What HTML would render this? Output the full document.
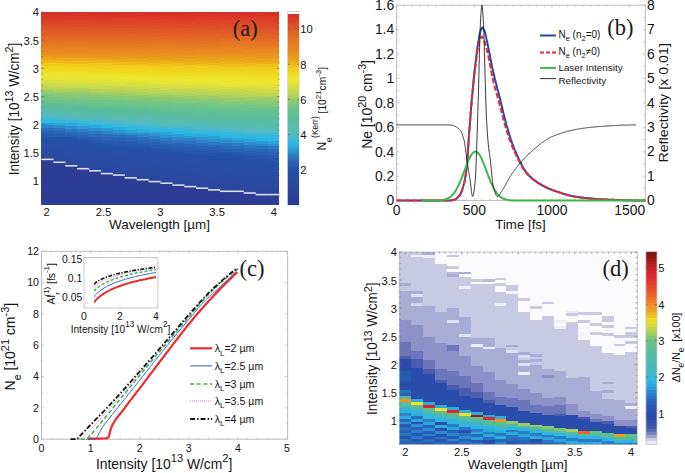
<!DOCTYPE html>
<html><head><meta charset="utf-8"><style>
html,body{margin:0;padding:0;background:#fff;width:685px;height:473px;overflow:hidden}
svg{display:block;font-family:"Liberation Sans",sans-serif}
</style></head><body>
<svg width="685" height="473" viewBox="0 0 685 473" font-family="Liberation Sans, sans-serif">
<defs><linearGradient id="g1" gradientUnits="userSpaceOnUse" x1="0" y1="12.00" x2="0" y2="204.50"><stop offset="0.0000" stop-color="#d82c24"/><stop offset="0.0010" stop-color="#d82c24"/><stop offset="0.0010" stop-color="#d93024"/><stop offset="0.0157" stop-color="#d93024"/><stop offset="0.0157" stop-color="#da3725"/><stop offset="0.0304" stop-color="#da3725"/><stop offset="0.0304" stop-color="#db3d26"/><stop offset="0.0451" stop-color="#db3d26"/><stop offset="0.0451" stop-color="#dd4426"/><stop offset="0.0598" stop-color="#dd4426"/><stop offset="0.0598" stop-color="#de4a26"/><stop offset="0.0745" stop-color="#de4a26"/><stop offset="0.0745" stop-color="#df5126"/><stop offset="0.0892" stop-color="#df5126"/><stop offset="0.0892" stop-color="#e05826"/><stop offset="0.1039" stop-color="#e05826"/><stop offset="0.1039" stop-color="#e15e25"/><stop offset="0.1186" stop-color="#e15e25"/><stop offset="0.1186" stop-color="#e26425"/><stop offset="0.1333" stop-color="#e26425"/><stop offset="0.1333" stop-color="#e46b24"/><stop offset="0.1480" stop-color="#e46b24"/><stop offset="0.1480" stop-color="#e57223"/><stop offset="0.1627" stop-color="#e57223"/><stop offset="0.1627" stop-color="#e57923"/><stop offset="0.1775" stop-color="#e57923"/><stop offset="0.1775" stop-color="#e68022"/><stop offset="0.1922" stop-color="#e68022"/><stop offset="0.1922" stop-color="#e78721"/><stop offset="0.2069" stop-color="#e78721"/><stop offset="0.2069" stop-color="#e88f20"/><stop offset="0.2216" stop-color="#e88f20"/><stop offset="0.2216" stop-color="#ea981e"/><stop offset="0.2363" stop-color="#ea981e"/><stop offset="0.2363" stop-color="#eca61d"/><stop offset="0.2510" stop-color="#eca61d"/><stop offset="0.2510" stop-color="#f0b71a"/><stop offset="0.2657" stop-color="#f0b71a"/><stop offset="0.2657" stop-color="#f0cb1c"/><stop offset="0.2804" stop-color="#f0cb1c"/><stop offset="0.2804" stop-color="#f0d41f"/><stop offset="0.2951" stop-color="#f0d41f"/><stop offset="0.2951" stop-color="#f0db22"/><stop offset="0.3098" stop-color="#f0db22"/><stop offset="0.3098" stop-color="#efe228"/><stop offset="0.3245" stop-color="#efe228"/><stop offset="0.3245" stop-color="#ebe530"/><stop offset="0.3392" stop-color="#ebe530"/><stop offset="0.3392" stop-color="#e5e438"/><stop offset="0.3539" stop-color="#e5e438"/><stop offset="0.3539" stop-color="#dae041"/><stop offset="0.3686" stop-color="#dae041"/><stop offset="0.3686" stop-color="#cdda49"/><stop offset="0.3833" stop-color="#cdda49"/><stop offset="0.3833" stop-color="#bcd554"/><stop offset="0.3981" stop-color="#bcd554"/><stop offset="0.3981" stop-color="#a9d05f"/><stop offset="0.4128" stop-color="#a9d05f"/><stop offset="0.4128" stop-color="#8fcb70"/><stop offset="0.4275" stop-color="#8fcb70"/><stop offset="0.4275" stop-color="#80c77b"/><stop offset="0.4422" stop-color="#80c77b"/><stop offset="0.4422" stop-color="#72c486"/><stop offset="0.4569" stop-color="#72c486"/><stop offset="0.4569" stop-color="#69c28d"/><stop offset="0.4716" stop-color="#69c28d"/><stop offset="0.4716" stop-color="#5fc095"/><stop offset="0.4863" stop-color="#5fc095"/><stop offset="0.4863" stop-color="#59bc9d"/><stop offset="0.5010" stop-color="#59bc9d"/><stop offset="0.5010" stop-color="#58bca5"/><stop offset="0.5157" stop-color="#58bca5"/><stop offset="0.5157" stop-color="#57bcaf"/><stop offset="0.5304" stop-color="#57bcaf"/><stop offset="0.5304" stop-color="#55babd"/><stop offset="0.5451" stop-color="#55babd"/><stop offset="0.5451" stop-color="#42b8d5"/><stop offset="0.5598" stop-color="#42b8d5"/><stop offset="0.5598" stop-color="#2cb8e5"/><stop offset="0.5745" stop-color="#2cb8e5"/><stop offset="0.5745" stop-color="#2b9ed8"/><stop offset="0.5892" stop-color="#2b9ed8"/><stop offset="0.5892" stop-color="#2d84c8"/><stop offset="0.6039" stop-color="#2d84c8"/><stop offset="0.6039" stop-color="#2b6ebc"/><stop offset="0.6186" stop-color="#2b6ebc"/><stop offset="0.6186" stop-color="#2862b4"/><stop offset="0.6334" stop-color="#2862b4"/><stop offset="0.6334" stop-color="#2559ae"/><stop offset="0.6481" stop-color="#2559ae"/><stop offset="0.6481" stop-color="#2452a9"/><stop offset="0.6628" stop-color="#2452a9"/><stop offset="0.6628" stop-color="#254fa7"/><stop offset="0.6775" stop-color="#254fa7"/><stop offset="0.6775" stop-color="#264ea6"/><stop offset="0.6922" stop-color="#264ea6"/><stop offset="0.6922" stop-color="#274da5"/><stop offset="0.7069" stop-color="#274da5"/><stop offset="0.7069" stop-color="#284ca4"/><stop offset="0.7216" stop-color="#284ca4"/><stop offset="0.7216" stop-color="#294ba3"/><stop offset="0.7363" stop-color="#294ba3"/><stop offset="0.7363" stop-color="#2a4aa2"/><stop offset="0.7510" stop-color="#2a4aa2"/><stop offset="0.7510" stop-color="#2a49a1"/><stop offset="0.7657" stop-color="#2a49a1"/><stop offset="0.7657" stop-color="#2d3c94"/><stop offset="1.0000" stop-color="#2d3c94"/></linearGradient>
<linearGradient id="g2" gradientUnits="userSpaceOnUse" x1="0" y1="12.00" x2="0" y2="204.50"><stop offset="0.0000" stop-color="#d82c24"/><stop offset="0.0013" stop-color="#d82c24"/><stop offset="0.0013" stop-color="#d93024"/><stop offset="0.0160" stop-color="#d93024"/><stop offset="0.0160" stop-color="#da3725"/><stop offset="0.0307" stop-color="#da3725"/><stop offset="0.0307" stop-color="#db3d26"/><stop offset="0.0455" stop-color="#db3d26"/><stop offset="0.0455" stop-color="#dd4426"/><stop offset="0.0602" stop-color="#dd4426"/><stop offset="0.0602" stop-color="#de4b26"/><stop offset="0.0749" stop-color="#de4b26"/><stop offset="0.0749" stop-color="#df5126"/><stop offset="0.0896" stop-color="#df5126"/><stop offset="0.0896" stop-color="#e05826"/><stop offset="0.1043" stop-color="#e05826"/><stop offset="0.1043" stop-color="#e15e25"/><stop offset="0.1190" stop-color="#e15e25"/><stop offset="0.1190" stop-color="#e26425"/><stop offset="0.1337" stop-color="#e26425"/><stop offset="0.1337" stop-color="#e46b24"/><stop offset="0.1484" stop-color="#e46b24"/><stop offset="0.1484" stop-color="#e57223"/><stop offset="0.1631" stop-color="#e57223"/><stop offset="0.1631" stop-color="#e57923"/><stop offset="0.1778" stop-color="#e57923"/><stop offset="0.1778" stop-color="#e68022"/><stop offset="0.1925" stop-color="#e68022"/><stop offset="0.1925" stop-color="#e78721"/><stop offset="0.2072" stop-color="#e78721"/><stop offset="0.2072" stop-color="#e88f20"/><stop offset="0.2219" stop-color="#e88f20"/><stop offset="0.2219" stop-color="#ea981e"/><stop offset="0.2366" stop-color="#ea981e"/><stop offset="0.2366" stop-color="#eca61d"/><stop offset="0.2513" stop-color="#eca61d"/><stop offset="0.2513" stop-color="#f0b61a"/><stop offset="0.2661" stop-color="#f0b61a"/><stop offset="0.2661" stop-color="#f0ca1c"/><stop offset="0.2808" stop-color="#f0ca1c"/><stop offset="0.2808" stop-color="#f0d41f"/><stop offset="0.2955" stop-color="#f0d41f"/><stop offset="0.2955" stop-color="#f0db22"/><stop offset="0.3102" stop-color="#f0db22"/><stop offset="0.3102" stop-color="#efe228"/><stop offset="0.3249" stop-color="#efe228"/><stop offset="0.3249" stop-color="#ece62f"/><stop offset="0.3396" stop-color="#ece62f"/><stop offset="0.3396" stop-color="#e6e437"/><stop offset="0.3543" stop-color="#e6e437"/><stop offset="0.3543" stop-color="#dbe040"/><stop offset="0.3690" stop-color="#dbe040"/><stop offset="0.3690" stop-color="#cfdb48"/><stop offset="0.3837" stop-color="#cfdb48"/><stop offset="0.3837" stop-color="#bed652"/><stop offset="0.3984" stop-color="#bed652"/><stop offset="0.3984" stop-color="#acd15d"/><stop offset="0.4131" stop-color="#acd15d"/><stop offset="0.4131" stop-color="#92cb6e"/><stop offset="0.4278" stop-color="#92cb6e"/><stop offset="0.4278" stop-color="#83c879"/><stop offset="0.4425" stop-color="#83c879"/><stop offset="0.4425" stop-color="#74c484"/><stop offset="0.4572" stop-color="#74c484"/><stop offset="0.4572" stop-color="#6bc28b"/><stop offset="0.4719" stop-color="#6bc28b"/><stop offset="0.4719" stop-color="#61c093"/><stop offset="0.4866" stop-color="#61c093"/><stop offset="0.4866" stop-color="#5abd9b"/><stop offset="0.5014" stop-color="#5abd9b"/><stop offset="0.5014" stop-color="#58bca3"/><stop offset="0.5161" stop-color="#58bca3"/><stop offset="0.5161" stop-color="#58bcac"/><stop offset="0.5308" stop-color="#58bcac"/><stop offset="0.5308" stop-color="#55bbb9"/><stop offset="0.5455" stop-color="#55bbb9"/><stop offset="0.5455" stop-color="#49b9ce"/><stop offset="0.5602" stop-color="#49b9ce"/><stop offset="0.5602" stop-color="#33b8e0"/><stop offset="0.5749" stop-color="#33b8e0"/><stop offset="0.5749" stop-color="#2aa8de"/><stop offset="0.5896" stop-color="#2aa8de"/><stop offset="0.5896" stop-color="#2e8dcd"/><stop offset="0.6043" stop-color="#2e8dcd"/><stop offset="0.6043" stop-color="#2c74c0"/><stop offset="0.6190" stop-color="#2c74c0"/><stop offset="0.6190" stop-color="#2966b7"/><stop offset="0.6337" stop-color="#2966b7"/><stop offset="0.6337" stop-color="#265db0"/><stop offset="0.6484" stop-color="#265db0"/><stop offset="0.6484" stop-color="#2454aa"/><stop offset="0.6631" stop-color="#2454aa"/><stop offset="0.6631" stop-color="#2450a8"/><stop offset="0.6778" stop-color="#2450a8"/><stop offset="0.6778" stop-color="#254fa7"/><stop offset="0.6925" stop-color="#254fa7"/><stop offset="0.6925" stop-color="#274da5"/><stop offset="0.7072" stop-color="#274da5"/><stop offset="0.7072" stop-color="#284ca4"/><stop offset="0.7220" stop-color="#284ca4"/><stop offset="0.7220" stop-color="#294ba3"/><stop offset="0.7367" stop-color="#294ba3"/><stop offset="0.7367" stop-color="#2a4aa2"/><stop offset="0.7514" stop-color="#2a4aa2"/><stop offset="0.7514" stop-color="#2a4aa2"/><stop offset="0.7661" stop-color="#2a4aa2"/><stop offset="0.7661" stop-color="#2a49a1"/><stop offset="0.7808" stop-color="#2a49a1"/><stop offset="0.7808" stop-color="#2d3c94"/><stop offset="1.0000" stop-color="#2d3c94"/></linearGradient>
<linearGradient id="g3" gradientUnits="userSpaceOnUse" x1="0" y1="12.00" x2="0" y2="204.50"><stop offset="0.0000" stop-color="#d82d24"/><stop offset="0.0048" stop-color="#d82d24"/><stop offset="0.0048" stop-color="#d93225"/><stop offset="0.0195" stop-color="#d93225"/><stop offset="0.0195" stop-color="#da3825"/><stop offset="0.0342" stop-color="#da3825"/><stop offset="0.0342" stop-color="#dc3f26"/><stop offset="0.0489" stop-color="#dc3f26"/><stop offset="0.0489" stop-color="#dd4626"/><stop offset="0.0636" stop-color="#dd4626"/><stop offset="0.0636" stop-color="#de4c26"/><stop offset="0.0783" stop-color="#de4c26"/><stop offset="0.0783" stop-color="#df5326"/><stop offset="0.0930" stop-color="#df5326"/><stop offset="0.0930" stop-color="#e05926"/><stop offset="0.1078" stop-color="#e05926"/><stop offset="0.1078" stop-color="#e15f25"/><stop offset="0.1225" stop-color="#e15f25"/><stop offset="0.1225" stop-color="#e36625"/><stop offset="0.1372" stop-color="#e36625"/><stop offset="0.1372" stop-color="#e46d24"/><stop offset="0.1519" stop-color="#e46d24"/><stop offset="0.1519" stop-color="#e57423"/><stop offset="0.1666" stop-color="#e57423"/><stop offset="0.1666" stop-color="#e67b22"/><stop offset="0.1813" stop-color="#e67b22"/><stop offset="0.1813" stop-color="#e78221"/><stop offset="0.1960" stop-color="#e78221"/><stop offset="0.1960" stop-color="#e88920"/><stop offset="0.2107" stop-color="#e88920"/><stop offset="0.2107" stop-color="#e9911f"/><stop offset="0.2254" stop-color="#e9911f"/><stop offset="0.2254" stop-color="#ea9a1e"/><stop offset="0.2401" stop-color="#ea9a1e"/><stop offset="0.2401" stop-color="#eda91c"/><stop offset="0.2548" stop-color="#eda91c"/><stop offset="0.2548" stop-color="#f0b91a"/><stop offset="0.2695" stop-color="#f0b91a"/><stop offset="0.2695" stop-color="#f0cd1c"/><stop offset="0.2842" stop-color="#f0cd1c"/><stop offset="0.2842" stop-color="#f0d51f"/><stop offset="0.2989" stop-color="#f0d51f"/><stop offset="0.2989" stop-color="#f0dc22"/><stop offset="0.3136" stop-color="#f0dc22"/><stop offset="0.3136" stop-color="#efe228"/><stop offset="0.3284" stop-color="#efe228"/><stop offset="0.3284" stop-color="#ebe530"/><stop offset="0.3431" stop-color="#ebe530"/><stop offset="0.3431" stop-color="#e5e438"/><stop offset="0.3578" stop-color="#e5e438"/><stop offset="0.3578" stop-color="#dae040"/><stop offset="0.3725" stop-color="#dae040"/><stop offset="0.3725" stop-color="#cdda49"/><stop offset="0.3872" stop-color="#cdda49"/><stop offset="0.3872" stop-color="#bdd553"/><stop offset="0.4019" stop-color="#bdd553"/><stop offset="0.4019" stop-color="#abd15e"/><stop offset="0.4166" stop-color="#abd15e"/><stop offset="0.4166" stop-color="#91cb6e"/><stop offset="0.4313" stop-color="#91cb6e"/><stop offset="0.4313" stop-color="#82c87a"/><stop offset="0.4460" stop-color="#82c87a"/><stop offset="0.4460" stop-color="#73c485"/><stop offset="0.4607" stop-color="#73c485"/><stop offset="0.4607" stop-color="#6bc28c"/><stop offset="0.4754" stop-color="#6bc28c"/><stop offset="0.4754" stop-color="#61c093"/><stop offset="0.4901" stop-color="#61c093"/><stop offset="0.4901" stop-color="#5bbd9b"/><stop offset="0.5048" stop-color="#5bbd9b"/><stop offset="0.5048" stop-color="#58bca3"/><stop offset="0.5195" stop-color="#58bca3"/><stop offset="0.5195" stop-color="#58bcab"/><stop offset="0.5342" stop-color="#58bcab"/><stop offset="0.5342" stop-color="#56bbb8"/><stop offset="0.5490" stop-color="#56bbb8"/><stop offset="0.5490" stop-color="#4bb9cb"/><stop offset="0.5637" stop-color="#4bb9cb"/><stop offset="0.5637" stop-color="#36b8de"/><stop offset="0.5784" stop-color="#36b8de"/><stop offset="0.5784" stop-color="#2aabe0"/><stop offset="0.5931" stop-color="#2aabe0"/><stop offset="0.5931" stop-color="#2d91d0"/><stop offset="0.6078" stop-color="#2d91d0"/><stop offset="0.6078" stop-color="#2c78c2"/><stop offset="0.6225" stop-color="#2c78c2"/><stop offset="0.6225" stop-color="#2a69b9"/><stop offset="0.6372" stop-color="#2a69b9"/><stop offset="0.6372" stop-color="#275eb1"/><stop offset="0.6519" stop-color="#275eb1"/><stop offset="0.6519" stop-color="#2556ab"/><stop offset="0.6666" stop-color="#2556ab"/><stop offset="0.6666" stop-color="#2450a8"/><stop offset="0.6813" stop-color="#2450a8"/><stop offset="0.6813" stop-color="#254fa7"/><stop offset="0.6960" stop-color="#254fa7"/><stop offset="0.6960" stop-color="#264ea6"/><stop offset="0.7107" stop-color="#264ea6"/><stop offset="0.7107" stop-color="#274da5"/><stop offset="0.7254" stop-color="#274da5"/><stop offset="0.7254" stop-color="#284ca4"/><stop offset="0.7401" stop-color="#284ca4"/><stop offset="0.7401" stop-color="#294ba3"/><stop offset="0.7548" stop-color="#294ba3"/><stop offset="0.7548" stop-color="#2a4aa2"/><stop offset="0.7695" stop-color="#2a4aa2"/><stop offset="0.7695" stop-color="#2a49a1"/><stop offset="0.7843" stop-color="#2a49a1"/><stop offset="0.7843" stop-color="#2a48a0"/><stop offset="0.7990" stop-color="#2a48a0"/><stop offset="0.7990" stop-color="#2d3c94"/><stop offset="1.0000" stop-color="#2d3c94"/></linearGradient>
<linearGradient id="g4" gradientUnits="userSpaceOnUse" x1="0" y1="12.00" x2="0" y2="204.50"><stop offset="0.0000" stop-color="#d82d24"/><stop offset="0.0052" stop-color="#d82d24"/><stop offset="0.0052" stop-color="#d93225"/><stop offset="0.0199" stop-color="#d93225"/><stop offset="0.0199" stop-color="#da3825"/><stop offset="0.0346" stop-color="#da3825"/><stop offset="0.0346" stop-color="#dc3f26"/><stop offset="0.0493" stop-color="#dc3f26"/><stop offset="0.0493" stop-color="#dd4626"/><stop offset="0.0640" stop-color="#dd4626"/><stop offset="0.0640" stop-color="#de4c26"/><stop offset="0.0787" stop-color="#de4c26"/><stop offset="0.0787" stop-color="#df5326"/><stop offset="0.0934" stop-color="#df5326"/><stop offset="0.0934" stop-color="#e05926"/><stop offset="0.1081" stop-color="#e05926"/><stop offset="0.1081" stop-color="#e15f25"/><stop offset="0.1228" stop-color="#e15f25"/><stop offset="0.1228" stop-color="#e36625"/><stop offset="0.1375" stop-color="#e36625"/><stop offset="0.1375" stop-color="#e46d24"/><stop offset="0.1522" stop-color="#e46d24"/><stop offset="0.1522" stop-color="#e57423"/><stop offset="0.1669" stop-color="#e57423"/><stop offset="0.1669" stop-color="#e67b22"/><stop offset="0.1816" stop-color="#e67b22"/><stop offset="0.1816" stop-color="#e78221"/><stop offset="0.1964" stop-color="#e78221"/><stop offset="0.1964" stop-color="#e88920"/><stop offset="0.2111" stop-color="#e88920"/><stop offset="0.2111" stop-color="#e9911f"/><stop offset="0.2258" stop-color="#e9911f"/><stop offset="0.2258" stop-color="#ea9a1e"/><stop offset="0.2405" stop-color="#ea9a1e"/><stop offset="0.2405" stop-color="#eda91c"/><stop offset="0.2552" stop-color="#eda91c"/><stop offset="0.2552" stop-color="#f0b91a"/><stop offset="0.2699" stop-color="#f0b91a"/><stop offset="0.2699" stop-color="#f0cc1c"/><stop offset="0.2846" stop-color="#f0cc1c"/><stop offset="0.2846" stop-color="#f0d41f"/><stop offset="0.2993" stop-color="#f0d41f"/><stop offset="0.2993" stop-color="#f0db22"/><stop offset="0.3140" stop-color="#f0db22"/><stop offset="0.3140" stop-color="#efe127"/><stop offset="0.3287" stop-color="#efe127"/><stop offset="0.3287" stop-color="#ece62f"/><stop offset="0.3434" stop-color="#ece62f"/><stop offset="0.3434" stop-color="#e6e437"/><stop offset="0.3581" stop-color="#e6e437"/><stop offset="0.3581" stop-color="#dce03f"/><stop offset="0.3728" stop-color="#dce03f"/><stop offset="0.3728" stop-color="#cfdb47"/><stop offset="0.3875" stop-color="#cfdb47"/><stop offset="0.3875" stop-color="#bfd652"/><stop offset="0.4022" stop-color="#bfd652"/><stop offset="0.4022" stop-color="#add15d"/><stop offset="0.4170" stop-color="#add15d"/><stop offset="0.4170" stop-color="#93cc6d"/><stop offset="0.4317" stop-color="#93cc6d"/><stop offset="0.4317" stop-color="#85c878"/><stop offset="0.4464" stop-color="#85c878"/><stop offset="0.4464" stop-color="#76c583"/><stop offset="0.4611" stop-color="#76c583"/><stop offset="0.4611" stop-color="#6dc38a"/><stop offset="0.4758" stop-color="#6dc38a"/><stop offset="0.4758" stop-color="#63c192"/><stop offset="0.4905" stop-color="#63c192"/><stop offset="0.4905" stop-color="#5cbe99"/><stop offset="0.5052" stop-color="#5cbe99"/><stop offset="0.5052" stop-color="#58bca1"/><stop offset="0.5199" stop-color="#58bca1"/><stop offset="0.5199" stop-color="#58bca9"/><stop offset="0.5346" stop-color="#58bca9"/><stop offset="0.5346" stop-color="#56bbb4"/><stop offset="0.5493" stop-color="#56bbb4"/><stop offset="0.5493" stop-color="#52bac3"/><stop offset="0.5640" stop-color="#52bac3"/><stop offset="0.5640" stop-color="#3cb8d9"/><stop offset="0.5787" stop-color="#3cb8d9"/><stop offset="0.5787" stop-color="#2ab4e4"/><stop offset="0.5934" stop-color="#2ab4e4"/><stop offset="0.5934" stop-color="#2c9ad6"/><stop offset="0.6081" stop-color="#2c9ad6"/><stop offset="0.6081" stop-color="#2d81c7"/><stop offset="0.6228" stop-color="#2d81c7"/><stop offset="0.6228" stop-color="#2b6ebc"/><stop offset="0.6375" stop-color="#2b6ebc"/><stop offset="0.6375" stop-color="#2862b4"/><stop offset="0.6523" stop-color="#2862b4"/><stop offset="0.6523" stop-color="#265aae"/><stop offset="0.6670" stop-color="#265aae"/><stop offset="0.6670" stop-color="#2452a9"/><stop offset="0.6817" stop-color="#2452a9"/><stop offset="0.6817" stop-color="#254fa7"/><stop offset="0.6964" stop-color="#254fa7"/><stop offset="0.6964" stop-color="#264ea6"/><stop offset="0.7111" stop-color="#264ea6"/><stop offset="0.7111" stop-color="#274da5"/><stop offset="0.7258" stop-color="#274da5"/><stop offset="0.7258" stop-color="#284ca4"/><stop offset="0.7405" stop-color="#284ca4"/><stop offset="0.7405" stop-color="#294ba3"/><stop offset="0.7552" stop-color="#294ba3"/><stop offset="0.7552" stop-color="#294ba3"/><stop offset="0.7699" stop-color="#294ba3"/><stop offset="0.7699" stop-color="#2a4aa2"/><stop offset="0.7846" stop-color="#2a4aa2"/><stop offset="0.7846" stop-color="#2a49a1"/><stop offset="0.7993" stop-color="#2a49a1"/><stop offset="0.7993" stop-color="#2a48a0"/><stop offset="0.8140" stop-color="#2a48a0"/><stop offset="0.8140" stop-color="#2d3c94"/><stop offset="1.0000" stop-color="#2d3c94"/></linearGradient>
<linearGradient id="g5" gradientUnits="userSpaceOnUse" x1="0" y1="12.00" x2="0" y2="204.50"><stop offset="0.0000" stop-color="#d82c24"/><stop offset="0.0014" stop-color="#d82c24"/><stop offset="0.0014" stop-color="#d93024"/><stop offset="0.0161" stop-color="#d93024"/><stop offset="0.0161" stop-color="#da3725"/><stop offset="0.0308" stop-color="#da3725"/><stop offset="0.0308" stop-color="#db3d26"/><stop offset="0.0455" stop-color="#db3d26"/><stop offset="0.0455" stop-color="#dd4426"/><stop offset="0.0602" stop-color="#dd4426"/><stop offset="0.0602" stop-color="#de4a26"/><stop offset="0.0749" stop-color="#de4a26"/><stop offset="0.0749" stop-color="#df5126"/><stop offset="0.0896" stop-color="#df5126"/><stop offset="0.0896" stop-color="#e05726"/><stop offset="0.1043" stop-color="#e05726"/><stop offset="0.1043" stop-color="#e15e25"/><stop offset="0.1190" stop-color="#e15e25"/><stop offset="0.1190" stop-color="#e26425"/><stop offset="0.1337" stop-color="#e26425"/><stop offset="0.1337" stop-color="#e46b24"/><stop offset="0.1484" stop-color="#e46b24"/><stop offset="0.1484" stop-color="#e57223"/><stop offset="0.1631" stop-color="#e57223"/><stop offset="0.1631" stop-color="#e57923"/><stop offset="0.1778" stop-color="#e57923"/><stop offset="0.1778" stop-color="#e68022"/><stop offset="0.1926" stop-color="#e68022"/><stop offset="0.1926" stop-color="#e78721"/><stop offset="0.2073" stop-color="#e78721"/><stop offset="0.2073" stop-color="#e88f20"/><stop offset="0.2220" stop-color="#e88f20"/><stop offset="0.2220" stop-color="#e9981f"/><stop offset="0.2367" stop-color="#e9981f"/><stop offset="0.2367" stop-color="#eca41d"/><stop offset="0.2514" stop-color="#eca41d"/><stop offset="0.2514" stop-color="#efb41b"/><stop offset="0.2661" stop-color="#efb41b"/><stop offset="0.2661" stop-color="#f0c61b"/><stop offset="0.2808" stop-color="#f0c61b"/><stop offset="0.2808" stop-color="#f0d21e"/><stop offset="0.2955" stop-color="#f0d21e"/><stop offset="0.2955" stop-color="#f0d921"/><stop offset="0.3102" stop-color="#f0d921"/><stop offset="0.3102" stop-color="#efdf25"/><stop offset="0.3249" stop-color="#efdf25"/><stop offset="0.3249" stop-color="#eee52b"/><stop offset="0.3396" stop-color="#eee52b"/><stop offset="0.3396" stop-color="#e9e534"/><stop offset="0.3543" stop-color="#e9e534"/><stop offset="0.3543" stop-color="#e1e33c"/><stop offset="0.3690" stop-color="#e1e33c"/><stop offset="0.3690" stop-color="#d4dd44"/><stop offset="0.3837" stop-color="#d4dd44"/><stop offset="0.3837" stop-color="#c6d84d"/><stop offset="0.3984" stop-color="#c6d84d"/><stop offset="0.3984" stop-color="#b5d358"/><stop offset="0.4132" stop-color="#b5d358"/><stop offset="0.4132" stop-color="#a0ce65"/><stop offset="0.4279" stop-color="#a0ce65"/><stop offset="0.4279" stop-color="#8bca73"/><stop offset="0.4426" stop-color="#8bca73"/><stop offset="0.4426" stop-color="#7dc77e"/><stop offset="0.4573" stop-color="#7dc77e"/><stop offset="0.4573" stop-color="#70c487"/><stop offset="0.4720" stop-color="#70c487"/><stop offset="0.4720" stop-color="#68c28e"/><stop offset="0.4867" stop-color="#68c28e"/><stop offset="0.4867" stop-color="#5fbf95"/><stop offset="0.5014" stop-color="#5fbf95"/><stop offset="0.5014" stop-color="#59bd9d"/><stop offset="0.5161" stop-color="#59bd9d"/><stop offset="0.5161" stop-color="#58bca4"/><stop offset="0.5308" stop-color="#58bca4"/><stop offset="0.5308" stop-color="#58bcad"/><stop offset="0.5455" stop-color="#58bcad"/><stop offset="0.5455" stop-color="#55bbba"/><stop offset="0.5602" stop-color="#55bbba"/><stop offset="0.5602" stop-color="#49b9ce"/><stop offset="0.5749" stop-color="#49b9ce"/><stop offset="0.5749" stop-color="#34b8df"/><stop offset="0.5896" stop-color="#34b8df"/><stop offset="0.5896" stop-color="#2aaadf"/><stop offset="0.6043" stop-color="#2aaadf"/><stop offset="0.6043" stop-color="#2d91d0"/><stop offset="0.6190" stop-color="#2d91d0"/><stop offset="0.6190" stop-color="#2c79c3"/><stop offset="0.6338" stop-color="#2c79c3"/><stop offset="0.6338" stop-color="#2a6ab9"/><stop offset="0.6485" stop-color="#2a6ab9"/><stop offset="0.6485" stop-color="#275fb2"/><stop offset="0.6632" stop-color="#275fb2"/><stop offset="0.6632" stop-color="#2557ac"/><stop offset="0.6779" stop-color="#2557ac"/><stop offset="0.6779" stop-color="#2451a9"/><stop offset="0.6926" stop-color="#2451a9"/><stop offset="0.6926" stop-color="#254fa7"/><stop offset="0.7073" stop-color="#254fa7"/><stop offset="0.7073" stop-color="#264ea6"/><stop offset="0.7220" stop-color="#264ea6"/><stop offset="0.7220" stop-color="#274da5"/><stop offset="0.7367" stop-color="#274da5"/><stop offset="0.7367" stop-color="#284ca4"/><stop offset="0.7514" stop-color="#284ca4"/><stop offset="0.7514" stop-color="#294ba3"/><stop offset="0.7661" stop-color="#294ba3"/><stop offset="0.7661" stop-color="#294ba3"/><stop offset="0.7808" stop-color="#294ba3"/><stop offset="0.7808" stop-color="#2a4aa2"/><stop offset="0.7955" stop-color="#2a4aa2"/><stop offset="0.7955" stop-color="#2a49a1"/><stop offset="0.8102" stop-color="#2a49a1"/><stop offset="0.8102" stop-color="#2a48a0"/><stop offset="0.8249" stop-color="#2a48a0"/><stop offset="0.8249" stop-color="#2d3c94"/><stop offset="1.0000" stop-color="#2d3c94"/></linearGradient>
<linearGradient id="g6" gradientUnits="userSpaceOnUse" x1="0" y1="12.00" x2="0" y2="204.50"><stop offset="0.0000" stop-color="#d82c24"/><stop offset="0.0012" stop-color="#d82c24"/><stop offset="0.0012" stop-color="#d93024"/><stop offset="0.0159" stop-color="#d93024"/><stop offset="0.0159" stop-color="#da3725"/><stop offset="0.0306" stop-color="#da3725"/><stop offset="0.0306" stop-color="#db3d26"/><stop offset="0.0453" stop-color="#db3d26"/><stop offset="0.0453" stop-color="#dd4426"/><stop offset="0.0600" stop-color="#dd4426"/><stop offset="0.0600" stop-color="#de4a26"/><stop offset="0.0747" stop-color="#de4a26"/><stop offset="0.0747" stop-color="#df5126"/><stop offset="0.0894" stop-color="#df5126"/><stop offset="0.0894" stop-color="#e05726"/><stop offset="0.1042" stop-color="#e05726"/><stop offset="0.1042" stop-color="#e15e25"/><stop offset="0.1189" stop-color="#e15e25"/><stop offset="0.1189" stop-color="#e26425"/><stop offset="0.1336" stop-color="#e26425"/><stop offset="0.1336" stop-color="#e46b24"/><stop offset="0.1483" stop-color="#e46b24"/><stop offset="0.1483" stop-color="#e57223"/><stop offset="0.1630" stop-color="#e57223"/><stop offset="0.1630" stop-color="#e57923"/><stop offset="0.1777" stop-color="#e57923"/><stop offset="0.1777" stop-color="#e68022"/><stop offset="0.1924" stop-color="#e68022"/><stop offset="0.1924" stop-color="#e78721"/><stop offset="0.2071" stop-color="#e78721"/><stop offset="0.2071" stop-color="#e88f20"/><stop offset="0.2218" stop-color="#e88f20"/><stop offset="0.2218" stop-color="#e9981f"/><stop offset="0.2365" stop-color="#e9981f"/><stop offset="0.2365" stop-color="#eca41d"/><stop offset="0.2512" stop-color="#eca41d"/><stop offset="0.2512" stop-color="#efb31b"/><stop offset="0.2659" stop-color="#efb31b"/><stop offset="0.2659" stop-color="#f0c41b"/><stop offset="0.2806" stop-color="#f0c41b"/><stop offset="0.2806" stop-color="#f0d11e"/><stop offset="0.2953" stop-color="#f0d11e"/><stop offset="0.2953" stop-color="#f0d820"/><stop offset="0.3100" stop-color="#f0d820"/><stop offset="0.3100" stop-color="#f0de24"/><stop offset="0.3248" stop-color="#f0de24"/><stop offset="0.3248" stop-color="#eee42a"/><stop offset="0.3395" stop-color="#eee42a"/><stop offset="0.3395" stop-color="#eae532"/><stop offset="0.3542" stop-color="#eae532"/><stop offset="0.3542" stop-color="#e3e43b"/><stop offset="0.3689" stop-color="#e3e43b"/><stop offset="0.3689" stop-color="#d6de43"/><stop offset="0.3836" stop-color="#d6de43"/><stop offset="0.3836" stop-color="#c9d84b"/><stop offset="0.3983" stop-color="#c9d84b"/><stop offset="0.3983" stop-color="#b8d456"/><stop offset="0.4130" stop-color="#b8d456"/><stop offset="0.4130" stop-color="#a5cf62"/><stop offset="0.4277" stop-color="#a5cf62"/><stop offset="0.4277" stop-color="#8ecb71"/><stop offset="0.4424" stop-color="#8ecb71"/><stop offset="0.4424" stop-color="#80c77c"/><stop offset="0.4571" stop-color="#80c77c"/><stop offset="0.4571" stop-color="#72c486"/><stop offset="0.4718" stop-color="#72c486"/><stop offset="0.4718" stop-color="#6ac28c"/><stop offset="0.4865" stop-color="#6ac28c"/><stop offset="0.4865" stop-color="#61c093"/><stop offset="0.5012" stop-color="#61c093"/><stop offset="0.5012" stop-color="#5bbd9b"/><stop offset="0.5159" stop-color="#5bbd9b"/><stop offset="0.5159" stop-color="#58bca2"/><stop offset="0.5306" stop-color="#58bca2"/><stop offset="0.5306" stop-color="#58bcaa"/><stop offset="0.5454" stop-color="#58bcaa"/><stop offset="0.5454" stop-color="#56bbb6"/><stop offset="0.5601" stop-color="#56bbb6"/><stop offset="0.5601" stop-color="#50b9c5"/><stop offset="0.5748" stop-color="#50b9c5"/><stop offset="0.5748" stop-color="#3bb8da"/><stop offset="0.5895" stop-color="#3bb8da"/><stop offset="0.5895" stop-color="#2ab4e4"/><stop offset="0.6042" stop-color="#2ab4e4"/><stop offset="0.6042" stop-color="#2b9bd6"/><stop offset="0.6189" stop-color="#2b9bd6"/><stop offset="0.6189" stop-color="#2d83c8"/><stop offset="0.6336" stop-color="#2d83c8"/><stop offset="0.6336" stop-color="#2b6fbd"/><stop offset="0.6483" stop-color="#2b6fbd"/><stop offset="0.6483" stop-color="#2863b5"/><stop offset="0.6630" stop-color="#2863b5"/><stop offset="0.6630" stop-color="#265baf"/><stop offset="0.6777" stop-color="#265baf"/><stop offset="0.6777" stop-color="#2453aa"/><stop offset="0.6924" stop-color="#2453aa"/><stop offset="0.6924" stop-color="#2450a8"/><stop offset="0.7071" stop-color="#2450a8"/><stop offset="0.7071" stop-color="#264ea6"/><stop offset="0.7218" stop-color="#264ea6"/><stop offset="0.7218" stop-color="#274da5"/><stop offset="0.7365" stop-color="#274da5"/><stop offset="0.7365" stop-color="#284ca4"/><stop offset="0.7512" stop-color="#284ca4"/><stop offset="0.7512" stop-color="#284ca4"/><stop offset="0.7659" stop-color="#284ca4"/><stop offset="0.7659" stop-color="#294ba3"/><stop offset="0.7807" stop-color="#294ba3"/><stop offset="0.7807" stop-color="#2a4aa2"/><stop offset="0.7954" stop-color="#2a4aa2"/><stop offset="0.7954" stop-color="#2a4aa2"/><stop offset="0.8101" stop-color="#2a4aa2"/><stop offset="0.8101" stop-color="#2a49a1"/><stop offset="0.8248" stop-color="#2a49a1"/><stop offset="0.8248" stop-color="#2a48a0"/><stop offset="0.8395" stop-color="#2a48a0"/><stop offset="0.8395" stop-color="#2d3c94"/><stop offset="1.0000" stop-color="#2d3c94"/></linearGradient>
<linearGradient id="g7" gradientUnits="userSpaceOnUse" x1="0" y1="12.00" x2="0" y2="204.50"><stop offset="0.0000" stop-color="#d82e24"/><stop offset="0.0090" stop-color="#d82e24"/><stop offset="0.0090" stop-color="#d93325"/><stop offset="0.0237" stop-color="#d93325"/><stop offset="0.0237" stop-color="#db3a25"/><stop offset="0.0384" stop-color="#db3a25"/><stop offset="0.0384" stop-color="#dc4126"/><stop offset="0.0531" stop-color="#dc4126"/><stop offset="0.0531" stop-color="#dd4726"/><stop offset="0.0678" stop-color="#dd4726"/><stop offset="0.0678" stop-color="#de4e26"/><stop offset="0.0825" stop-color="#de4e26"/><stop offset="0.0825" stop-color="#df5426"/><stop offset="0.0972" stop-color="#df5426"/><stop offset="0.0972" stop-color="#e05a26"/><stop offset="0.1119" stop-color="#e05a26"/><stop offset="0.1119" stop-color="#e26125"/><stop offset="0.1267" stop-color="#e26125"/><stop offset="0.1267" stop-color="#e36724"/><stop offset="0.1414" stop-color="#e36724"/><stop offset="0.1414" stop-color="#e46f24"/><stop offset="0.1561" stop-color="#e46f24"/><stop offset="0.1561" stop-color="#e57623"/><stop offset="0.1708" stop-color="#e57623"/><stop offset="0.1708" stop-color="#e67d22"/><stop offset="0.1855" stop-color="#e67d22"/><stop offset="0.1855" stop-color="#e78421"/><stop offset="0.2002" stop-color="#e78421"/><stop offset="0.2002" stop-color="#e88b20"/><stop offset="0.2149" stop-color="#e88b20"/><stop offset="0.2149" stop-color="#e9931f"/><stop offset="0.2296" stop-color="#e9931f"/><stop offset="0.2296" stop-color="#ea9c1e"/><stop offset="0.2443" stop-color="#ea9c1e"/><stop offset="0.2443" stop-color="#edab1c"/><stop offset="0.2590" stop-color="#edab1c"/><stop offset="0.2590" stop-color="#f0ba1a"/><stop offset="0.2737" stop-color="#f0ba1a"/><stop offset="0.2737" stop-color="#f0cc1c"/><stop offset="0.2884" stop-color="#f0cc1c"/><stop offset="0.2884" stop-color="#f0d41f"/><stop offset="0.3031" stop-color="#f0d41f"/><stop offset="0.3031" stop-color="#f0db21"/><stop offset="0.3178" stop-color="#f0db21"/><stop offset="0.3178" stop-color="#efe127"/><stop offset="0.3325" stop-color="#efe127"/><stop offset="0.3325" stop-color="#ede62d"/><stop offset="0.3473" stop-color="#ede62d"/><stop offset="0.3473" stop-color="#e7e535"/><stop offset="0.3620" stop-color="#e7e535"/><stop offset="0.3620" stop-color="#dee13e"/><stop offset="0.3767" stop-color="#dee13e"/><stop offset="0.3767" stop-color="#d1dc46"/><stop offset="0.3914" stop-color="#d1dc46"/><stop offset="0.3914" stop-color="#c2d74f"/><stop offset="0.4061" stop-color="#c2d74f"/><stop offset="0.4061" stop-color="#b1d25a"/><stop offset="0.4208" stop-color="#b1d25a"/><stop offset="0.4208" stop-color="#9acd68"/><stop offset="0.4355" stop-color="#9acd68"/><stop offset="0.4355" stop-color="#89c974"/><stop offset="0.4502" stop-color="#89c974"/><stop offset="0.4502" stop-color="#7bc67f"/><stop offset="0.4649" stop-color="#7bc67f"/><stop offset="0.4649" stop-color="#70c388"/><stop offset="0.4796" stop-color="#70c388"/><stop offset="0.4796" stop-color="#67c28e"/><stop offset="0.4943" stop-color="#67c28e"/><stop offset="0.4943" stop-color="#5fbf96"/><stop offset="0.5090" stop-color="#5fbf96"/><stop offset="0.5090" stop-color="#59bd9d"/><stop offset="0.5237" stop-color="#59bd9d"/><stop offset="0.5237" stop-color="#58bca4"/><stop offset="0.5384" stop-color="#58bca4"/><stop offset="0.5384" stop-color="#58bcac"/><stop offset="0.5531" stop-color="#58bcac"/><stop offset="0.5531" stop-color="#55bbb9"/><stop offset="0.5678" stop-color="#55bbb9"/><stop offset="0.5678" stop-color="#4cb9ca"/><stop offset="0.5826" stop-color="#4cb9ca"/><stop offset="0.5826" stop-color="#38b8dd"/><stop offset="0.5973" stop-color="#38b8dd"/><stop offset="0.5973" stop-color="#2ab0e2"/><stop offset="0.6120" stop-color="#2ab0e2"/><stop offset="0.6120" stop-color="#2c97d4"/><stop offset="0.6267" stop-color="#2c97d4"/><stop offset="0.6267" stop-color="#2d80c6"/><stop offset="0.6414" stop-color="#2d80c6"/><stop offset="0.6414" stop-color="#2b6ebc"/><stop offset="0.6561" stop-color="#2b6ebc"/><stop offset="0.6561" stop-color="#2862b4"/><stop offset="0.6708" stop-color="#2862b4"/><stop offset="0.6708" stop-color="#265aae"/><stop offset="0.6855" stop-color="#265aae"/><stop offset="0.6855" stop-color="#2453a9"/><stop offset="0.7002" stop-color="#2453a9"/><stop offset="0.7002" stop-color="#254fa7"/><stop offset="0.7149" stop-color="#254fa7"/><stop offset="0.7149" stop-color="#264ea6"/><stop offset="0.7296" stop-color="#264ea6"/><stop offset="0.7296" stop-color="#274da5"/><stop offset="0.7443" stop-color="#274da5"/><stop offset="0.7443" stop-color="#284ca4"/><stop offset="0.7590" stop-color="#284ca4"/><stop offset="0.7590" stop-color="#284ca4"/><stop offset="0.7737" stop-color="#284ca4"/><stop offset="0.7737" stop-color="#294ba3"/><stop offset="0.7884" stop-color="#294ba3"/><stop offset="0.7884" stop-color="#2a4aa2"/><stop offset="0.8032" stop-color="#2a4aa2"/><stop offset="0.8032" stop-color="#2a49a1"/><stop offset="0.8179" stop-color="#2a49a1"/><stop offset="0.8179" stop-color="#2a49a1"/><stop offset="0.8326" stop-color="#2a49a1"/><stop offset="0.8326" stop-color="#2a48a0"/><stop offset="0.8473" stop-color="#2a48a0"/><stop offset="0.8473" stop-color="#2d3c94"/><stop offset="1.0000" stop-color="#2d3c94"/></linearGradient>
<linearGradient id="g8" gradientUnits="userSpaceOnUse" x1="0" y1="12.00" x2="0" y2="204.50"><stop offset="0.0000" stop-color="#d82e24"/><stop offset="0.0088" stop-color="#d82e24"/><stop offset="0.0088" stop-color="#d93325"/><stop offset="0.0235" stop-color="#d93325"/><stop offset="0.0235" stop-color="#db3a25"/><stop offset="0.0383" stop-color="#db3a25"/><stop offset="0.0383" stop-color="#dc4126"/><stop offset="0.0530" stop-color="#dc4126"/><stop offset="0.0530" stop-color="#dd4726"/><stop offset="0.0677" stop-color="#dd4726"/><stop offset="0.0677" stop-color="#de4d26"/><stop offset="0.0824" stop-color="#de4d26"/><stop offset="0.0824" stop-color="#df5426"/><stop offset="0.0971" stop-color="#df5426"/><stop offset="0.0971" stop-color="#e05a26"/><stop offset="0.1118" stop-color="#e05a26"/><stop offset="0.1118" stop-color="#e26125"/><stop offset="0.1265" stop-color="#e26125"/><stop offset="0.1265" stop-color="#e36725"/><stop offset="0.1412" stop-color="#e36725"/><stop offset="0.1412" stop-color="#e46f24"/><stop offset="0.1559" stop-color="#e46f24"/><stop offset="0.1559" stop-color="#e57623"/><stop offset="0.1706" stop-color="#e57623"/><stop offset="0.1706" stop-color="#e67d22"/><stop offset="0.1853" stop-color="#e67d22"/><stop offset="0.1853" stop-color="#e78421"/><stop offset="0.2000" stop-color="#e78421"/><stop offset="0.2000" stop-color="#e88b20"/><stop offset="0.2147" stop-color="#e88b20"/><stop offset="0.2147" stop-color="#e9931f"/><stop offset="0.2294" stop-color="#e9931f"/><stop offset="0.2294" stop-color="#ea9c1e"/><stop offset="0.2441" stop-color="#ea9c1e"/><stop offset="0.2441" stop-color="#edaa1c"/><stop offset="0.2589" stop-color="#edaa1c"/><stop offset="0.2589" stop-color="#f0b91a"/><stop offset="0.2736" stop-color="#f0b91a"/><stop offset="0.2736" stop-color="#f0cb1c"/><stop offset="0.2883" stop-color="#f0cb1c"/><stop offset="0.2883" stop-color="#f0d41f"/><stop offset="0.3030" stop-color="#f0d41f"/><stop offset="0.3030" stop-color="#f0da21"/><stop offset="0.3177" stop-color="#f0da21"/><stop offset="0.3177" stop-color="#efe026"/><stop offset="0.3324" stop-color="#efe026"/><stop offset="0.3324" stop-color="#eee52b"/><stop offset="0.3471" stop-color="#eee52b"/><stop offset="0.3471" stop-color="#e8e534"/><stop offset="0.3618" stop-color="#e8e534"/><stop offset="0.3618" stop-color="#e0e23c"/><stop offset="0.3765" stop-color="#e0e23c"/><stop offset="0.3765" stop-color="#d3dd45"/><stop offset="0.3912" stop-color="#d3dd45"/><stop offset="0.3912" stop-color="#c5d74e"/><stop offset="0.4059" stop-color="#c5d74e"/><stop offset="0.4059" stop-color="#b4d358"/><stop offset="0.4206" stop-color="#b4d358"/><stop offset="0.4206" stop-color="#a0ce65"/><stop offset="0.4353" stop-color="#a0ce65"/><stop offset="0.4353" stop-color="#8cca72"/><stop offset="0.4500" stop-color="#8cca72"/><stop offset="0.4500" stop-color="#7ec77d"/><stop offset="0.4647" stop-color="#7ec77d"/><stop offset="0.4647" stop-color="#71c487"/><stop offset="0.4794" stop-color="#71c487"/><stop offset="0.4794" stop-color="#69c28d"/><stop offset="0.4942" stop-color="#69c28d"/><stop offset="0.4942" stop-color="#60c094"/><stop offset="0.5089" stop-color="#60c094"/><stop offset="0.5089" stop-color="#5bbd9b"/><stop offset="0.5236" stop-color="#5bbd9b"/><stop offset="0.5236" stop-color="#58bca2"/><stop offset="0.5383" stop-color="#58bca2"/><stop offset="0.5383" stop-color="#58bcaa"/><stop offset="0.5530" stop-color="#58bcaa"/><stop offset="0.5530" stop-color="#56bbb5"/><stop offset="0.5677" stop-color="#56bbb5"/><stop offset="0.5677" stop-color="#53bac2"/><stop offset="0.5824" stop-color="#53bac2"/><stop offset="0.5824" stop-color="#3fb8d8"/><stop offset="0.5971" stop-color="#3fb8d8"/><stop offset="0.5971" stop-color="#2bb8e5"/><stop offset="0.6118" stop-color="#2bb8e5"/><stop offset="0.6118" stop-color="#2ba1da"/><stop offset="0.6265" stop-color="#2ba1da"/><stop offset="0.6265" stop-color="#2e8acb"/><stop offset="0.6412" stop-color="#2e8acb"/><stop offset="0.6412" stop-color="#2c73bf"/><stop offset="0.6559" stop-color="#2c73bf"/><stop offset="0.6559" stop-color="#2967b7"/><stop offset="0.6706" stop-color="#2967b7"/><stop offset="0.6706" stop-color="#275eb1"/><stop offset="0.6853" stop-color="#275eb1"/><stop offset="0.6853" stop-color="#2556ab"/><stop offset="0.7000" stop-color="#2556ab"/><stop offset="0.7000" stop-color="#2450a8"/><stop offset="0.7148" stop-color="#2450a8"/><stop offset="0.7148" stop-color="#254fa7"/><stop offset="0.7295" stop-color="#254fa7"/><stop offset="0.7295" stop-color="#264ea6"/><stop offset="0.7442" stop-color="#264ea6"/><stop offset="0.7442" stop-color="#274da5"/><stop offset="0.7589" stop-color="#274da5"/><stop offset="0.7589" stop-color="#284ca4"/><stop offset="0.7736" stop-color="#284ca4"/><stop offset="0.7736" stop-color="#294ba3"/><stop offset="0.7883" stop-color="#294ba3"/><stop offset="0.7883" stop-color="#294ba3"/><stop offset="0.8030" stop-color="#294ba3"/><stop offset="0.8030" stop-color="#2a4aa2"/><stop offset="0.8177" stop-color="#2a4aa2"/><stop offset="0.8177" stop-color="#2a49a1"/><stop offset="0.8324" stop-color="#2a49a1"/><stop offset="0.8324" stop-color="#2a49a1"/><stop offset="0.8471" stop-color="#2a49a1"/><stop offset="0.8471" stop-color="#2a48a0"/><stop offset="0.8618" stop-color="#2a48a0"/><stop offset="0.8618" stop-color="#2d3c94"/><stop offset="1.0000" stop-color="#2d3c94"/></linearGradient>
<linearGradient id="g9" gradientUnits="userSpaceOnUse" x1="0" y1="12.00" x2="0" y2="204.50"><stop offset="0.0000" stop-color="#d82d24"/><stop offset="0.0035" stop-color="#d82d24"/><stop offset="0.0035" stop-color="#d93124"/><stop offset="0.0182" stop-color="#d93124"/><stop offset="0.0182" stop-color="#da3825"/><stop offset="0.0329" stop-color="#da3825"/><stop offset="0.0329" stop-color="#dc3e26"/><stop offset="0.0476" stop-color="#dc3e26"/><stop offset="0.0476" stop-color="#dd4526"/><stop offset="0.0623" stop-color="#dd4526"/><stop offset="0.0623" stop-color="#de4b26"/><stop offset="0.0770" stop-color="#de4b26"/><stop offset="0.0770" stop-color="#df5126"/><stop offset="0.0917" stop-color="#df5126"/><stop offset="0.0917" stop-color="#e05826"/><stop offset="0.1064" stop-color="#e05826"/><stop offset="0.1064" stop-color="#e15e25"/><stop offset="0.1211" stop-color="#e15e25"/><stop offset="0.1211" stop-color="#e26425"/><stop offset="0.1358" stop-color="#e26425"/><stop offset="0.1358" stop-color="#e46c24"/><stop offset="0.1506" stop-color="#e46c24"/><stop offset="0.1506" stop-color="#e57323"/><stop offset="0.1653" stop-color="#e57323"/><stop offset="0.1653" stop-color="#e67a22"/><stop offset="0.1800" stop-color="#e67a22"/><stop offset="0.1800" stop-color="#e68122"/><stop offset="0.1947" stop-color="#e68122"/><stop offset="0.1947" stop-color="#e78821"/><stop offset="0.2094" stop-color="#e78821"/><stop offset="0.2094" stop-color="#e89020"/><stop offset="0.2241" stop-color="#e89020"/><stop offset="0.2241" stop-color="#ea991e"/><stop offset="0.2388" stop-color="#ea991e"/><stop offset="0.2388" stop-color="#eca51d"/><stop offset="0.2535" stop-color="#eca51d"/><stop offset="0.2535" stop-color="#efb31b"/><stop offset="0.2682" stop-color="#efb31b"/><stop offset="0.2682" stop-color="#f0c41b"/><stop offset="0.2829" stop-color="#f0c41b"/><stop offset="0.2829" stop-color="#f0d01e"/><stop offset="0.2976" stop-color="#f0d01e"/><stop offset="0.2976" stop-color="#f0d720"/><stop offset="0.3123" stop-color="#f0d720"/><stop offset="0.3123" stop-color="#f0dd23"/><stop offset="0.3270" stop-color="#f0dd23"/><stop offset="0.3270" stop-color="#efe329"/><stop offset="0.3417" stop-color="#efe329"/><stop offset="0.3417" stop-color="#ece62f"/><stop offset="0.3564" stop-color="#ece62f"/><stop offset="0.3564" stop-color="#e5e438"/><stop offset="0.3711" stop-color="#e5e438"/><stop offset="0.3711" stop-color="#dae041"/><stop offset="0.3859" stop-color="#dae041"/><stop offset="0.3859" stop-color="#cdda49"/><stop offset="0.4006" stop-color="#cdda49"/><stop offset="0.4006" stop-color="#bdd553"/><stop offset="0.4153" stop-color="#bdd553"/><stop offset="0.4153" stop-color="#acd15d"/><stop offset="0.4300" stop-color="#acd15d"/><stop offset="0.4300" stop-color="#93cc6d"/><stop offset="0.4447" stop-color="#93cc6d"/><stop offset="0.4447" stop-color="#85c977"/><stop offset="0.4594" stop-color="#85c977"/><stop offset="0.4594" stop-color="#78c582"/><stop offset="0.4741" stop-color="#78c582"/><stop offset="0.4741" stop-color="#6ec389"/><stop offset="0.4888" stop-color="#6ec389"/><stop offset="0.4888" stop-color="#66c190"/><stop offset="0.5035" stop-color="#66c190"/><stop offset="0.5035" stop-color="#5ebf96"/><stop offset="0.5182" stop-color="#5ebf96"/><stop offset="0.5182" stop-color="#59bc9d"/><stop offset="0.5329" stop-color="#59bc9d"/><stop offset="0.5329" stop-color="#58bca4"/><stop offset="0.5476" stop-color="#58bca4"/><stop offset="0.5476" stop-color="#58bcac"/><stop offset="0.5623" stop-color="#58bcac"/><stop offset="0.5623" stop-color="#55bbb9"/><stop offset="0.5770" stop-color="#55bbb9"/><stop offset="0.5770" stop-color="#4db9c9"/><stop offset="0.5917" stop-color="#4db9c9"/><stop offset="0.5917" stop-color="#39b8dc"/><stop offset="0.6065" stop-color="#39b8dc"/><stop offset="0.6065" stop-color="#2ab2e3"/><stop offset="0.6212" stop-color="#2ab2e3"/><stop offset="0.6212" stop-color="#2c9bd6"/><stop offset="0.6359" stop-color="#2c9bd6"/><stop offset="0.6359" stop-color="#2d84c8"/><stop offset="0.6506" stop-color="#2d84c8"/><stop offset="0.6506" stop-color="#2b70bd"/><stop offset="0.6653" stop-color="#2b70bd"/><stop offset="0.6653" stop-color="#2965b6"/><stop offset="0.6800" stop-color="#2965b6"/><stop offset="0.6800" stop-color="#265cb0"/><stop offset="0.6947" stop-color="#265cb0"/><stop offset="0.6947" stop-color="#2455aa"/><stop offset="0.7094" stop-color="#2455aa"/><stop offset="0.7094" stop-color="#2450a8"/><stop offset="0.7241" stop-color="#2450a8"/><stop offset="0.7241" stop-color="#254fa7"/><stop offset="0.7388" stop-color="#254fa7"/><stop offset="0.7388" stop-color="#274da5"/><stop offset="0.7535" stop-color="#274da5"/><stop offset="0.7535" stop-color="#274da5"/><stop offset="0.7682" stop-color="#274da5"/><stop offset="0.7682" stop-color="#284ca4"/><stop offset="0.7829" stop-color="#284ca4"/><stop offset="0.7829" stop-color="#294ba3"/><stop offset="0.7976" stop-color="#294ba3"/><stop offset="0.7976" stop-color="#294ba3"/><stop offset="0.8123" stop-color="#294ba3"/><stop offset="0.8123" stop-color="#2a4aa2"/><stop offset="0.8270" stop-color="#2a4aa2"/><stop offset="0.8270" stop-color="#2a49a1"/><stop offset="0.8418" stop-color="#2a49a1"/><stop offset="0.8418" stop-color="#2a48a0"/><stop offset="0.8565" stop-color="#2a48a0"/><stop offset="0.8565" stop-color="#2a48a0"/><stop offset="0.8712" stop-color="#2a48a0"/><stop offset="0.8712" stop-color="#2d3c94"/><stop offset="1.0000" stop-color="#2d3c94"/></linearGradient>
<linearGradient id="g10" gradientUnits="userSpaceOnUse" x1="0" y1="12.00" x2="0" y2="204.50"><stop offset="0.0000" stop-color="#d92f24"/><stop offset="0.0134" stop-color="#d92f24"/><stop offset="0.0134" stop-color="#da3525"/><stop offset="0.0281" stop-color="#da3525"/><stop offset="0.0281" stop-color="#db3c26"/><stop offset="0.0428" stop-color="#db3c26"/><stop offset="0.0428" stop-color="#dc4226"/><stop offset="0.0575" stop-color="#dc4226"/><stop offset="0.0575" stop-color="#dd4926"/><stop offset="0.0722" stop-color="#dd4926"/><stop offset="0.0722" stop-color="#df4f26"/><stop offset="0.0869" stop-color="#df4f26"/><stop offset="0.0869" stop-color="#e05626"/><stop offset="0.1016" stop-color="#e05626"/><stop offset="0.1016" stop-color="#e15c26"/><stop offset="0.1163" stop-color="#e15c26"/><stop offset="0.1163" stop-color="#e26225"/><stop offset="0.1310" stop-color="#e26225"/><stop offset="0.1310" stop-color="#e36924"/><stop offset="0.1457" stop-color="#e36924"/><stop offset="0.1457" stop-color="#e57123"/><stop offset="0.1604" stop-color="#e57123"/><stop offset="0.1604" stop-color="#e57823"/><stop offset="0.1751" stop-color="#e57823"/><stop offset="0.1751" stop-color="#e67f22"/><stop offset="0.1898" stop-color="#e67f22"/><stop offset="0.1898" stop-color="#e78621"/><stop offset="0.2045" stop-color="#e78621"/><stop offset="0.2045" stop-color="#e88d20"/><stop offset="0.2192" stop-color="#e88d20"/><stop offset="0.2192" stop-color="#e9961f"/><stop offset="0.2340" stop-color="#e9961f"/><stop offset="0.2340" stop-color="#eba01d"/><stop offset="0.2487" stop-color="#eba01d"/><stop offset="0.2487" stop-color="#eeae1b"/><stop offset="0.2634" stop-color="#eeae1b"/><stop offset="0.2634" stop-color="#f0bd1a"/><stop offset="0.2781" stop-color="#f0bd1a"/><stop offset="0.2781" stop-color="#f0cd1c"/><stop offset="0.2928" stop-color="#f0cd1c"/><stop offset="0.2928" stop-color="#f0d51f"/><stop offset="0.3075" stop-color="#f0d51f"/><stop offset="0.3075" stop-color="#f0db21"/><stop offset="0.3222" stop-color="#f0db21"/><stop offset="0.3222" stop-color="#efe026"/><stop offset="0.3369" stop-color="#efe026"/><stop offset="0.3369" stop-color="#eee52b"/><stop offset="0.3516" stop-color="#eee52b"/><stop offset="0.3516" stop-color="#e8e534"/><stop offset="0.3663" stop-color="#e8e534"/><stop offset="0.3663" stop-color="#e0e23d"/><stop offset="0.3810" stop-color="#e0e23d"/><stop offset="0.3810" stop-color="#d3dd45"/><stop offset="0.3957" stop-color="#d3dd45"/><stop offset="0.3957" stop-color="#c5d74e"/><stop offset="0.4104" stop-color="#c5d74e"/><stop offset="0.4104" stop-color="#b5d358"/><stop offset="0.4251" stop-color="#b5d358"/><stop offset="0.4251" stop-color="#a1cf64"/><stop offset="0.4398" stop-color="#a1cf64"/><stop offset="0.4398" stop-color="#8cca72"/><stop offset="0.4546" stop-color="#8cca72"/><stop offset="0.4546" stop-color="#7fc77c"/><stop offset="0.4693" stop-color="#7fc77c"/><stop offset="0.4693" stop-color="#72c486"/><stop offset="0.4840" stop-color="#72c486"/><stop offset="0.4840" stop-color="#6ac28c"/><stop offset="0.4987" stop-color="#6ac28c"/><stop offset="0.4987" stop-color="#62c093"/><stop offset="0.5134" stop-color="#62c093"/><stop offset="0.5134" stop-color="#5cbe99"/><stop offset="0.5281" stop-color="#5cbe99"/><stop offset="0.5281" stop-color="#58bca0"/><stop offset="0.5428" stop-color="#58bca0"/><stop offset="0.5428" stop-color="#58bca7"/><stop offset="0.5575" stop-color="#58bca7"/><stop offset="0.5575" stop-color="#57bcb1"/><stop offset="0.5722" stop-color="#57bcb1"/><stop offset="0.5722" stop-color="#55babd"/><stop offset="0.5869" stop-color="#55babd"/><stop offset="0.5869" stop-color="#46b8d1"/><stop offset="0.6016" stop-color="#46b8d1"/><stop offset="0.6016" stop-color="#33b8e0"/><stop offset="0.6163" stop-color="#33b8e0"/><stop offset="0.6163" stop-color="#2aabdf"/><stop offset="0.6310" stop-color="#2aabdf"/><stop offset="0.6310" stop-color="#2d94d1"/><stop offset="0.6457" stop-color="#2d94d1"/><stop offset="0.6457" stop-color="#2d7ec5"/><stop offset="0.6604" stop-color="#2d7ec5"/><stop offset="0.6604" stop-color="#2b6dbc"/><stop offset="0.6751" stop-color="#2b6dbc"/><stop offset="0.6751" stop-color="#2862b4"/><stop offset="0.6899" stop-color="#2862b4"/><stop offset="0.6899" stop-color="#265baf"/><stop offset="0.7046" stop-color="#265baf"/><stop offset="0.7046" stop-color="#2453aa"/><stop offset="0.7193" stop-color="#2453aa"/><stop offset="0.7193" stop-color="#2450a8"/><stop offset="0.7340" stop-color="#2450a8"/><stop offset="0.7340" stop-color="#264ea6"/><stop offset="0.7487" stop-color="#264ea6"/><stop offset="0.7487" stop-color="#274da5"/><stop offset="0.7634" stop-color="#274da5"/><stop offset="0.7634" stop-color="#274da5"/><stop offset="0.7781" stop-color="#274da5"/><stop offset="0.7781" stop-color="#284ca4"/><stop offset="0.7928" stop-color="#284ca4"/><stop offset="0.7928" stop-color="#294ba3"/><stop offset="0.8075" stop-color="#294ba3"/><stop offset="0.8075" stop-color="#2a4aa2"/><stop offset="0.8222" stop-color="#2a4aa2"/><stop offset="0.8222" stop-color="#2a4aa2"/><stop offset="0.8369" stop-color="#2a4aa2"/><stop offset="0.8369" stop-color="#2a49a1"/><stop offset="0.8516" stop-color="#2a49a1"/><stop offset="0.8516" stop-color="#2a48a0"/><stop offset="0.8663" stop-color="#2a48a0"/><stop offset="0.8663" stop-color="#2a48a0"/><stop offset="0.8810" stop-color="#2a48a0"/><stop offset="0.8810" stop-color="#2d3c94"/><stop offset="1.0000" stop-color="#2d3c94"/></linearGradient>
<linearGradient id="g11" gradientUnits="userSpaceOnUse" x1="0" y1="12.00" x2="0" y2="204.50"><stop offset="0.0000" stop-color="#d82e24"/><stop offset="0.0070" stop-color="#d82e24"/><stop offset="0.0070" stop-color="#d93225"/><stop offset="0.0217" stop-color="#d93225"/><stop offset="0.0217" stop-color="#db3925"/><stop offset="0.0364" stop-color="#db3925"/><stop offset="0.0364" stop-color="#dc4026"/><stop offset="0.0511" stop-color="#dc4026"/><stop offset="0.0511" stop-color="#dd4626"/><stop offset="0.0658" stop-color="#dd4626"/><stop offset="0.0658" stop-color="#de4c26"/><stop offset="0.0805" stop-color="#de4c26"/><stop offset="0.0805" stop-color="#df5326"/><stop offset="0.0952" stop-color="#df5326"/><stop offset="0.0952" stop-color="#e05926"/><stop offset="0.1099" stop-color="#e05926"/><stop offset="0.1099" stop-color="#e15f25"/><stop offset="0.1246" stop-color="#e15f25"/><stop offset="0.1246" stop-color="#e36625"/><stop offset="0.1393" stop-color="#e36625"/><stop offset="0.1393" stop-color="#e46e24"/><stop offset="0.1540" stop-color="#e46e24"/><stop offset="0.1540" stop-color="#e57523"/><stop offset="0.1687" stop-color="#e57523"/><stop offset="0.1687" stop-color="#e67c22"/><stop offset="0.1834" stop-color="#e67c22"/><stop offset="0.1834" stop-color="#e78321"/><stop offset="0.1981" stop-color="#e78321"/><stop offset="0.1981" stop-color="#e88920"/><stop offset="0.2129" stop-color="#e88920"/><stop offset="0.2129" stop-color="#e9921f"/><stop offset="0.2276" stop-color="#e9921f"/><stop offset="0.2276" stop-color="#ea9a1e"/><stop offset="0.2423" stop-color="#ea9a1e"/><stop offset="0.2423" stop-color="#eca71c"/><stop offset="0.2570" stop-color="#eca71c"/><stop offset="0.2570" stop-color="#efb51a"/><stop offset="0.2717" stop-color="#efb51a"/><stop offset="0.2717" stop-color="#f0c61b"/><stop offset="0.2864" stop-color="#f0c61b"/><stop offset="0.2864" stop-color="#f0d11e"/><stop offset="0.3011" stop-color="#f0d11e"/><stop offset="0.3011" stop-color="#f0d820"/><stop offset="0.3158" stop-color="#f0d820"/><stop offset="0.3158" stop-color="#f0dd23"/><stop offset="0.3305" stop-color="#f0dd23"/><stop offset="0.3305" stop-color="#efe228"/><stop offset="0.3452" stop-color="#efe228"/><stop offset="0.3452" stop-color="#ece62f"/><stop offset="0.3599" stop-color="#ece62f"/><stop offset="0.3599" stop-color="#e6e438"/><stop offset="0.3746" stop-color="#e6e438"/><stop offset="0.3746" stop-color="#dbe040"/><stop offset="0.3893" stop-color="#dbe040"/><stop offset="0.3893" stop-color="#cdda49"/><stop offset="0.4040" stop-color="#cdda49"/><stop offset="0.4040" stop-color="#bed652"/><stop offset="0.4187" stop-color="#bed652"/><stop offset="0.4187" stop-color="#aed15c"/><stop offset="0.4334" stop-color="#aed15c"/><stop offset="0.4334" stop-color="#95cc6b"/><stop offset="0.4482" stop-color="#95cc6b"/><stop offset="0.4482" stop-color="#87c976"/><stop offset="0.4629" stop-color="#87c976"/><stop offset="0.4629" stop-color="#7ac680"/><stop offset="0.4776" stop-color="#7ac680"/><stop offset="0.4776" stop-color="#6fc388"/><stop offset="0.4923" stop-color="#6fc388"/><stop offset="0.4923" stop-color="#67c28e"/><stop offset="0.5070" stop-color="#67c28e"/><stop offset="0.5070" stop-color="#5fc095"/><stop offset="0.5217" stop-color="#5fc095"/><stop offset="0.5217" stop-color="#5abd9b"/><stop offset="0.5364" stop-color="#5abd9b"/><stop offset="0.5364" stop-color="#58bca2"/><stop offset="0.5511" stop-color="#58bca2"/><stop offset="0.5511" stop-color="#58bcaa"/><stop offset="0.5658" stop-color="#58bcaa"/><stop offset="0.5658" stop-color="#56bbb4"/><stop offset="0.5805" stop-color="#56bbb4"/><stop offset="0.5805" stop-color="#54bac0"/><stop offset="0.5952" stop-color="#54bac0"/><stop offset="0.5952" stop-color="#42b8d6"/><stop offset="0.6099" stop-color="#42b8d6"/><stop offset="0.6099" stop-color="#2fb8e3"/><stop offset="0.6246" stop-color="#2fb8e3"/><stop offset="0.6246" stop-color="#2aa6dd"/><stop offset="0.6393" stop-color="#2aa6dd"/><stop offset="0.6393" stop-color="#2d90cf"/><stop offset="0.6540" stop-color="#2d90cf"/><stop offset="0.6540" stop-color="#2d7ac3"/><stop offset="0.6688" stop-color="#2d7ac3"/><stop offset="0.6688" stop-color="#2a6cba"/><stop offset="0.6835" stop-color="#2a6cba"/><stop offset="0.6835" stop-color="#2861b3"/><stop offset="0.6982" stop-color="#2861b3"/><stop offset="0.6982" stop-color="#265aae"/><stop offset="0.7129" stop-color="#265aae"/><stop offset="0.7129" stop-color="#2453a9"/><stop offset="0.7276" stop-color="#2453a9"/><stop offset="0.7276" stop-color="#254fa7"/><stop offset="0.7423" stop-color="#254fa7"/><stop offset="0.7423" stop-color="#264ea6"/><stop offset="0.7570" stop-color="#264ea6"/><stop offset="0.7570" stop-color="#274da5"/><stop offset="0.7717" stop-color="#274da5"/><stop offset="0.7717" stop-color="#284ca4"/><stop offset="0.7864" stop-color="#284ca4"/><stop offset="0.7864" stop-color="#284ca4"/><stop offset="0.8011" stop-color="#284ca4"/><stop offset="0.8011" stop-color="#294ba3"/><stop offset="0.8158" stop-color="#294ba3"/><stop offset="0.8158" stop-color="#2a4aa2"/><stop offset="0.8305" stop-color="#2a4aa2"/><stop offset="0.8305" stop-color="#2a4aa2"/><stop offset="0.8452" stop-color="#2a4aa2"/><stop offset="0.8452" stop-color="#2a49a1"/><stop offset="0.8599" stop-color="#2a49a1"/><stop offset="0.8599" stop-color="#2a48a0"/><stop offset="0.8746" stop-color="#2a48a0"/><stop offset="0.8746" stop-color="#2a48a0"/><stop offset="0.8894" stop-color="#2a48a0"/><stop offset="0.8894" stop-color="#2d3c94"/><stop offset="1.0000" stop-color="#2d3c94"/></linearGradient>
<linearGradient id="g12" gradientUnits="userSpaceOnUse" x1="0" y1="12.00" x2="0" y2="204.50"><stop offset="0.0000" stop-color="#d82c24"/><stop offset="0.0021" stop-color="#d82c24"/><stop offset="0.0021" stop-color="#d93024"/><stop offset="0.0168" stop-color="#d93024"/><stop offset="0.0168" stop-color="#da3725"/><stop offset="0.0315" stop-color="#da3725"/><stop offset="0.0315" stop-color="#db3d26"/><stop offset="0.0462" stop-color="#db3d26"/><stop offset="0.0462" stop-color="#dd4426"/><stop offset="0.0610" stop-color="#dd4426"/><stop offset="0.0610" stop-color="#de4a26"/><stop offset="0.0757" stop-color="#de4a26"/><stop offset="0.0757" stop-color="#df5126"/><stop offset="0.0904" stop-color="#df5126"/><stop offset="0.0904" stop-color="#e05726"/><stop offset="0.1051" stop-color="#e05726"/><stop offset="0.1051" stop-color="#e15d25"/><stop offset="0.1198" stop-color="#e15d25"/><stop offset="0.1198" stop-color="#e26325"/><stop offset="0.1345" stop-color="#e26325"/><stop offset="0.1345" stop-color="#e46b24"/><stop offset="0.1492" stop-color="#e46b24"/><stop offset="0.1492" stop-color="#e57323"/><stop offset="0.1639" stop-color="#e57323"/><stop offset="0.1639" stop-color="#e67a22"/><stop offset="0.1786" stop-color="#e67a22"/><stop offset="0.1786" stop-color="#e68022"/><stop offset="0.1933" stop-color="#e68022"/><stop offset="0.1933" stop-color="#e78721"/><stop offset="0.2080" stop-color="#e78721"/><stop offset="0.2080" stop-color="#e88f20"/><stop offset="0.2227" stop-color="#e88f20"/><stop offset="0.2227" stop-color="#e9971f"/><stop offset="0.2374" stop-color="#e9971f"/><stop offset="0.2374" stop-color="#eba21d"/><stop offset="0.2521" stop-color="#eba21d"/><stop offset="0.2521" stop-color="#eeb01b"/><stop offset="0.2668" stop-color="#eeb01b"/><stop offset="0.2668" stop-color="#f0bf1b"/><stop offset="0.2815" stop-color="#f0bf1b"/><stop offset="0.2815" stop-color="#f0ce1d"/><stop offset="0.2963" stop-color="#f0ce1d"/><stop offset="0.2963" stop-color="#f0d51f"/><stop offset="0.3110" stop-color="#f0d51f"/><stop offset="0.3110" stop-color="#f0db22"/><stop offset="0.3257" stop-color="#f0db22"/><stop offset="0.3257" stop-color="#efe026"/><stop offset="0.3404" stop-color="#efe026"/><stop offset="0.3404" stop-color="#eee52b"/><stop offset="0.3551" stop-color="#eee52b"/><stop offset="0.3551" stop-color="#e9e534"/><stop offset="0.3698" stop-color="#e9e534"/><stop offset="0.3698" stop-color="#e0e23c"/><stop offset="0.3845" stop-color="#e0e23c"/><stop offset="0.3845" stop-color="#d3dd45"/><stop offset="0.3992" stop-color="#d3dd45"/><stop offset="0.3992" stop-color="#c6d74e"/><stop offset="0.4139" stop-color="#c6d74e"/><stop offset="0.4139" stop-color="#b5d358"/><stop offset="0.4286" stop-color="#b5d358"/><stop offset="0.4286" stop-color="#a2cf63"/><stop offset="0.4433" stop-color="#a2cf63"/><stop offset="0.4433" stop-color="#8dca71"/><stop offset="0.4580" stop-color="#8dca71"/><stop offset="0.4580" stop-color="#80c77b"/><stop offset="0.4727" stop-color="#80c77b"/><stop offset="0.4727" stop-color="#73c486"/><stop offset="0.4874" stop-color="#73c486"/><stop offset="0.4874" stop-color="#6bc38b"/><stop offset="0.5021" stop-color="#6bc38b"/><stop offset="0.5021" stop-color="#63c192"/><stop offset="0.5169" stop-color="#63c192"/><stop offset="0.5169" stop-color="#5dbe98"/><stop offset="0.5316" stop-color="#5dbe98"/><stop offset="0.5316" stop-color="#58bc9f"/><stop offset="0.5463" stop-color="#58bc9f"/><stop offset="0.5463" stop-color="#58bca6"/><stop offset="0.5610" stop-color="#58bca6"/><stop offset="0.5610" stop-color="#58bcae"/><stop offset="0.5757" stop-color="#58bcae"/><stop offset="0.5757" stop-color="#55bbb9"/><stop offset="0.5904" stop-color="#55bbb9"/><stop offset="0.5904" stop-color="#4db9c9"/><stop offset="0.6051" stop-color="#4db9c9"/><stop offset="0.6051" stop-color="#3ab8db"/><stop offset="0.6198" stop-color="#3ab8db"/><stop offset="0.6198" stop-color="#2ab5e5"/><stop offset="0.6345" stop-color="#2ab5e5"/><stop offset="0.6345" stop-color="#2b9ed8"/><stop offset="0.6492" stop-color="#2b9ed8"/><stop offset="0.6492" stop-color="#2e89ca"/><stop offset="0.6639" stop-color="#2e89ca"/><stop offset="0.6639" stop-color="#2c73c0"/><stop offset="0.6786" stop-color="#2c73c0"/><stop offset="0.6786" stop-color="#2968b8"/><stop offset="0.6933" stop-color="#2968b8"/><stop offset="0.6933" stop-color="#275fb2"/><stop offset="0.7080" stop-color="#275fb2"/><stop offset="0.7080" stop-color="#2557ac"/><stop offset="0.7227" stop-color="#2557ac"/><stop offset="0.7227" stop-color="#2451a9"/><stop offset="0.7374" stop-color="#2451a9"/><stop offset="0.7374" stop-color="#254fa7"/><stop offset="0.7522" stop-color="#254fa7"/><stop offset="0.7522" stop-color="#264ea6"/><stop offset="0.7669" stop-color="#264ea6"/><stop offset="0.7669" stop-color="#274da5"/><stop offset="0.7816" stop-color="#274da5"/><stop offset="0.7816" stop-color="#284ca4"/><stop offset="0.7963" stop-color="#284ca4"/><stop offset="0.7963" stop-color="#284ca4"/><stop offset="0.8110" stop-color="#284ca4"/><stop offset="0.8110" stop-color="#294ba3"/><stop offset="0.8257" stop-color="#294ba3"/><stop offset="0.8257" stop-color="#2a4aa2"/><stop offset="0.8404" stop-color="#2a4aa2"/><stop offset="0.8404" stop-color="#2a49a1"/><stop offset="0.8551" stop-color="#2a49a1"/><stop offset="0.8551" stop-color="#2a49a1"/><stop offset="0.8698" stop-color="#2a49a1"/><stop offset="0.8698" stop-color="#2a48a0"/><stop offset="0.8845" stop-color="#2a48a0"/><stop offset="0.8845" stop-color="#2a479f"/><stop offset="0.8992" stop-color="#2a479f"/><stop offset="0.8992" stop-color="#2d3c94"/><stop offset="1.0000" stop-color="#2d3c94"/></linearGradient>
<linearGradient id="g13" gradientUnits="userSpaceOnUse" x1="0" y1="12.00" x2="0" y2="204.50"><stop offset="0.0000" stop-color="#d82e24"/><stop offset="0.0099" stop-color="#d82e24"/><stop offset="0.0099" stop-color="#da3425"/><stop offset="0.0246" stop-color="#da3425"/><stop offset="0.0246" stop-color="#db3a25"/><stop offset="0.0393" stop-color="#db3a25"/><stop offset="0.0393" stop-color="#dc4126"/><stop offset="0.0540" stop-color="#dc4126"/><stop offset="0.0540" stop-color="#dd4726"/><stop offset="0.0687" stop-color="#dd4726"/><stop offset="0.0687" stop-color="#de4e26"/><stop offset="0.0834" stop-color="#de4e26"/><stop offset="0.0834" stop-color="#df5426"/><stop offset="0.0982" stop-color="#df5426"/><stop offset="0.0982" stop-color="#e05a26"/><stop offset="0.1129" stop-color="#e05a26"/><stop offset="0.1129" stop-color="#e26025"/><stop offset="0.1276" stop-color="#e26025"/><stop offset="0.1276" stop-color="#e36725"/><stop offset="0.1423" stop-color="#e36725"/><stop offset="0.1423" stop-color="#e46f24"/><stop offset="0.1570" stop-color="#e46f24"/><stop offset="0.1570" stop-color="#e57623"/><stop offset="0.1717" stop-color="#e57623"/><stop offset="0.1717" stop-color="#e67d22"/><stop offset="0.1864" stop-color="#e67d22"/><stop offset="0.1864" stop-color="#e78421"/><stop offset="0.2011" stop-color="#e78421"/><stop offset="0.2011" stop-color="#e88b20"/><stop offset="0.2158" stop-color="#e88b20"/><stop offset="0.2158" stop-color="#e9931f"/><stop offset="0.2305" stop-color="#e9931f"/><stop offset="0.2305" stop-color="#ea9c1e"/><stop offset="0.2452" stop-color="#ea9c1e"/><stop offset="0.2452" stop-color="#eda91c"/><stop offset="0.2599" stop-color="#eda91c"/><stop offset="0.2599" stop-color="#f0b71a"/><stop offset="0.2746" stop-color="#f0b71a"/><stop offset="0.2746" stop-color="#f0c71c"/><stop offset="0.2893" stop-color="#f0c71c"/><stop offset="0.2893" stop-color="#f0d11e"/><stop offset="0.3040" stop-color="#f0d11e"/><stop offset="0.3040" stop-color="#f0d820"/><stop offset="0.3188" stop-color="#f0d820"/><stop offset="0.3188" stop-color="#f0dd23"/><stop offset="0.3335" stop-color="#f0dd23"/><stop offset="0.3335" stop-color="#efe228"/><stop offset="0.3482" stop-color="#efe228"/><stop offset="0.3482" stop-color="#ece62e"/><stop offset="0.3629" stop-color="#ece62e"/><stop offset="0.3629" stop-color="#e6e437"/><stop offset="0.3776" stop-color="#e6e437"/><stop offset="0.3776" stop-color="#dbe040"/><stop offset="0.3923" stop-color="#dbe040"/><stop offset="0.3923" stop-color="#ceda48"/><stop offset="0.4070" stop-color="#ceda48"/><stop offset="0.4070" stop-color="#bfd652"/><stop offset="0.4217" stop-color="#bfd652"/><stop offset="0.4217" stop-color="#aed25c"/><stop offset="0.4364" stop-color="#aed25c"/><stop offset="0.4364" stop-color="#96cc6b"/><stop offset="0.4511" stop-color="#96cc6b"/><stop offset="0.4511" stop-color="#88c975"/><stop offset="0.4658" stop-color="#88c975"/><stop offset="0.4658" stop-color="#7ac680"/><stop offset="0.4805" stop-color="#7ac680"/><stop offset="0.4805" stop-color="#70c388"/><stop offset="0.4952" stop-color="#70c388"/><stop offset="0.4952" stop-color="#68c28e"/><stop offset="0.5099" stop-color="#68c28e"/><stop offset="0.5099" stop-color="#60c094"/><stop offset="0.5246" stop-color="#60c094"/><stop offset="0.5246" stop-color="#5abd9b"/><stop offset="0.5394" stop-color="#5abd9b"/><stop offset="0.5394" stop-color="#58bca2"/><stop offset="0.5541" stop-color="#58bca2"/><stop offset="0.5541" stop-color="#58bca8"/><stop offset="0.5688" stop-color="#58bca8"/><stop offset="0.5688" stop-color="#57bbb2"/><stop offset="0.5835" stop-color="#57bbb2"/><stop offset="0.5835" stop-color="#55babd"/><stop offset="0.5982" stop-color="#55babd"/><stop offset="0.5982" stop-color="#48b8cf"/><stop offset="0.6129" stop-color="#48b8cf"/><stop offset="0.6129" stop-color="#36b8de"/><stop offset="0.6276" stop-color="#36b8de"/><stop offset="0.6276" stop-color="#2ab0e2"/><stop offset="0.6423" stop-color="#2ab0e2"/><stop offset="0.6423" stop-color="#2c9ad5"/><stop offset="0.6570" stop-color="#2c9ad5"/><stop offset="0.6570" stop-color="#2d84c8"/><stop offset="0.6717" stop-color="#2d84c8"/><stop offset="0.6717" stop-color="#2b71be"/><stop offset="0.6864" stop-color="#2b71be"/><stop offset="0.6864" stop-color="#2966b7"/><stop offset="0.7011" stop-color="#2966b7"/><stop offset="0.7011" stop-color="#275db1"/><stop offset="0.7158" stop-color="#275db1"/><stop offset="0.7158" stop-color="#2556ac"/><stop offset="0.7305" stop-color="#2556ac"/><stop offset="0.7305" stop-color="#2450a8"/><stop offset="0.7452" stop-color="#2450a8"/><stop offset="0.7452" stop-color="#254fa7"/><stop offset="0.7599" stop-color="#254fa7"/><stop offset="0.7599" stop-color="#264ea6"/><stop offset="0.7747" stop-color="#264ea6"/><stop offset="0.7747" stop-color="#274da5"/><stop offset="0.7894" stop-color="#274da5"/><stop offset="0.7894" stop-color="#284ca4"/><stop offset="0.8041" stop-color="#284ca4"/><stop offset="0.8041" stop-color="#294ba3"/><stop offset="0.8188" stop-color="#294ba3"/><stop offset="0.8188" stop-color="#294ba3"/><stop offset="0.8335" stop-color="#294ba3"/><stop offset="0.8335" stop-color="#2a4aa2"/><stop offset="0.8482" stop-color="#2a4aa2"/><stop offset="0.8482" stop-color="#2a49a1"/><stop offset="0.8629" stop-color="#2a49a1"/><stop offset="0.8629" stop-color="#2a49a1"/><stop offset="0.8776" stop-color="#2a49a1"/><stop offset="0.8776" stop-color="#2a48a0"/><stop offset="0.8923" stop-color="#2a48a0"/><stop offset="0.8923" stop-color="#2a479f"/><stop offset="0.9070" stop-color="#2a479f"/><stop offset="0.9070" stop-color="#2d3c94"/><stop offset="1.0000" stop-color="#2d3c94"/></linearGradient>
<linearGradient id="g14" gradientUnits="userSpaceOnUse" x1="0" y1="12.00" x2="0" y2="204.50"><stop offset="0.0000" stop-color="#d82d24"/><stop offset="0.0035" stop-color="#d82d24"/><stop offset="0.0035" stop-color="#d93124"/><stop offset="0.0182" stop-color="#d93124"/><stop offset="0.0182" stop-color="#da3725"/><stop offset="0.0329" stop-color="#da3725"/><stop offset="0.0329" stop-color="#dc3e26"/><stop offset="0.0476" stop-color="#dc3e26"/><stop offset="0.0476" stop-color="#dd4426"/><stop offset="0.0623" stop-color="#dd4426"/><stop offset="0.0623" stop-color="#de4b26"/><stop offset="0.0771" stop-color="#de4b26"/><stop offset="0.0771" stop-color="#df5126"/><stop offset="0.0918" stop-color="#df5126"/><stop offset="0.0918" stop-color="#e05726"/><stop offset="0.1065" stop-color="#e05726"/><stop offset="0.1065" stop-color="#e15e25"/><stop offset="0.1212" stop-color="#e15e25"/><stop offset="0.1212" stop-color="#e26425"/><stop offset="0.1359" stop-color="#e26425"/><stop offset="0.1359" stop-color="#e46c24"/><stop offset="0.1506" stop-color="#e46c24"/><stop offset="0.1506" stop-color="#e57323"/><stop offset="0.1653" stop-color="#e57323"/><stop offset="0.1653" stop-color="#e67a22"/><stop offset="0.1800" stop-color="#e67a22"/><stop offset="0.1800" stop-color="#e68122"/><stop offset="0.1947" stop-color="#e68122"/><stop offset="0.1947" stop-color="#e78821"/><stop offset="0.2094" stop-color="#e78821"/><stop offset="0.2094" stop-color="#e88f20"/><stop offset="0.2241" stop-color="#e88f20"/><stop offset="0.2241" stop-color="#ea981e"/><stop offset="0.2388" stop-color="#ea981e"/><stop offset="0.2388" stop-color="#eca31d"/><stop offset="0.2535" stop-color="#eca31d"/><stop offset="0.2535" stop-color="#eeb01b"/><stop offset="0.2682" stop-color="#eeb01b"/><stop offset="0.2682" stop-color="#f0bf1b"/><stop offset="0.2829" stop-color="#f0bf1b"/><stop offset="0.2829" stop-color="#f0ce1d"/><stop offset="0.2977" stop-color="#f0ce1d"/><stop offset="0.2977" stop-color="#f0d51f"/><stop offset="0.3124" stop-color="#f0d51f"/><stop offset="0.3124" stop-color="#f0da21"/><stop offset="0.3271" stop-color="#f0da21"/><stop offset="0.3271" stop-color="#efe026"/><stop offset="0.3418" stop-color="#efe026"/><stop offset="0.3418" stop-color="#eee52b"/><stop offset="0.3565" stop-color="#eee52b"/><stop offset="0.3565" stop-color="#e9e532"/><stop offset="0.3712" stop-color="#e9e532"/><stop offset="0.3712" stop-color="#e2e33b"/><stop offset="0.3859" stop-color="#e2e33b"/><stop offset="0.3859" stop-color="#d5de44"/><stop offset="0.4006" stop-color="#d5de44"/><stop offset="0.4006" stop-color="#c8d84c"/><stop offset="0.4153" stop-color="#c8d84c"/><stop offset="0.4153" stop-color="#b8d456"/><stop offset="0.4300" stop-color="#b8d456"/><stop offset="0.4300" stop-color="#a7d061"/><stop offset="0.4447" stop-color="#a7d061"/><stop offset="0.4447" stop-color="#8fcb70"/><stop offset="0.4594" stop-color="#8fcb70"/><stop offset="0.4594" stop-color="#82c87a"/><stop offset="0.4741" stop-color="#82c87a"/><stop offset="0.4741" stop-color="#74c584"/><stop offset="0.4888" stop-color="#74c584"/><stop offset="0.4888" stop-color="#6cc38a"/><stop offset="0.5035" stop-color="#6cc38a"/><stop offset="0.5035" stop-color="#64c191"/><stop offset="0.5182" stop-color="#64c191"/><stop offset="0.5182" stop-color="#5dbf97"/><stop offset="0.5330" stop-color="#5dbf97"/><stop offset="0.5330" stop-color="#58bc9e"/><stop offset="0.5477" stop-color="#58bc9e"/><stop offset="0.5477" stop-color="#58bca4"/><stop offset="0.5624" stop-color="#58bca4"/><stop offset="0.5624" stop-color="#58bcab"/><stop offset="0.5771" stop-color="#58bcab"/><stop offset="0.5771" stop-color="#56bbb6"/><stop offset="0.5918" stop-color="#56bbb6"/><stop offset="0.5918" stop-color="#54bac0"/><stop offset="0.6065" stop-color="#54bac0"/><stop offset="0.6065" stop-color="#43b8d5"/><stop offset="0.6212" stop-color="#43b8d5"/><stop offset="0.6212" stop-color="#31b8e1"/><stop offset="0.6359" stop-color="#31b8e1"/><stop offset="0.6359" stop-color="#2aabdf"/><stop offset="0.6506" stop-color="#2aabdf"/><stop offset="0.6506" stop-color="#2d95d2"/><stop offset="0.6653" stop-color="#2d95d2"/><stop offset="0.6653" stop-color="#2d7fc6"/><stop offset="0.6800" stop-color="#2d7fc6"/><stop offset="0.6800" stop-color="#2b6ebc"/><stop offset="0.6947" stop-color="#2b6ebc"/><stop offset="0.6947" stop-color="#2864b5"/><stop offset="0.7094" stop-color="#2864b5"/><stop offset="0.7094" stop-color="#265cb0"/><stop offset="0.7241" stop-color="#265cb0"/><stop offset="0.7241" stop-color="#2455aa"/><stop offset="0.7388" stop-color="#2455aa"/><stop offset="0.7388" stop-color="#2450a8"/><stop offset="0.7536" stop-color="#2450a8"/><stop offset="0.7536" stop-color="#254fa7"/><stop offset="0.7683" stop-color="#254fa7"/><stop offset="0.7683" stop-color="#274da5"/><stop offset="0.7830" stop-color="#274da5"/><stop offset="0.7830" stop-color="#274da5"/><stop offset="0.7977" stop-color="#274da5"/><stop offset="0.7977" stop-color="#284ca4"/><stop offset="0.8124" stop-color="#284ca4"/><stop offset="0.8124" stop-color="#294ba3"/><stop offset="0.8271" stop-color="#294ba3"/><stop offset="0.8271" stop-color="#294ba3"/><stop offset="0.8418" stop-color="#294ba3"/><stop offset="0.8418" stop-color="#2a4aa2"/><stop offset="0.8565" stop-color="#2a4aa2"/><stop offset="0.8565" stop-color="#2a49a1"/><stop offset="0.8712" stop-color="#2a49a1"/><stop offset="0.8712" stop-color="#2a49a1"/><stop offset="0.8859" stop-color="#2a49a1"/><stop offset="0.8859" stop-color="#2a48a0"/><stop offset="0.9006" stop-color="#2a48a0"/><stop offset="0.9006" stop-color="#2a479f"/><stop offset="0.9153" stop-color="#2a479f"/><stop offset="0.9153" stop-color="#2d3c94"/><stop offset="1.0000" stop-color="#2d3c94"/></linearGradient>
<linearGradient id="g15" gradientUnits="userSpaceOnUse" x1="0" y1="12.00" x2="0" y2="204.50"><stop offset="0.0000" stop-color="#d92f24"/><stop offset="0.0124" stop-color="#d92f24"/><stop offset="0.0124" stop-color="#da3525"/><stop offset="0.0271" stop-color="#da3525"/><stop offset="0.0271" stop-color="#db3b26"/><stop offset="0.0418" stop-color="#db3b26"/><stop offset="0.0418" stop-color="#dc4226"/><stop offset="0.0565" stop-color="#dc4226"/><stop offset="0.0565" stop-color="#dd4826"/><stop offset="0.0712" stop-color="#dd4826"/><stop offset="0.0712" stop-color="#de4e26"/><stop offset="0.0859" stop-color="#de4e26"/><stop offset="0.0859" stop-color="#df5526"/><stop offset="0.1006" stop-color="#df5526"/><stop offset="0.1006" stop-color="#e15b26"/><stop offset="0.1153" stop-color="#e15b26"/><stop offset="0.1153" stop-color="#e26125"/><stop offset="0.1300" stop-color="#e26125"/><stop offset="0.1300" stop-color="#e36824"/><stop offset="0.1447" stop-color="#e36824"/><stop offset="0.1447" stop-color="#e47024"/><stop offset="0.1594" stop-color="#e47024"/><stop offset="0.1594" stop-color="#e57723"/><stop offset="0.1741" stop-color="#e57723"/><stop offset="0.1741" stop-color="#e67e22"/><stop offset="0.1888" stop-color="#e67e22"/><stop offset="0.1888" stop-color="#e78521"/><stop offset="0.2035" stop-color="#e78521"/><stop offset="0.2035" stop-color="#e88c20"/><stop offset="0.2182" stop-color="#e88c20"/><stop offset="0.2182" stop-color="#e9951f"/><stop offset="0.2330" stop-color="#e9951f"/><stop offset="0.2330" stop-color="#ea9e1e"/><stop offset="0.2477" stop-color="#ea9e1e"/><stop offset="0.2477" stop-color="#edab1c"/><stop offset="0.2624" stop-color="#edab1c"/><stop offset="0.2624" stop-color="#f0b81a"/><stop offset="0.2771" stop-color="#f0b81a"/><stop offset="0.2771" stop-color="#f0c81c"/><stop offset="0.2918" stop-color="#f0c81c"/><stop offset="0.2918" stop-color="#f0d21e"/><stop offset="0.3065" stop-color="#f0d21e"/><stop offset="0.3065" stop-color="#f0d820"/><stop offset="0.3212" stop-color="#f0d820"/><stop offset="0.3212" stop-color="#f0dd23"/><stop offset="0.3359" stop-color="#f0dd23"/><stop offset="0.3359" stop-color="#efe228"/><stop offset="0.3506" stop-color="#efe228"/><stop offset="0.3506" stop-color="#ede62e"/><stop offset="0.3653" stop-color="#ede62e"/><stop offset="0.3653" stop-color="#e6e437"/><stop offset="0.3800" stop-color="#e6e437"/><stop offset="0.3800" stop-color="#dce13f"/><stop offset="0.3947" stop-color="#dce13f"/><stop offset="0.3947" stop-color="#cfdb48"/><stop offset="0.4094" stop-color="#cfdb48"/><stop offset="0.4094" stop-color="#c0d651"/><stop offset="0.4241" stop-color="#c0d651"/><stop offset="0.4241" stop-color="#b0d25b"/><stop offset="0.4388" stop-color="#b0d25b"/><stop offset="0.4388" stop-color="#99cd69"/><stop offset="0.4535" stop-color="#99cd69"/><stop offset="0.4535" stop-color="#89c975"/><stop offset="0.4683" stop-color="#89c975"/><stop offset="0.4683" stop-color="#7bc67f"/><stop offset="0.4830" stop-color="#7bc67f"/><stop offset="0.4830" stop-color="#70c487"/><stop offset="0.4977" stop-color="#70c487"/><stop offset="0.4977" stop-color="#69c28d"/><stop offset="0.5124" stop-color="#69c28d"/><stop offset="0.5124" stop-color="#60c094"/><stop offset="0.5271" stop-color="#60c094"/><stop offset="0.5271" stop-color="#5bbe9a"/><stop offset="0.5418" stop-color="#5bbe9a"/><stop offset="0.5418" stop-color="#58bca1"/><stop offset="0.5565" stop-color="#58bca1"/><stop offset="0.5565" stop-color="#58bca7"/><stop offset="0.5712" stop-color="#58bca7"/><stop offset="0.5712" stop-color="#57bcaf"/><stop offset="0.5859" stop-color="#57bcaf"/><stop offset="0.5859" stop-color="#55bbba"/><stop offset="0.6006" stop-color="#55bbba"/><stop offset="0.6006" stop-color="#4eb9c8"/><stop offset="0.6153" stop-color="#4eb9c8"/><stop offset="0.6153" stop-color="#3db8d9"/><stop offset="0.6300" stop-color="#3db8d9"/><stop offset="0.6300" stop-color="#2cb8e5"/><stop offset="0.6447" stop-color="#2cb8e5"/><stop offset="0.6447" stop-color="#2aa4dc"/><stop offset="0.6594" stop-color="#2aa4dc"/><stop offset="0.6594" stop-color="#2e8fce"/><stop offset="0.6741" stop-color="#2e8fce"/><stop offset="0.6741" stop-color="#2c7ac3"/><stop offset="0.6889" stop-color="#2c7ac3"/><stop offset="0.6889" stop-color="#2a6cba"/><stop offset="0.7036" stop-color="#2a6cba"/><stop offset="0.7036" stop-color="#2861b3"/><stop offset="0.7183" stop-color="#2861b3"/><stop offset="0.7183" stop-color="#265aae"/><stop offset="0.7330" stop-color="#265aae"/><stop offset="0.7330" stop-color="#2453a9"/><stop offset="0.7477" stop-color="#2453a9"/><stop offset="0.7477" stop-color="#2450a8"/><stop offset="0.7624" stop-color="#2450a8"/><stop offset="0.7624" stop-color="#264ea6"/><stop offset="0.7771" stop-color="#264ea6"/><stop offset="0.7771" stop-color="#274da5"/><stop offset="0.7918" stop-color="#274da5"/><stop offset="0.7918" stop-color="#274da5"/><stop offset="0.8065" stop-color="#274da5"/><stop offset="0.8065" stop-color="#284ca4"/><stop offset="0.8212" stop-color="#284ca4"/><stop offset="0.8212" stop-color="#294ba3"/><stop offset="0.8359" stop-color="#294ba3"/><stop offset="0.8359" stop-color="#294ba3"/><stop offset="0.8506" stop-color="#294ba3"/><stop offset="0.8506" stop-color="#2a4aa2"/><stop offset="0.8653" stop-color="#2a4aa2"/><stop offset="0.8653" stop-color="#2a49a1"/><stop offset="0.8800" stop-color="#2a49a1"/><stop offset="0.8800" stop-color="#2a48a0"/><stop offset="0.8947" stop-color="#2a48a0"/><stop offset="0.8947" stop-color="#2a48a0"/><stop offset="0.9094" stop-color="#2a48a0"/><stop offset="0.9094" stop-color="#2a479f"/><stop offset="0.9242" stop-color="#2a479f"/><stop offset="0.9242" stop-color="#2d3c94"/><stop offset="1.0000" stop-color="#2d3c94"/></linearGradient>
<linearGradient id="g16" gradientUnits="userSpaceOnUse" x1="0" y1="12.00" x2="0" y2="204.50"><stop offset="0.0000" stop-color="#d82d24"/><stop offset="0.0049" stop-color="#d82d24"/><stop offset="0.0049" stop-color="#d93125"/><stop offset="0.0196" stop-color="#d93125"/><stop offset="0.0196" stop-color="#da3825"/><stop offset="0.0343" stop-color="#da3825"/><stop offset="0.0343" stop-color="#dc3e26"/><stop offset="0.0490" stop-color="#dc3e26"/><stop offset="0.0490" stop-color="#dd4526"/><stop offset="0.0637" stop-color="#dd4526"/><stop offset="0.0637" stop-color="#de4b26"/><stop offset="0.0785" stop-color="#de4b26"/><stop offset="0.0785" stop-color="#df5126"/><stop offset="0.0932" stop-color="#df5126"/><stop offset="0.0932" stop-color="#e05826"/><stop offset="0.1079" stop-color="#e05826"/><stop offset="0.1079" stop-color="#e15e25"/><stop offset="0.1226" stop-color="#e15e25"/><stop offset="0.1226" stop-color="#e26425"/><stop offset="0.1373" stop-color="#e26425"/><stop offset="0.1373" stop-color="#e46d24"/><stop offset="0.1520" stop-color="#e46d24"/><stop offset="0.1520" stop-color="#e57423"/><stop offset="0.1667" stop-color="#e57423"/><stop offset="0.1667" stop-color="#e67b22"/><stop offset="0.1814" stop-color="#e67b22"/><stop offset="0.1814" stop-color="#e78221"/><stop offset="0.1961" stop-color="#e78221"/><stop offset="0.1961" stop-color="#e78821"/><stop offset="0.2108" stop-color="#e78821"/><stop offset="0.2108" stop-color="#e9901f"/><stop offset="0.2255" stop-color="#e9901f"/><stop offset="0.2255" stop-color="#ea991e"/><stop offset="0.2402" stop-color="#ea991e"/><stop offset="0.2402" stop-color="#eca41d"/><stop offset="0.2549" stop-color="#eca41d"/><stop offset="0.2549" stop-color="#eeb11b"/><stop offset="0.2696" stop-color="#eeb11b"/><stop offset="0.2696" stop-color="#f0bf1b"/><stop offset="0.2843" stop-color="#f0bf1b"/><stop offset="0.2843" stop-color="#f0cd1d"/><stop offset="0.2990" stop-color="#f0cd1d"/><stop offset="0.2990" stop-color="#f0d51f"/><stop offset="0.3138" stop-color="#f0d51f"/><stop offset="0.3138" stop-color="#f0da21"/><stop offset="0.3285" stop-color="#f0da21"/><stop offset="0.3285" stop-color="#efdf25"/><stop offset="0.3432" stop-color="#efdf25"/><stop offset="0.3432" stop-color="#eee42a"/><stop offset="0.3579" stop-color="#eee42a"/><stop offset="0.3579" stop-color="#eae531"/><stop offset="0.3726" stop-color="#eae531"/><stop offset="0.3726" stop-color="#e4e43a"/><stop offset="0.3873" stop-color="#e4e43a"/><stop offset="0.3873" stop-color="#d7de42"/><stop offset="0.4020" stop-color="#d7de42"/><stop offset="0.4020" stop-color="#cad94b"/><stop offset="0.4167" stop-color="#cad94b"/><stop offset="0.4167" stop-color="#bad455"/><stop offset="0.4314" stop-color="#bad455"/><stop offset="0.4314" stop-color="#a9d05f"/><stop offset="0.4461" stop-color="#a9d05f"/><stop offset="0.4461" stop-color="#91cb6e"/><stop offset="0.4608" stop-color="#91cb6e"/><stop offset="0.4608" stop-color="#84c878"/><stop offset="0.4755" stop-color="#84c878"/><stop offset="0.4755" stop-color="#76c583"/><stop offset="0.4902" stop-color="#76c583"/><stop offset="0.4902" stop-color="#6ec389"/><stop offset="0.5049" stop-color="#6ec389"/><stop offset="0.5049" stop-color="#66c190"/><stop offset="0.5196" stop-color="#66c190"/><stop offset="0.5196" stop-color="#5ebf96"/><stop offset="0.5344" stop-color="#5ebf96"/><stop offset="0.5344" stop-color="#59bd9c"/><stop offset="0.5491" stop-color="#59bd9c"/><stop offset="0.5491" stop-color="#58bca3"/><stop offset="0.5638" stop-color="#58bca3"/><stop offset="0.5638" stop-color="#58bca9"/><stop offset="0.5785" stop-color="#58bca9"/><stop offset="0.5785" stop-color="#57bbb2"/><stop offset="0.5932" stop-color="#57bbb2"/><stop offset="0.5932" stop-color="#55babc"/><stop offset="0.6079" stop-color="#55babc"/><stop offset="0.6079" stop-color="#4ab9cd"/><stop offset="0.6226" stop-color="#4ab9cd"/><stop offset="0.6226" stop-color="#3ab8db"/><stop offset="0.6373" stop-color="#3ab8db"/><stop offset="0.6373" stop-color="#2ab7e5"/><stop offset="0.6520" stop-color="#2ab7e5"/><stop offset="0.6520" stop-color="#2ba0da"/><stop offset="0.6667" stop-color="#2ba0da"/><stop offset="0.6667" stop-color="#2e8bcc"/><stop offset="0.6814" stop-color="#2e8bcc"/><stop offset="0.6814" stop-color="#2c76c1"/><stop offset="0.6961" stop-color="#2c76c1"/><stop offset="0.6961" stop-color="#2a6ab9"/><stop offset="0.7108" stop-color="#2a6ab9"/><stop offset="0.7108" stop-color="#2760b3"/><stop offset="0.7255" stop-color="#2760b3"/><stop offset="0.7255" stop-color="#2559ae"/><stop offset="0.7402" stop-color="#2559ae"/><stop offset="0.7402" stop-color="#2452a9"/><stop offset="0.7550" stop-color="#2452a9"/><stop offset="0.7550" stop-color="#254fa7"/><stop offset="0.7697" stop-color="#254fa7"/><stop offset="0.7697" stop-color="#264ea6"/><stop offset="0.7844" stop-color="#264ea6"/><stop offset="0.7844" stop-color="#274da5"/><stop offset="0.7991" stop-color="#274da5"/><stop offset="0.7991" stop-color="#274da5"/><stop offset="0.8138" stop-color="#274da5"/><stop offset="0.8138" stop-color="#284ca4"/><stop offset="0.8285" stop-color="#284ca4"/><stop offset="0.8285" stop-color="#294ba3"/><stop offset="0.8432" stop-color="#294ba3"/><stop offset="0.8432" stop-color="#2a4aa2"/><stop offset="0.8579" stop-color="#2a4aa2"/><stop offset="0.8579" stop-color="#2a4aa2"/><stop offset="0.8726" stop-color="#2a4aa2"/><stop offset="0.8726" stop-color="#2a49a1"/><stop offset="0.8873" stop-color="#2a49a1"/><stop offset="0.8873" stop-color="#2a48a0"/><stop offset="0.9020" stop-color="#2a48a0"/><stop offset="0.9020" stop-color="#2a48a0"/><stop offset="0.9167" stop-color="#2a48a0"/><stop offset="0.9167" stop-color="#2b479f"/><stop offset="0.9314" stop-color="#2b479f"/><stop offset="0.9314" stop-color="#2d3c94"/><stop offset="1.0000" stop-color="#2d3c94"/></linearGradient>
<linearGradient id="g17" gradientUnits="userSpaceOnUse" x1="0" y1="12.00" x2="0" y2="204.50"><stop offset="0.0000" stop-color="#d82d24"/><stop offset="0.0049" stop-color="#d82d24"/><stop offset="0.0049" stop-color="#d93125"/><stop offset="0.0196" stop-color="#d93125"/><stop offset="0.0196" stop-color="#da3825"/><stop offset="0.0343" stop-color="#da3825"/><stop offset="0.0343" stop-color="#dc3e26"/><stop offset="0.0490" stop-color="#dc3e26"/><stop offset="0.0490" stop-color="#dd4526"/><stop offset="0.0637" stop-color="#dd4526"/><stop offset="0.0637" stop-color="#de4b26"/><stop offset="0.0785" stop-color="#de4b26"/><stop offset="0.0785" stop-color="#df5126"/><stop offset="0.0932" stop-color="#df5126"/><stop offset="0.0932" stop-color="#e05826"/><stop offset="0.1079" stop-color="#e05826"/><stop offset="0.1079" stop-color="#e15e25"/><stop offset="0.1226" stop-color="#e15e25"/><stop offset="0.1226" stop-color="#e26425"/><stop offset="0.1373" stop-color="#e26425"/><stop offset="0.1373" stop-color="#e46d24"/><stop offset="0.1520" stop-color="#e46d24"/><stop offset="0.1520" stop-color="#e57423"/><stop offset="0.1667" stop-color="#e57423"/><stop offset="0.1667" stop-color="#e67b22"/><stop offset="0.1814" stop-color="#e67b22"/><stop offset="0.1814" stop-color="#e78221"/><stop offset="0.1961" stop-color="#e78221"/><stop offset="0.1961" stop-color="#e78821"/><stop offset="0.2108" stop-color="#e78821"/><stop offset="0.2108" stop-color="#e9901f"/><stop offset="0.2255" stop-color="#e9901f"/><stop offset="0.2255" stop-color="#ea991e"/><stop offset="0.2402" stop-color="#ea991e"/><stop offset="0.2402" stop-color="#eca41d"/><stop offset="0.2549" stop-color="#eca41d"/><stop offset="0.2549" stop-color="#eeb11b"/><stop offset="0.2696" stop-color="#eeb11b"/><stop offset="0.2696" stop-color="#f0be1b"/><stop offset="0.2843" stop-color="#f0be1b"/><stop offset="0.2843" stop-color="#f0cd1c"/><stop offset="0.2990" stop-color="#f0cd1c"/><stop offset="0.2990" stop-color="#f0d41f"/><stop offset="0.3138" stop-color="#f0d41f"/><stop offset="0.3138" stop-color="#f0d921"/><stop offset="0.3285" stop-color="#f0d921"/><stop offset="0.3285" stop-color="#f0de24"/><stop offset="0.3432" stop-color="#f0de24"/><stop offset="0.3432" stop-color="#efe329"/><stop offset="0.3579" stop-color="#efe329"/><stop offset="0.3579" stop-color="#ebe530"/><stop offset="0.3726" stop-color="#ebe530"/><stop offset="0.3726" stop-color="#e5e439"/><stop offset="0.3873" stop-color="#e5e439"/><stop offset="0.3873" stop-color="#d8df41"/><stop offset="0.4020" stop-color="#d8df41"/><stop offset="0.4020" stop-color="#cbd94a"/><stop offset="0.4167" stop-color="#cbd94a"/><stop offset="0.4167" stop-color="#bcd554"/><stop offset="0.4314" stop-color="#bcd554"/><stop offset="0.4314" stop-color="#abd15e"/><stop offset="0.4461" stop-color="#abd15e"/><stop offset="0.4461" stop-color="#93cc6d"/><stop offset="0.4608" stop-color="#93cc6d"/><stop offset="0.4608" stop-color="#85c977"/><stop offset="0.4755" stop-color="#85c977"/><stop offset="0.4755" stop-color="#78c582"/><stop offset="0.4902" stop-color="#78c582"/><stop offset="0.4902" stop-color="#6ec389"/><stop offset="0.5049" stop-color="#6ec389"/><stop offset="0.5049" stop-color="#67c18f"/><stop offset="0.5196" stop-color="#67c18f"/><stop offset="0.5196" stop-color="#5fc095"/><stop offset="0.5344" stop-color="#5fc095"/><stop offset="0.5344" stop-color="#5abd9b"/><stop offset="0.5491" stop-color="#5abd9b"/><stop offset="0.5491" stop-color="#58bca2"/><stop offset="0.5638" stop-color="#58bca2"/><stop offset="0.5638" stop-color="#58bca8"/><stop offset="0.5785" stop-color="#58bca8"/><stop offset="0.5785" stop-color="#57bcb0"/><stop offset="0.5932" stop-color="#57bcb0"/><stop offset="0.5932" stop-color="#55bbba"/><stop offset="0.6079" stop-color="#55bbba"/><stop offset="0.6079" stop-color="#4eb9c8"/><stop offset="0.6226" stop-color="#4eb9c8"/><stop offset="0.6226" stop-color="#3eb8d8"/><stop offset="0.6373" stop-color="#3eb8d8"/><stop offset="0.6373" stop-color="#2eb8e3"/><stop offset="0.6520" stop-color="#2eb8e3"/><stop offset="0.6520" stop-color="#2aa7de"/><stop offset="0.6667" stop-color="#2aa7de"/><stop offset="0.6667" stop-color="#2d92d0"/><stop offset="0.6814" stop-color="#2d92d0"/><stop offset="0.6814" stop-color="#2d7dc5"/><stop offset="0.6961" stop-color="#2d7dc5"/><stop offset="0.6961" stop-color="#2b6dbc"/><stop offset="0.7108" stop-color="#2b6dbc"/><stop offset="0.7108" stop-color="#2863b5"/><stop offset="0.7255" stop-color="#2863b5"/><stop offset="0.7255" stop-color="#265caf"/><stop offset="0.7402" stop-color="#265caf"/><stop offset="0.7402" stop-color="#2455aa"/><stop offset="0.7550" stop-color="#2455aa"/><stop offset="0.7550" stop-color="#2450a8"/><stop offset="0.7697" stop-color="#2450a8"/><stop offset="0.7697" stop-color="#254fa7"/><stop offset="0.7844" stop-color="#254fa7"/><stop offset="0.7844" stop-color="#264ea6"/><stop offset="0.7991" stop-color="#264ea6"/><stop offset="0.7991" stop-color="#274da5"/><stop offset="0.8138" stop-color="#274da5"/><stop offset="0.8138" stop-color="#284ca4"/><stop offset="0.8285" stop-color="#284ca4"/><stop offset="0.8285" stop-color="#294ba3"/><stop offset="0.8432" stop-color="#294ba3"/><stop offset="0.8432" stop-color="#294ba3"/><stop offset="0.8579" stop-color="#294ba3"/><stop offset="0.8579" stop-color="#2a4aa2"/><stop offset="0.8726" stop-color="#2a4aa2"/><stop offset="0.8726" stop-color="#2a49a1"/><stop offset="0.8873" stop-color="#2a49a1"/><stop offset="0.8873" stop-color="#2a48a0"/><stop offset="0.9020" stop-color="#2a48a0"/><stop offset="0.9020" stop-color="#2a48a0"/><stop offset="0.9167" stop-color="#2a48a0"/><stop offset="0.9167" stop-color="#2b479f"/><stop offset="0.9314" stop-color="#2b479f"/><stop offset="0.9314" stop-color="#2d3c94"/><stop offset="1.0000" stop-color="#2d3c94"/></linearGradient>
<linearGradient id="g18" gradientUnits="userSpaceOnUse" x1="0" y1="12.00" x2="0" y2="204.50"><stop offset="0.0000" stop-color="#d92f24"/><stop offset="0.0138" stop-color="#d92f24"/><stop offset="0.0138" stop-color="#da3525"/><stop offset="0.0285" stop-color="#da3525"/><stop offset="0.0285" stop-color="#db3c26"/><stop offset="0.0432" stop-color="#db3c26"/><stop offset="0.0432" stop-color="#dc4226"/><stop offset="0.0579" stop-color="#dc4226"/><stop offset="0.0579" stop-color="#dd4826"/><stop offset="0.0726" stop-color="#dd4826"/><stop offset="0.0726" stop-color="#de4f26"/><stop offset="0.0873" stop-color="#de4f26"/><stop offset="0.0873" stop-color="#df5526"/><stop offset="0.1020" stop-color="#df5526"/><stop offset="0.1020" stop-color="#e15b26"/><stop offset="0.1167" stop-color="#e15b26"/><stop offset="0.1167" stop-color="#e26125"/><stop offset="0.1314" stop-color="#e26125"/><stop offset="0.1314" stop-color="#e36924"/><stop offset="0.1461" stop-color="#e36924"/><stop offset="0.1461" stop-color="#e57123"/><stop offset="0.1608" stop-color="#e57123"/><stop offset="0.1608" stop-color="#e57823"/><stop offset="0.1755" stop-color="#e57823"/><stop offset="0.1755" stop-color="#e67f22"/><stop offset="0.1902" stop-color="#e67f22"/><stop offset="0.1902" stop-color="#e78621"/><stop offset="0.2049" stop-color="#e78621"/><stop offset="0.2049" stop-color="#e88d20"/><stop offset="0.2196" stop-color="#e88d20"/><stop offset="0.2196" stop-color="#e9961f"/><stop offset="0.2343" stop-color="#e9961f"/><stop offset="0.2343" stop-color="#eb9f1e"/><stop offset="0.2491" stop-color="#eb9f1e"/><stop offset="0.2491" stop-color="#edab1c"/><stop offset="0.2638" stop-color="#edab1c"/><stop offset="0.2638" stop-color="#f0b81a"/><stop offset="0.2785" stop-color="#f0b81a"/><stop offset="0.2785" stop-color="#f0c71c"/><stop offset="0.2932" stop-color="#f0c71c"/><stop offset="0.2932" stop-color="#f0d11e"/><stop offset="0.3079" stop-color="#f0d11e"/><stop offset="0.3079" stop-color="#f0d720"/><stop offset="0.3226" stop-color="#f0d720"/><stop offset="0.3226" stop-color="#f0dc22"/><stop offset="0.3373" stop-color="#f0dc22"/><stop offset="0.3373" stop-color="#efe127"/><stop offset="0.3520" stop-color="#efe127"/><stop offset="0.3520" stop-color="#eee62c"/><stop offset="0.3667" stop-color="#eee62c"/><stop offset="0.3667" stop-color="#e8e534"/><stop offset="0.3814" stop-color="#e8e534"/><stop offset="0.3814" stop-color="#dfe23d"/><stop offset="0.3961" stop-color="#dfe23d"/><stop offset="0.3961" stop-color="#d2dc46"/><stop offset="0.4108" stop-color="#d2dc46"/><stop offset="0.4108" stop-color="#c4d74e"/><stop offset="0.4255" stop-color="#c4d74e"/><stop offset="0.4255" stop-color="#b4d359"/><stop offset="0.4402" stop-color="#b4d359"/><stop offset="0.4402" stop-color="#a0ce65"/><stop offset="0.4549" stop-color="#a0ce65"/><stop offset="0.4549" stop-color="#8cca72"/><stop offset="0.4697" stop-color="#8cca72"/><stop offset="0.4697" stop-color="#7fc77c"/><stop offset="0.4844" stop-color="#7fc77c"/><stop offset="0.4844" stop-color="#72c486"/><stop offset="0.4991" stop-color="#72c486"/><stop offset="0.4991" stop-color="#6bc28c"/><stop offset="0.5138" stop-color="#6bc28c"/><stop offset="0.5138" stop-color="#63c192"/><stop offset="0.5285" stop-color="#63c192"/><stop offset="0.5285" stop-color="#5dbe98"/><stop offset="0.5432" stop-color="#5dbe98"/><stop offset="0.5432" stop-color="#58bc9e"/><stop offset="0.5579" stop-color="#58bc9e"/><stop offset="0.5579" stop-color="#58bca5"/><stop offset="0.5726" stop-color="#58bca5"/><stop offset="0.5726" stop-color="#58bcab"/><stop offset="0.5873" stop-color="#58bcab"/><stop offset="0.5873" stop-color="#56bbb4"/><stop offset="0.6020" stop-color="#56bbb4"/><stop offset="0.6020" stop-color="#54babe"/><stop offset="0.6167" stop-color="#54babe"/><stop offset="0.6167" stop-color="#49b9ce"/><stop offset="0.6314" stop-color="#49b9ce"/><stop offset="0.6314" stop-color="#39b8dc"/><stop offset="0.6461" stop-color="#39b8dc"/><stop offset="0.6461" stop-color="#2ab7e6"/><stop offset="0.6608" stop-color="#2ab7e6"/><stop offset="0.6608" stop-color="#2aa1da"/><stop offset="0.6755" stop-color="#2aa1da"/><stop offset="0.6755" stop-color="#2e8ccc"/><stop offset="0.6902" stop-color="#2e8ccc"/><stop offset="0.6902" stop-color="#2c77c2"/><stop offset="0.7050" stop-color="#2c77c2"/><stop offset="0.7050" stop-color="#2a6bba"/><stop offset="0.7197" stop-color="#2a6bba"/><stop offset="0.7197" stop-color="#2861b3"/><stop offset="0.7344" stop-color="#2861b3"/><stop offset="0.7344" stop-color="#265aae"/><stop offset="0.7491" stop-color="#265aae"/><stop offset="0.7491" stop-color="#2453a9"/><stop offset="0.7638" stop-color="#2453a9"/><stop offset="0.7638" stop-color="#2450a8"/><stop offset="0.7785" stop-color="#2450a8"/><stop offset="0.7785" stop-color="#264ea6"/><stop offset="0.7932" stop-color="#264ea6"/><stop offset="0.7932" stop-color="#274da5"/><stop offset="0.8079" stop-color="#274da5"/><stop offset="0.8079" stop-color="#274da5"/><stop offset="0.8226" stop-color="#274da5"/><stop offset="0.8226" stop-color="#284ca4"/><stop offset="0.8373" stop-color="#284ca4"/><stop offset="0.8373" stop-color="#294ba3"/><stop offset="0.8520" stop-color="#294ba3"/><stop offset="0.8520" stop-color="#2a4aa2"/><stop offset="0.8667" stop-color="#2a4aa2"/><stop offset="0.8667" stop-color="#2a4aa2"/><stop offset="0.8814" stop-color="#2a4aa2"/><stop offset="0.8814" stop-color="#2a49a1"/><stop offset="0.8961" stop-color="#2a49a1"/><stop offset="0.8961" stop-color="#2a48a0"/><stop offset="0.9108" stop-color="#2a48a0"/><stop offset="0.9108" stop-color="#2a479f"/><stop offset="0.9256" stop-color="#2a479f"/><stop offset="0.9256" stop-color="#2b479f"/><stop offset="0.9403" stop-color="#2b479f"/><stop offset="0.9403" stop-color="#2d3c94"/><stop offset="1.0000" stop-color="#2d3c94"/></linearGradient>
<linearGradient id="g19" gradientUnits="userSpaceOnUse" x1="0" y1="12.00" x2="0" y2="204.50"><stop offset="0.0000" stop-color="#d82e24"/><stop offset="0.0074" stop-color="#d82e24"/><stop offset="0.0074" stop-color="#d93225"/><stop offset="0.0221" stop-color="#d93225"/><stop offset="0.0221" stop-color="#db3925"/><stop offset="0.0368" stop-color="#db3925"/><stop offset="0.0368" stop-color="#dc3f26"/><stop offset="0.0515" stop-color="#dc3f26"/><stop offset="0.0515" stop-color="#dd4626"/><stop offset="0.0662" stop-color="#dd4626"/><stop offset="0.0662" stop-color="#de4c26"/><stop offset="0.0809" stop-color="#de4c26"/><stop offset="0.0809" stop-color="#df5226"/><stop offset="0.0956" stop-color="#df5226"/><stop offset="0.0956" stop-color="#e05826"/><stop offset="0.1103" stop-color="#e05826"/><stop offset="0.1103" stop-color="#e15e25"/><stop offset="0.1250" stop-color="#e15e25"/><stop offset="0.1250" stop-color="#e36525"/><stop offset="0.1397" stop-color="#e36525"/><stop offset="0.1397" stop-color="#e46e24"/><stop offset="0.1544" stop-color="#e46e24"/><stop offset="0.1544" stop-color="#e57523"/><stop offset="0.1691" stop-color="#e57523"/><stop offset="0.1691" stop-color="#e67c22"/><stop offset="0.1838" stop-color="#e67c22"/><stop offset="0.1838" stop-color="#e78321"/><stop offset="0.1985" stop-color="#e78321"/><stop offset="0.1985" stop-color="#e88a20"/><stop offset="0.2132" stop-color="#e88a20"/><stop offset="0.2132" stop-color="#e9921f"/><stop offset="0.2280" stop-color="#e9921f"/><stop offset="0.2280" stop-color="#ea9a1e"/><stop offset="0.2427" stop-color="#ea9a1e"/><stop offset="0.2427" stop-color="#eca61d"/><stop offset="0.2574" stop-color="#eca61d"/><stop offset="0.2574" stop-color="#efb21b"/><stop offset="0.2721" stop-color="#efb21b"/><stop offset="0.2721" stop-color="#f0c01b"/><stop offset="0.2868" stop-color="#f0c01b"/><stop offset="0.2868" stop-color="#f0cd1c"/><stop offset="0.3015" stop-color="#f0cd1c"/><stop offset="0.3015" stop-color="#f0d41f"/><stop offset="0.3162" stop-color="#f0d41f"/><stop offset="0.3162" stop-color="#f0d921"/><stop offset="0.3309" stop-color="#f0d921"/><stop offset="0.3309" stop-color="#f0de24"/><stop offset="0.3456" stop-color="#f0de24"/><stop offset="0.3456" stop-color="#efe329"/><stop offset="0.3603" stop-color="#efe329"/><stop offset="0.3603" stop-color="#ece62f"/><stop offset="0.3750" stop-color="#ece62f"/><stop offset="0.3750" stop-color="#e5e438"/><stop offset="0.3897" stop-color="#e5e438"/><stop offset="0.3897" stop-color="#d9df41"/><stop offset="0.4044" stop-color="#d9df41"/><stop offset="0.4044" stop-color="#ccda49"/><stop offset="0.4191" stop-color="#ccda49"/><stop offset="0.4191" stop-color="#bdd553"/><stop offset="0.4338" stop-color="#bdd553"/><stop offset="0.4338" stop-color="#add15d"/><stop offset="0.4486" stop-color="#add15d"/><stop offset="0.4486" stop-color="#94cc6c"/><stop offset="0.4633" stop-color="#94cc6c"/><stop offset="0.4633" stop-color="#86c977"/><stop offset="0.4780" stop-color="#86c977"/><stop offset="0.4780" stop-color="#79c681"/><stop offset="0.4927" stop-color="#79c681"/><stop offset="0.4927" stop-color="#6fc388"/><stop offset="0.5074" stop-color="#6fc388"/><stop offset="0.5074" stop-color="#67c28e"/><stop offset="0.5221" stop-color="#67c28e"/><stop offset="0.5221" stop-color="#60c095"/><stop offset="0.5368" stop-color="#60c095"/><stop offset="0.5368" stop-color="#5bbd9b"/><stop offset="0.5515" stop-color="#5bbd9b"/><stop offset="0.5515" stop-color="#58bca1"/><stop offset="0.5662" stop-color="#58bca1"/><stop offset="0.5662" stop-color="#58bca7"/><stop offset="0.5809" stop-color="#58bca7"/><stop offset="0.5809" stop-color="#58bcae"/><stop offset="0.5956" stop-color="#58bcae"/><stop offset="0.5956" stop-color="#56bbb7"/><stop offset="0.6103" stop-color="#56bbb7"/><stop offset="0.6103" stop-color="#53bac1"/><stop offset="0.6250" stop-color="#53bac1"/><stop offset="0.6250" stop-color="#44b8d4"/><stop offset="0.6397" stop-color="#44b8d4"/><stop offset="0.6397" stop-color="#35b8de"/><stop offset="0.6544" stop-color="#35b8de"/><stop offset="0.6544" stop-color="#2ab2e3"/><stop offset="0.6691" stop-color="#2ab2e3"/><stop offset="0.6691" stop-color="#2b9cd7"/><stop offset="0.6839" stop-color="#2b9cd7"/><stop offset="0.6839" stop-color="#2e87ca"/><stop offset="0.6986" stop-color="#2e87ca"/><stop offset="0.6986" stop-color="#2c73bf"/><stop offset="0.7133" stop-color="#2c73bf"/><stop offset="0.7133" stop-color="#2968b8"/><stop offset="0.7280" stop-color="#2968b8"/><stop offset="0.7280" stop-color="#275fb2"/><stop offset="0.7427" stop-color="#275fb2"/><stop offset="0.7427" stop-color="#2558ad"/><stop offset="0.7574" stop-color="#2558ad"/><stop offset="0.7574" stop-color="#2452a9"/><stop offset="0.7721" stop-color="#2452a9"/><stop offset="0.7721" stop-color="#254fa7"/><stop offset="0.7868" stop-color="#254fa7"/><stop offset="0.7868" stop-color="#264ea6"/><stop offset="0.8015" stop-color="#264ea6"/><stop offset="0.8015" stop-color="#274da5"/><stop offset="0.8162" stop-color="#274da5"/><stop offset="0.8162" stop-color="#284ca4"/><stop offset="0.8309" stop-color="#284ca4"/><stop offset="0.8309" stop-color="#284ca4"/><stop offset="0.8456" stop-color="#284ca4"/><stop offset="0.8456" stop-color="#294ba3"/><stop offset="0.8603" stop-color="#294ba3"/><stop offset="0.8603" stop-color="#2a4aa2"/><stop offset="0.8750" stop-color="#2a4aa2"/><stop offset="0.8750" stop-color="#2a4aa2"/><stop offset="0.8897" stop-color="#2a4aa2"/><stop offset="0.8897" stop-color="#2a49a1"/><stop offset="0.9045" stop-color="#2a49a1"/><stop offset="0.9045" stop-color="#2a48a0"/><stop offset="0.9192" stop-color="#2a48a0"/><stop offset="0.9192" stop-color="#2a479f"/><stop offset="0.9339" stop-color="#2a479f"/><stop offset="0.9339" stop-color="#2b479f"/><stop offset="0.9486" stop-color="#2b479f"/><stop offset="0.9486" stop-color="#2d3c94"/><stop offset="1.0000" stop-color="#2d3c94"/></linearGradient>
<linearGradient id="g20" gradientUnits="userSpaceOnUse" x1="0" y1="12.00" x2="0" y2="204.50"><stop offset="0.0000" stop-color="#d82e24"/><stop offset="0.0074" stop-color="#d82e24"/><stop offset="0.0074" stop-color="#d93225"/><stop offset="0.0221" stop-color="#d93225"/><stop offset="0.0221" stop-color="#db3925"/><stop offset="0.0368" stop-color="#db3925"/><stop offset="0.0368" stop-color="#dc3f26"/><stop offset="0.0515" stop-color="#dc3f26"/><stop offset="0.0515" stop-color="#dd4626"/><stop offset="0.0662" stop-color="#dd4626"/><stop offset="0.0662" stop-color="#de4c26"/><stop offset="0.0809" stop-color="#de4c26"/><stop offset="0.0809" stop-color="#df5226"/><stop offset="0.0956" stop-color="#df5226"/><stop offset="0.0956" stop-color="#e05826"/><stop offset="0.1103" stop-color="#e05826"/><stop offset="0.1103" stop-color="#e15e25"/><stop offset="0.1250" stop-color="#e15e25"/><stop offset="0.1250" stop-color="#e26425"/><stop offset="0.1397" stop-color="#e26425"/><stop offset="0.1397" stop-color="#e46e24"/><stop offset="0.1544" stop-color="#e46e24"/><stop offset="0.1544" stop-color="#e57523"/><stop offset="0.1691" stop-color="#e57523"/><stop offset="0.1691" stop-color="#e67c22"/><stop offset="0.1838" stop-color="#e67c22"/><stop offset="0.1838" stop-color="#e78321"/><stop offset="0.1985" stop-color="#e78321"/><stop offset="0.1985" stop-color="#e88920"/><stop offset="0.2132" stop-color="#e88920"/><stop offset="0.2132" stop-color="#e9921f"/><stop offset="0.2280" stop-color="#e9921f"/><stop offset="0.2280" stop-color="#ea9a1e"/><stop offset="0.2427" stop-color="#ea9a1e"/><stop offset="0.2427" stop-color="#eca51d"/><stop offset="0.2574" stop-color="#eca51d"/><stop offset="0.2574" stop-color="#efb11b"/><stop offset="0.2721" stop-color="#efb11b"/><stop offset="0.2721" stop-color="#f0bf1b"/><stop offset="0.2868" stop-color="#f0bf1b"/><stop offset="0.2868" stop-color="#f0cd1c"/><stop offset="0.3015" stop-color="#f0cd1c"/><stop offset="0.3015" stop-color="#f0d41f"/><stop offset="0.3162" stop-color="#f0d41f"/><stop offset="0.3162" stop-color="#f0d921"/><stop offset="0.3309" stop-color="#f0d921"/><stop offset="0.3309" stop-color="#f0de24"/><stop offset="0.3456" stop-color="#f0de24"/><stop offset="0.3456" stop-color="#efe329"/><stop offset="0.3603" stop-color="#efe329"/><stop offset="0.3603" stop-color="#ece62e"/><stop offset="0.3750" stop-color="#ece62e"/><stop offset="0.3750" stop-color="#e6e437"/><stop offset="0.3897" stop-color="#e6e437"/><stop offset="0.3897" stop-color="#dbe040"/><stop offset="0.4044" stop-color="#dbe040"/><stop offset="0.4044" stop-color="#ceda48"/><stop offset="0.4191" stop-color="#ceda48"/><stop offset="0.4191" stop-color="#bfd652"/><stop offset="0.4338" stop-color="#bfd652"/><stop offset="0.4338" stop-color="#aed25c"/><stop offset="0.4486" stop-color="#aed25c"/><stop offset="0.4486" stop-color="#96cc6b"/><stop offset="0.4633" stop-color="#96cc6b"/><stop offset="0.4633" stop-color="#88c975"/><stop offset="0.4780" stop-color="#88c975"/><stop offset="0.4780" stop-color="#7ac680"/><stop offset="0.4927" stop-color="#7ac680"/><stop offset="0.4927" stop-color="#70c388"/><stop offset="0.5074" stop-color="#70c388"/><stop offset="0.5074" stop-color="#68c28e"/><stop offset="0.5221" stop-color="#68c28e"/><stop offset="0.5221" stop-color="#60c094"/><stop offset="0.5368" stop-color="#60c094"/><stop offset="0.5368" stop-color="#5bbe9a"/><stop offset="0.5515" stop-color="#5bbe9a"/><stop offset="0.5515" stop-color="#58bca0"/><stop offset="0.5662" stop-color="#58bca0"/><stop offset="0.5662" stop-color="#58bca6"/><stop offset="0.5809" stop-color="#58bca6"/><stop offset="0.5809" stop-color="#58bcac"/><stop offset="0.5956" stop-color="#58bcac"/><stop offset="0.5956" stop-color="#56bbb5"/><stop offset="0.6103" stop-color="#56bbb5"/><stop offset="0.6103" stop-color="#54babe"/><stop offset="0.6250" stop-color="#54babe"/><stop offset="0.6250" stop-color="#48b8cf"/><stop offset="0.6397" stop-color="#48b8cf"/><stop offset="0.6397" stop-color="#39b8db"/><stop offset="0.6544" stop-color="#39b8db"/><stop offset="0.6544" stop-color="#2bb8e6"/><stop offset="0.6691" stop-color="#2bb8e6"/><stop offset="0.6691" stop-color="#2aa3db"/><stop offset="0.6839" stop-color="#2aa3db"/><stop offset="0.6839" stop-color="#2e8ecd"/><stop offset="0.6986" stop-color="#2e8ecd"/><stop offset="0.6986" stop-color="#2c79c3"/><stop offset="0.7133" stop-color="#2c79c3"/><stop offset="0.7133" stop-color="#2a6cbb"/><stop offset="0.7280" stop-color="#2a6cbb"/><stop offset="0.7280" stop-color="#2862b4"/><stop offset="0.7427" stop-color="#2862b4"/><stop offset="0.7427" stop-color="#265baf"/><stop offset="0.7574" stop-color="#265baf"/><stop offset="0.7574" stop-color="#2454aa"/><stop offset="0.7721" stop-color="#2454aa"/><stop offset="0.7721" stop-color="#2450a8"/><stop offset="0.7868" stop-color="#2450a8"/><stop offset="0.7868" stop-color="#254fa7"/><stop offset="0.8015" stop-color="#254fa7"/><stop offset="0.8015" stop-color="#264ea6"/><stop offset="0.8162" stop-color="#264ea6"/><stop offset="0.8162" stop-color="#274da5"/><stop offset="0.8309" stop-color="#274da5"/><stop offset="0.8309" stop-color="#284ca4"/><stop offset="0.8456" stop-color="#284ca4"/><stop offset="0.8456" stop-color="#294ba3"/><stop offset="0.8603" stop-color="#294ba3"/><stop offset="0.8603" stop-color="#2a4aa2"/><stop offset="0.8750" stop-color="#2a4aa2"/><stop offset="0.8750" stop-color="#2a4aa2"/><stop offset="0.8897" stop-color="#2a4aa2"/><stop offset="0.8897" stop-color="#2a49a1"/><stop offset="0.9045" stop-color="#2a49a1"/><stop offset="0.9045" stop-color="#2a48a0"/><stop offset="0.9192" stop-color="#2a48a0"/><stop offset="0.9192" stop-color="#2a479f"/><stop offset="0.9339" stop-color="#2a479f"/><stop offset="0.9339" stop-color="#2b469e"/><stop offset="0.9486" stop-color="#2b469e"/><stop offset="0.9486" stop-color="#2d3c94"/><stop offset="1.0000" stop-color="#2d3c94"/></linearGradient>
<linearGradient id="g21" gradientUnits="userSpaceOnUse" x1="0" y1="14.00" x2="0" y2="205.00"><stop offset="-0.0136" stop-color="#d82c24"/><stop offset="-0.0044" stop-color="#d82c24"/><stop offset="0.0048" stop-color="#d92f24"/><stop offset="0.0140" stop-color="#da3425"/><stop offset="0.0232" stop-color="#db3925"/><stop offset="0.0325" stop-color="#dc3e26"/><stop offset="0.0417" stop-color="#dd4426"/><stop offset="0.0509" stop-color="#dd4926"/><stop offset="0.0601" stop-color="#de4e26"/><stop offset="0.0693" stop-color="#df5326"/><stop offset="0.0785" stop-color="#e05826"/><stop offset="0.0877" stop-color="#e15d26"/><stop offset="0.0970" stop-color="#e26225"/><stop offset="0.1062" stop-color="#e36725"/><stop offset="0.1154" stop-color="#e46c24"/><stop offset="0.1246" stop-color="#e47024"/><stop offset="0.1338" stop-color="#e57323"/><stop offset="0.1430" stop-color="#e57723"/><stop offset="0.1523" stop-color="#e67a22"/><stop offset="0.1615" stop-color="#e67e22"/><stop offset="0.1707" stop-color="#e68122"/><stop offset="0.1799" stop-color="#e78521"/><stop offset="0.1891" stop-color="#e88821"/><stop offset="0.1983" stop-color="#e88c20"/><stop offset="0.2075" stop-color="#e9911f"/><stop offset="0.2168" stop-color="#e9951f"/><stop offset="0.2260" stop-color="#ea9a1e"/><stop offset="0.2352" stop-color="#eba01d"/><stop offset="0.2444" stop-color="#eda81c"/><stop offset="0.2536" stop-color="#eeb01b"/><stop offset="0.2628" stop-color="#f0b81a"/><stop offset="0.2720" stop-color="#f0c21b"/><stop offset="0.2813" stop-color="#f0cc1c"/><stop offset="0.2905" stop-color="#f0d01e"/><stop offset="0.2997" stop-color="#f0d51f"/><stop offset="0.3089" stop-color="#f0d921"/><stop offset="0.3181" stop-color="#f0de24"/><stop offset="0.3273" stop-color="#efe228"/><stop offset="0.3365" stop-color="#eee62c"/><stop offset="0.3458" stop-color="#ebe531"/><stop offset="0.3550" stop-color="#e7e535"/><stop offset="0.3642" stop-color="#e4e43a"/><stop offset="0.3734" stop-color="#dde13e"/><stop offset="0.3826" stop-color="#d6de43"/><stop offset="0.3918" stop-color="#cfdb47"/><stop offset="0.4010" stop-color="#c8d84c"/><stop offset="0.4103" stop-color="#bfd651"/><stop offset="0.4195" stop-color="#b7d457"/><stop offset="0.4287" stop-color="#aed25c"/><stop offset="0.4379" stop-color="#a3cf63"/><stop offset="0.4471" stop-color="#94cc6c"/><stop offset="0.4563" stop-color="#8cca72"/><stop offset="0.4655" stop-color="#83c879"/><stop offset="0.4748" stop-color="#7bc67f"/><stop offset="0.4840" stop-color="#72c486"/><stop offset="0.4932" stop-color="#6ec389"/><stop offset="0.5024" stop-color="#6ac28c"/><stop offset="0.5116" stop-color="#66c18f"/><stop offset="0.5208" stop-color="#62c092"/><stop offset="0.5301" stop-color="#5fbf96"/><stop offset="0.5393" stop-color="#5cbe99"/><stop offset="0.5485" stop-color="#5abd9c"/><stop offset="0.5577" stop-color="#58bc9f"/><stop offset="0.5669" stop-color="#58bca2"/><stop offset="0.5761" stop-color="#58bca5"/><stop offset="0.5853" stop-color="#58bca9"/><stop offset="0.5946" stop-color="#58bcac"/><stop offset="0.6038" stop-color="#57bcb1"/><stop offset="0.6130" stop-color="#56bbb6"/><stop offset="0.6222" stop-color="#55babb"/><stop offset="0.6314" stop-color="#54bac0"/><stop offset="0.6406" stop-color="#4cb9ca"/><stop offset="0.6498" stop-color="#44b8d4"/><stop offset="0.6591" stop-color="#3cb8da"/><stop offset="0.6683" stop-color="#34b8df"/><stop offset="0.6775" stop-color="#2cb8e5"/><stop offset="0.6867" stop-color="#2ab0e2"/><stop offset="0.6959" stop-color="#2aa7dd"/><stop offset="0.7051" stop-color="#2b9ed8"/><stop offset="0.7143" stop-color="#2d95d2"/><stop offset="0.7236" stop-color="#2e8ccc"/><stop offset="0.7328" stop-color="#2d83c8"/><stop offset="0.7420" stop-color="#2d7ac3"/><stop offset="0.7512" stop-color="#2c72bf"/><stop offset="0.7604" stop-color="#2a6cbb"/><stop offset="0.7696" stop-color="#2966b6"/><stop offset="0.7788" stop-color="#2860b3"/><stop offset="0.7881" stop-color="#265cb0"/><stop offset="0.7973" stop-color="#2558ad"/><stop offset="0.8065" stop-color="#2454aa"/><stop offset="0.8157" stop-color="#2450a8"/><stop offset="0.8249" stop-color="#254fa7"/><stop offset="0.8341" stop-color="#264ea6"/><stop offset="0.8434" stop-color="#274da5"/><stop offset="0.8526" stop-color="#284ca4"/><stop offset="0.8618" stop-color="#294ba3"/><stop offset="0.8710" stop-color="#2a4aa2"/><stop offset="0.8802" stop-color="#2a49a1"/><stop offset="0.8894" stop-color="#2a48a0"/><stop offset="0.8986" stop-color="#2b479f"/><stop offset="0.9079" stop-color="#2b469e"/><stop offset="0.9171" stop-color="#2b459d"/><stop offset="0.9263" stop-color="#2b439b"/><stop offset="0.9355" stop-color="#2c429a"/><stop offset="0.9447" stop-color="#2c4098"/><stop offset="0.9539" stop-color="#2c3f97"/><stop offset="0.9631" stop-color="#2d3e96"/><stop offset="0.9724" stop-color="#2d3c94"/><stop offset="0.9816" stop-color="#2d3b93"/><stop offset="0.9908" stop-color="#2d3991"/><stop offset="1.0000" stop-color="#2d3890"/></linearGradient>
<linearGradient id="g22" gradientUnits="userSpaceOnUse" x1="0" y1="251.70" x2="0" y2="444.50"><stop offset="0.0000" stop-color="#811111"/><stop offset="0.0156" stop-color="#811111"/><stop offset="0.0156" stop-color="#8f1414"/><stop offset="0.0312" stop-color="#8f1414"/><stop offset="0.0312" stop-color="#9e1818"/><stop offset="0.0469" stop-color="#9e1818"/><stop offset="0.0469" stop-color="#ae1a1d"/><stop offset="0.0625" stop-color="#ae1a1d"/><stop offset="0.0625" stop-color="#be1d22"/><stop offset="0.0781" stop-color="#be1d22"/><stop offset="0.0781" stop-color="#ce2027"/><stop offset="0.0937" stop-color="#ce2027"/><stop offset="0.0937" stop-color="#d5222a"/><stop offset="0.1094" stop-color="#d5222a"/><stop offset="0.1094" stop-color="#da252d"/><stop offset="0.1250" stop-color="#da252d"/><stop offset="0.1250" stop-color="#e02830"/><stop offset="0.1406" stop-color="#e02830"/><stop offset="0.1406" stop-color="#e2312e"/><stop offset="0.1562" stop-color="#e2312e"/><stop offset="0.1562" stop-color="#e43c2c"/><stop offset="0.1719" stop-color="#e43c2c"/><stop offset="0.1719" stop-color="#e6462a"/><stop offset="0.1875" stop-color="#e6462a"/><stop offset="0.1875" stop-color="#e85028"/><stop offset="0.2031" stop-color="#e85028"/><stop offset="0.2031" stop-color="#ea5c28"/><stop offset="0.2188" stop-color="#ea5c28"/><stop offset="0.2188" stop-color="#eb6728"/><stop offset="0.2344" stop-color="#eb6728"/><stop offset="0.2344" stop-color="#ed7328"/><stop offset="0.2500" stop-color="#ed7328"/><stop offset="0.2500" stop-color="#ef7e28"/><stop offset="0.2656" stop-color="#ef7e28"/><stop offset="0.2656" stop-color="#f08a27"/><stop offset="0.2813" stop-color="#f08a27"/><stop offset="0.2813" stop-color="#f09623"/><stop offset="0.2969" stop-color="#f09623"/><stop offset="0.2969" stop-color="#f0a320"/><stop offset="0.3125" stop-color="#f0a320"/><stop offset="0.3125" stop-color="#f0b523"/><stop offset="0.3281" stop-color="#f0b523"/><stop offset="0.3281" stop-color="#f0c825"/><stop offset="0.3438" stop-color="#f0c825"/><stop offset="0.3438" stop-color="#f0da27"/><stop offset="0.3594" stop-color="#f0da27"/><stop offset="0.3594" stop-color="#e4dd30"/><stop offset="0.3750" stop-color="#e4dd30"/><stop offset="0.3750" stop-color="#d3da3d"/><stop offset="0.3906" stop-color="#d3da3d"/><stop offset="0.3906" stop-color="#c2d649"/><stop offset="0.4062" stop-color="#c2d649"/><stop offset="0.4062" stop-color="#afd256"/><stop offset="0.4219" stop-color="#afd256"/><stop offset="0.4219" stop-color="#98cc64"/><stop offset="0.4375" stop-color="#98cc64"/><stop offset="0.4375" stop-color="#81c672"/><stop offset="0.4531" stop-color="#81c672"/><stop offset="0.4531" stop-color="#6cc080"/><stop offset="0.4688" stop-color="#6cc080"/><stop offset="0.4688" stop-color="#66bf87"/><stop offset="0.4844" stop-color="#66bf87"/><stop offset="0.4844" stop-color="#61be8d"/><stop offset="0.5000" stop-color="#61be8d"/><stop offset="0.5000" stop-color="#5cbd93"/><stop offset="0.5156" stop-color="#5cbd93"/><stop offset="0.5156" stop-color="#56bc99"/><stop offset="0.5312" stop-color="#56bc99"/><stop offset="0.5312" stop-color="#52bb9f"/><stop offset="0.5469" stop-color="#52bb9f"/><stop offset="0.5469" stop-color="#4fbaa5"/><stop offset="0.5625" stop-color="#4fbaa5"/><stop offset="0.5625" stop-color="#4cb9ab"/><stop offset="0.5781" stop-color="#4cb9ab"/><stop offset="0.5781" stop-color="#49b8b1"/><stop offset="0.5938" stop-color="#49b8b1"/><stop offset="0.5938" stop-color="#46b8b9"/><stop offset="0.6094" stop-color="#46b8b9"/><stop offset="0.6094" stop-color="#43b8c2"/><stop offset="0.6250" stop-color="#43b8c2"/><stop offset="0.6250" stop-color="#40b8cb"/><stop offset="0.6406" stop-color="#40b8cb"/><stop offset="0.6406" stop-color="#3ab6d5"/><stop offset="0.6563" stop-color="#3ab6d5"/><stop offset="0.6563" stop-color="#33b5de"/><stop offset="0.6719" stop-color="#33b5de"/><stop offset="0.6719" stop-color="#2db0e0"/><stop offset="0.6875" stop-color="#2db0e0"/><stop offset="0.6875" stop-color="#29a8dd"/><stop offset="0.7031" stop-color="#29a8dd"/><stop offset="0.7031" stop-color="#299ad7"/><stop offset="0.7187" stop-color="#299ad7"/><stop offset="0.7187" stop-color="#2a8ad0"/><stop offset="0.7344" stop-color="#2a8ad0"/><stop offset="0.7344" stop-color="#2a7dc8"/><stop offset="0.7500" stop-color="#2a7dc8"/><stop offset="0.7500" stop-color="#2a70c0"/><stop offset="0.7656" stop-color="#2a70c0"/><stop offset="0.7656" stop-color="#2868bc"/><stop offset="0.7812" stop-color="#2868bc"/><stop offset="0.7812" stop-color="#2660b8"/><stop offset="0.7969" stop-color="#2660b8"/><stop offset="0.7969" stop-color="#2659b4"/><stop offset="0.8125" stop-color="#2659b4"/><stop offset="0.8125" stop-color="#2652b0"/><stop offset="0.8281" stop-color="#2652b0"/><stop offset="0.8281" stop-color="#284fae"/><stop offset="0.8438" stop-color="#284fae"/><stop offset="0.8438" stop-color="#294dac"/><stop offset="0.8594" stop-color="#294dac"/><stop offset="0.8594" stop-color="#2d4eab"/><stop offset="0.8750" stop-color="#2d4eab"/><stop offset="0.8750" stop-color="#3150aa"/><stop offset="0.8906" stop-color="#3150aa"/><stop offset="0.8906" stop-color="#3954ab"/><stop offset="0.9063" stop-color="#3954ab"/><stop offset="0.9063" stop-color="#465aad"/><stop offset="0.9219" stop-color="#465aad"/><stop offset="0.9219" stop-color="#5b68b4"/><stop offset="0.9375" stop-color="#5b68b4"/><stop offset="0.9375" stop-color="#7981bf"/><stop offset="0.9531" stop-color="#7981bf"/><stop offset="0.9531" stop-color="#9da2d0"/><stop offset="0.9688" stop-color="#9da2d0"/><stop offset="0.9688" stop-color="#c8cae4"/><stop offset="0.9844" stop-color="#c8cae4"/><stop offset="0.9844" stop-color="#ececf6"/><stop offset="1.0000" stop-color="#ececf6"/></linearGradient></defs>
<g shape-rendering="crispEdges">
<rect x="41.40" y="12.0" width="12.90" height="192.5" fill="url(#g1)"/>
<rect x="53.30" y="12.0" width="12.90" height="192.5" fill="url(#g2)"/>
<rect x="65.20" y="12.0" width="12.90" height="192.5" fill="url(#g3)"/>
<rect x="77.10" y="12.0" width="12.90" height="192.5" fill="url(#g4)"/>
<rect x="89.00" y="12.0" width="12.90" height="192.5" fill="url(#g5)"/>
<rect x="100.90" y="12.0" width="12.90" height="192.5" fill="url(#g6)"/>
<rect x="112.80" y="12.0" width="12.90" height="192.5" fill="url(#g7)"/>
<rect x="124.70" y="12.0" width="12.90" height="192.5" fill="url(#g8)"/>
<rect x="136.60" y="12.0" width="12.90" height="192.5" fill="url(#g9)"/>
<rect x="148.50" y="12.0" width="12.90" height="192.5" fill="url(#g10)"/>
<rect x="160.40" y="12.0" width="12.90" height="192.5" fill="url(#g11)"/>
<rect x="172.30" y="12.0" width="12.90" height="192.5" fill="url(#g12)"/>
<rect x="184.20" y="12.0" width="12.90" height="192.5" fill="url(#g13)"/>
<rect x="196.10" y="12.0" width="12.90" height="192.5" fill="url(#g14)"/>
<rect x="208.00" y="12.0" width="12.90" height="192.5" fill="url(#g15)"/>
<rect x="219.90" y="12.0" width="12.90" height="192.5" fill="url(#g16)"/>
<rect x="231.80" y="12.0" width="12.90" height="192.5" fill="url(#g17)"/>
<rect x="243.70" y="12.0" width="12.90" height="192.5" fill="url(#g18)"/>
<rect x="255.60" y="12.0" width="12.90" height="192.5" fill="url(#g19)"/>
<rect x="267.50" y="12.0" width="11.90" height="192.5" fill="url(#g20)"/>
</g>
<rect x="41.40" y="158.65" width="12.10" height="1.5" fill="#e2e6f3"/>
<rect x="53.30" y="161.55" width="12.10" height="1.5" fill="#e2e6f3"/>
<rect x="65.20" y="165.05" width="12.10" height="1.5" fill="#e2e6f3"/>
<rect x="77.10" y="167.95" width="12.10" height="1.5" fill="#e2e6f3"/>
<rect x="89.00" y="170.05" width="12.10" height="1.5" fill="#e2e6f3"/>
<rect x="100.90" y="172.85" width="12.10" height="1.5" fill="#e2e6f3"/>
<rect x="112.80" y="174.35" width="12.10" height="1.5" fill="#e2e6f3"/>
<rect x="124.70" y="177.15" width="12.10" height="1.5" fill="#e2e6f3"/>
<rect x="136.60" y="178.95" width="12.10" height="1.5" fill="#e2e6f3"/>
<rect x="148.50" y="180.85" width="12.10" height="1.5" fill="#e2e6f3"/>
<rect x="160.40" y="182.45" width="12.10" height="1.5" fill="#e2e6f3"/>
<rect x="172.30" y="184.35" width="12.10" height="1.5" fill="#e2e6f3"/>
<rect x="184.20" y="185.85" width="12.10" height="1.5" fill="#e2e6f3"/>
<rect x="196.10" y="187.45" width="12.10" height="1.5" fill="#e2e6f3"/>
<rect x="208.00" y="189.15" width="12.10" height="1.5" fill="#e2e6f3"/>
<rect x="219.90" y="190.55" width="12.10" height="1.5" fill="#e2e6f3"/>
<rect x="231.80" y="190.55" width="12.10" height="1.5" fill="#e2e6f3"/>
<rect x="243.70" y="192.25" width="12.10" height="1.5" fill="#e2e6f3"/>
<rect x="255.60" y="193.85" width="12.10" height="1.5" fill="#e2e6f3"/>
<rect x="267.50" y="193.85" width="12.10" height="1.5" fill="#e2e6f3"/>
<path d="M279.4 12.0h-2.4M41.4 12.0h2.4M279.4 17.6h-1.4M41.4 17.6h1.4M279.4 23.3h-1.4M41.4 23.3h1.4M279.4 28.9h-1.4M41.4 28.9h1.4M279.4 34.5h-1.4M41.4 34.5h1.4M279.4 40.2h-2.4M41.4 40.2h2.4M279.4 45.8h-1.4M41.4 45.8h1.4M279.4 51.4h-1.4M41.4 51.4h1.4M279.4 57.1h-1.4M41.4 57.1h1.4M279.4 62.7h-1.4M41.4 62.7h1.4M279.4 68.3h-2.4M41.4 68.3h2.4M279.4 74.0h-1.4M41.4 74.0h1.4M279.4 79.6h-1.4M41.4 79.6h1.4M279.4 85.2h-1.4M41.4 85.2h1.4M279.4 90.9h-1.4M41.4 90.9h1.4M279.4 96.5h-2.4M41.4 96.5h2.4M279.4 102.1h-1.4M41.4 102.1h1.4M279.4 107.8h-1.4M41.4 107.8h1.4M279.4 113.4h-1.4M41.4 113.4h1.4M279.4 119.0h-1.4M41.4 119.0h1.4M279.4 124.7h-2.4M41.4 124.7h2.4M279.4 130.3h-1.4M41.4 130.3h1.4M279.4 135.9h-1.4M41.4 135.9h1.4M279.4 141.6h-1.4M41.4 141.6h1.4M279.4 147.2h-1.4M41.4 147.2h1.4M279.4 152.8h-2.4M41.4 152.8h2.4M279.4 158.5h-1.4M41.4 158.5h1.4M279.4 164.1h-1.4M41.4 164.1h1.4M279.4 169.7h-1.4M41.4 169.7h1.4M279.4 175.4h-1.4M41.4 175.4h1.4M279.4 181.0h-2.4M41.4 181.0h2.4M279.4 186.6h-1.4M41.4 186.6h1.4M279.4 192.3h-1.4M41.4 192.3h1.4M279.4 197.9h-1.4M41.4 197.9h1.4M279.4 203.5h-1.4M41.4 203.5h1.4M46.7 204.5v-2.4M46.7 12.0v2.4M52.4 204.5v-1.4M52.4 12.0v1.4M58.1 204.5v-1.4M58.1 12.0v1.4M63.7 204.5v-1.4M63.7 12.0v1.4M69.4 204.5v-1.4M69.4 12.0v1.4M75.1 204.5v-1.4M75.1 12.0v1.4M80.8 204.5v-1.4M80.8 12.0v1.4M86.5 204.5v-1.4M86.5 12.0v1.4M92.1 204.5v-1.4M92.1 12.0v1.4M97.8 204.5v-1.4M97.8 12.0v1.4M103.5 204.5v-2.4M103.5 12.0v2.4M109.2 204.5v-1.4M109.2 12.0v1.4M114.9 204.5v-1.4M114.9 12.0v1.4M120.5 204.5v-1.4M120.5 12.0v1.4M126.2 204.5v-1.4M126.2 12.0v1.4M131.9 204.5v-1.4M131.9 12.0v1.4M137.6 204.5v-1.4M137.6 12.0v1.4M143.3 204.5v-1.4M143.3 12.0v1.4M148.9 204.5v-1.4M148.9 12.0v1.4M154.6 204.5v-1.4M154.6 12.0v1.4M160.3 204.5v-2.4M160.3 12.0v2.4M166.0 204.5v-1.4M166.0 12.0v1.4M171.7 204.5v-1.4M171.7 12.0v1.4M177.3 204.5v-1.4M177.3 12.0v1.4M183.0 204.5v-1.4M183.0 12.0v1.4M188.7 204.5v-1.4M188.7 12.0v1.4M194.4 204.5v-1.4M194.4 12.0v1.4M200.1 204.5v-1.4M200.1 12.0v1.4M205.7 204.5v-1.4M205.7 12.0v1.4M211.4 204.5v-1.4M211.4 12.0v1.4M217.1 204.5v-2.4M217.1 12.0v2.4M222.8 204.5v-1.4M222.8 12.0v1.4M228.5 204.5v-1.4M228.5 12.0v1.4M234.1 204.5v-1.4M234.1 12.0v1.4M239.8 204.5v-1.4M239.8 12.0v1.4M245.5 204.5v-1.4M245.5 12.0v1.4M251.2 204.5v-1.4M251.2 12.0v1.4M256.9 204.5v-1.4M256.9 12.0v1.4M262.5 204.5v-1.4M262.5 12.0v1.4M268.2 204.5v-1.4M268.2 12.0v1.4M273.9 204.5v-2.4M273.9 12.0v2.4" stroke="#555" stroke-width="0.6" fill="none"/>
<rect x="287.8" y="11.5" width="11.2" height="193.5" fill="#fff" stroke="#c8c8c8" stroke-width="0.8"/>
<rect x="287.8" y="14.0" width="11.2" height="191" fill="url(#g21)"/>
<line x1="287.8" y1="169.8" x2="289.6" y2="169.8" stroke="#555" stroke-width="0.6"/>
<line x1="299.0" y1="169.8" x2="297.2" y2="169.8" stroke="#555" stroke-width="0.6"/>
<line x1="287.8" y1="134.6" x2="289.6" y2="134.6" stroke="#555" stroke-width="0.6"/>
<line x1="299.0" y1="134.6" x2="297.2" y2="134.6" stroke="#555" stroke-width="0.6"/>
<line x1="287.8" y1="99.4" x2="289.6" y2="99.4" stroke="#555" stroke-width="0.6"/>
<line x1="299.0" y1="99.4" x2="297.2" y2="99.4" stroke="#555" stroke-width="0.6"/>
<line x1="287.8" y1="64.2" x2="289.6" y2="64.2" stroke="#555" stroke-width="0.6"/>
<line x1="299.0" y1="64.2" x2="297.2" y2="64.2" stroke="#555" stroke-width="0.6"/>
<line x1="287.8" y1="29.0" x2="289.6" y2="29.0" stroke="#555" stroke-width="0.6"/>
<line x1="299.0" y1="29.0" x2="297.2" y2="29.0" stroke="#555" stroke-width="0.6"/>
<text x="39.0" y="16.4" font-size="11.2" text-anchor="end" fill="#141414">4</text>
<text x="39.0" y="44.6" font-size="11.2" text-anchor="end" fill="#141414">3.5</text>
<text x="39.0" y="72.7" font-size="11.2" text-anchor="end" fill="#141414">3</text>
<text x="39.0" y="100.9" font-size="11.2" text-anchor="end" fill="#141414">2.5</text>
<text x="39.0" y="129.1" font-size="11.2" text-anchor="end" fill="#141414">2</text>
<text x="39.0" y="157.2" font-size="11.2" text-anchor="end" fill="#141414">1.5</text>
<text x="39.0" y="185.4" font-size="11.2" text-anchor="end" fill="#141414">1</text>
<text x="46.7" y="216.3" font-size="11.2" text-anchor="middle" fill="#141414">2</text>
<text x="103.5" y="216.3" font-size="11.2" text-anchor="middle" fill="#141414">2.5</text>
<text x="160.3" y="216.3" font-size="11.2" text-anchor="middle" fill="#141414">3</text>
<text x="217.1" y="216.3" font-size="11.2" text-anchor="middle" fill="#141414">3.5</text>
<text x="273.9" y="216.3" font-size="11.2" text-anchor="middle" fill="#141414">4</text>
<text x="300.2" y="174.2" font-size="11.2" text-anchor="start" fill="#141414">2</text>
<text x="300.2" y="139.0" font-size="11.2" text-anchor="start" fill="#141414">4</text>
<text x="300.2" y="103.8" font-size="11.2" text-anchor="start" fill="#141414">6</text>
<text x="300.2" y="68.6" font-size="11.2" text-anchor="start" fill="#141414">8</text>
<text x="300.2" y="33.4" font-size="11.2" text-anchor="start" fill="#141414">10</text>
<text transform="translate(18.5,175.2) rotate(-90)" font-size="13.8" fill="#141414" textLength="132.5" lengthAdjust="spacingAndGlyphs">Intensity [10<tspan font-size="11.0" dy="-5.6">13</tspan><tspan dy="5.6"> W/cm</tspan><tspan font-size="11.0" dy="-5.6">2</tspan><tspan dy="5.6">]</tspan></text>
<text x="109.1" y="229.3" font-size="13.4" text-anchor="start" fill="#141414" textLength="100.9" lengthAdjust="spacingAndGlyphs">Wavelength [&#181;m]</text>
<text transform="translate(325.8,150.4) rotate(-90)" font-size="10.2" fill="#141414"><tspan font-size="12">N</tspan><tspan font-size="8.6" dy="6.6" dx="-0.6">e</tspan><tspan font-size="8.5" dy="-14.0" dx="-0.4">(Kerr)</tspan><tspan dy="7.4"> [10</tspan><tspan font-size="7.9" dy="-5.2">21</tspan><tspan dy="5.2">cm</tspan><tspan font-size="7.9" dy="-5.2">-3</tspan><tspan dy="5.2">]</tspan></text>
<text x="232.7" y="35.8" font-family="Liberation Serif, serif" font-size="22.5" fill="#1a1a1a">(a)</text>
<rect x="396.6" y="5.2" width="248.7" height="195.4" fill="none" stroke="#bcbcbc" stroke-width="1"/>
<line x1="396.6" y1="200.6" x2="396.6" y2="198.1" stroke="#bcbcbc" stroke-width="0.8"/>
<line x1="396.6" y1="5.2" x2="396.6" y2="7.7" stroke="#bcbcbc" stroke-width="0.8"/>
<line x1="404.4" y1="200.6" x2="404.4" y2="199.0" stroke="#bcbcbc" stroke-width="0.8"/>
<line x1="404.4" y1="5.2" x2="404.4" y2="6.8" stroke="#bcbcbc" stroke-width="0.8"/>
<line x1="412.1" y1="200.6" x2="412.1" y2="199.0" stroke="#bcbcbc" stroke-width="0.8"/>
<line x1="412.1" y1="5.2" x2="412.1" y2="6.8" stroke="#bcbcbc" stroke-width="0.8"/>
<line x1="419.9" y1="200.6" x2="419.9" y2="199.0" stroke="#bcbcbc" stroke-width="0.8"/>
<line x1="419.9" y1="5.2" x2="419.9" y2="6.8" stroke="#bcbcbc" stroke-width="0.8"/>
<line x1="427.7" y1="200.6" x2="427.7" y2="199.0" stroke="#bcbcbc" stroke-width="0.8"/>
<line x1="427.7" y1="5.2" x2="427.7" y2="6.8" stroke="#bcbcbc" stroke-width="0.8"/>
<line x1="435.5" y1="200.6" x2="435.5" y2="199.0" stroke="#bcbcbc" stroke-width="0.8"/>
<line x1="435.5" y1="5.2" x2="435.5" y2="6.8" stroke="#bcbcbc" stroke-width="0.8"/>
<line x1="443.2" y1="200.6" x2="443.2" y2="199.0" stroke="#bcbcbc" stroke-width="0.8"/>
<line x1="443.2" y1="5.2" x2="443.2" y2="6.8" stroke="#bcbcbc" stroke-width="0.8"/>
<line x1="451.0" y1="200.6" x2="451.0" y2="199.0" stroke="#bcbcbc" stroke-width="0.8"/>
<line x1="451.0" y1="5.2" x2="451.0" y2="6.8" stroke="#bcbcbc" stroke-width="0.8"/>
<line x1="458.8" y1="200.6" x2="458.8" y2="199.0" stroke="#bcbcbc" stroke-width="0.8"/>
<line x1="458.8" y1="5.2" x2="458.8" y2="6.8" stroke="#bcbcbc" stroke-width="0.8"/>
<line x1="466.5" y1="200.6" x2="466.5" y2="199.0" stroke="#bcbcbc" stroke-width="0.8"/>
<line x1="466.5" y1="5.2" x2="466.5" y2="6.8" stroke="#bcbcbc" stroke-width="0.8"/>
<line x1="474.3" y1="200.6" x2="474.3" y2="198.1" stroke="#bcbcbc" stroke-width="0.8"/>
<line x1="474.3" y1="5.2" x2="474.3" y2="7.7" stroke="#bcbcbc" stroke-width="0.8"/>
<line x1="482.1" y1="200.6" x2="482.1" y2="199.0" stroke="#bcbcbc" stroke-width="0.8"/>
<line x1="482.1" y1="5.2" x2="482.1" y2="6.8" stroke="#bcbcbc" stroke-width="0.8"/>
<line x1="489.9" y1="200.6" x2="489.9" y2="199.0" stroke="#bcbcbc" stroke-width="0.8"/>
<line x1="489.9" y1="5.2" x2="489.9" y2="6.8" stroke="#bcbcbc" stroke-width="0.8"/>
<line x1="497.6" y1="200.6" x2="497.6" y2="199.0" stroke="#bcbcbc" stroke-width="0.8"/>
<line x1="497.6" y1="5.2" x2="497.6" y2="6.8" stroke="#bcbcbc" stroke-width="0.8"/>
<line x1="505.4" y1="200.6" x2="505.4" y2="199.0" stroke="#bcbcbc" stroke-width="0.8"/>
<line x1="505.4" y1="5.2" x2="505.4" y2="6.8" stroke="#bcbcbc" stroke-width="0.8"/>
<line x1="513.2" y1="200.6" x2="513.2" y2="199.0" stroke="#bcbcbc" stroke-width="0.8"/>
<line x1="513.2" y1="5.2" x2="513.2" y2="6.8" stroke="#bcbcbc" stroke-width="0.8"/>
<line x1="521.0" y1="200.6" x2="521.0" y2="199.0" stroke="#bcbcbc" stroke-width="0.8"/>
<line x1="521.0" y1="5.2" x2="521.0" y2="6.8" stroke="#bcbcbc" stroke-width="0.8"/>
<line x1="528.7" y1="200.6" x2="528.7" y2="199.0" stroke="#bcbcbc" stroke-width="0.8"/>
<line x1="528.7" y1="5.2" x2="528.7" y2="6.8" stroke="#bcbcbc" stroke-width="0.8"/>
<line x1="536.5" y1="200.6" x2="536.5" y2="199.0" stroke="#bcbcbc" stroke-width="0.8"/>
<line x1="536.5" y1="5.2" x2="536.5" y2="6.8" stroke="#bcbcbc" stroke-width="0.8"/>
<line x1="544.3" y1="200.6" x2="544.3" y2="199.0" stroke="#bcbcbc" stroke-width="0.8"/>
<line x1="544.3" y1="5.2" x2="544.3" y2="6.8" stroke="#bcbcbc" stroke-width="0.8"/>
<line x1="552.0" y1="200.6" x2="552.0" y2="198.1" stroke="#bcbcbc" stroke-width="0.8"/>
<line x1="552.0" y1="5.2" x2="552.0" y2="7.7" stroke="#bcbcbc" stroke-width="0.8"/>
<line x1="559.8" y1="200.6" x2="559.8" y2="199.0" stroke="#bcbcbc" stroke-width="0.8"/>
<line x1="559.8" y1="5.2" x2="559.8" y2="6.8" stroke="#bcbcbc" stroke-width="0.8"/>
<line x1="567.6" y1="200.6" x2="567.6" y2="199.0" stroke="#bcbcbc" stroke-width="0.8"/>
<line x1="567.6" y1="5.2" x2="567.6" y2="6.8" stroke="#bcbcbc" stroke-width="0.8"/>
<line x1="575.4" y1="200.6" x2="575.4" y2="199.0" stroke="#bcbcbc" stroke-width="0.8"/>
<line x1="575.4" y1="5.2" x2="575.4" y2="6.8" stroke="#bcbcbc" stroke-width="0.8"/>
<line x1="583.1" y1="200.6" x2="583.1" y2="199.0" stroke="#bcbcbc" stroke-width="0.8"/>
<line x1="583.1" y1="5.2" x2="583.1" y2="6.8" stroke="#bcbcbc" stroke-width="0.8"/>
<line x1="590.9" y1="200.6" x2="590.9" y2="199.0" stroke="#bcbcbc" stroke-width="0.8"/>
<line x1="590.9" y1="5.2" x2="590.9" y2="6.8" stroke="#bcbcbc" stroke-width="0.8"/>
<line x1="598.7" y1="200.6" x2="598.7" y2="199.0" stroke="#bcbcbc" stroke-width="0.8"/>
<line x1="598.7" y1="5.2" x2="598.7" y2="6.8" stroke="#bcbcbc" stroke-width="0.8"/>
<line x1="606.4" y1="200.6" x2="606.4" y2="199.0" stroke="#bcbcbc" stroke-width="0.8"/>
<line x1="606.4" y1="5.2" x2="606.4" y2="6.8" stroke="#bcbcbc" stroke-width="0.8"/>
<line x1="614.2" y1="200.6" x2="614.2" y2="199.0" stroke="#bcbcbc" stroke-width="0.8"/>
<line x1="614.2" y1="5.2" x2="614.2" y2="6.8" stroke="#bcbcbc" stroke-width="0.8"/>
<line x1="622.0" y1="200.6" x2="622.0" y2="199.0" stroke="#bcbcbc" stroke-width="0.8"/>
<line x1="622.0" y1="5.2" x2="622.0" y2="6.8" stroke="#bcbcbc" stroke-width="0.8"/>
<line x1="629.8" y1="200.6" x2="629.8" y2="198.1" stroke="#bcbcbc" stroke-width="0.8"/>
<line x1="629.8" y1="5.2" x2="629.8" y2="7.7" stroke="#bcbcbc" stroke-width="0.8"/>
<line x1="637.5" y1="200.6" x2="637.5" y2="199.0" stroke="#bcbcbc" stroke-width="0.8"/>
<line x1="637.5" y1="5.2" x2="637.5" y2="6.8" stroke="#bcbcbc" stroke-width="0.8"/>
<line x1="645.3" y1="200.6" x2="645.3" y2="199.0" stroke="#bcbcbc" stroke-width="0.8"/>
<line x1="645.3" y1="5.2" x2="645.3" y2="6.8" stroke="#bcbcbc" stroke-width="0.8"/>
<line x1="396.6" y1="200.6" x2="399.1" y2="200.6" stroke="#bcbcbc" stroke-width="0.8"/>
<line x1="645.3" y1="200.6" x2="642.8" y2="200.6" stroke="#bcbcbc" stroke-width="0.8"/>
<line x1="396.6" y1="188.4" x2="398.4" y2="188.4" stroke="#bcbcbc" stroke-width="0.8"/>
<line x1="645.3" y1="188.4" x2="643.5" y2="188.4" stroke="#bcbcbc" stroke-width="0.8"/>
<line x1="396.6" y1="176.2" x2="399.1" y2="176.2" stroke="#bcbcbc" stroke-width="0.8"/>
<line x1="645.3" y1="176.2" x2="642.8" y2="176.2" stroke="#bcbcbc" stroke-width="0.8"/>
<line x1="396.6" y1="164.0" x2="398.4" y2="164.0" stroke="#bcbcbc" stroke-width="0.8"/>
<line x1="645.3" y1="164.0" x2="643.5" y2="164.0" stroke="#bcbcbc" stroke-width="0.8"/>
<line x1="396.6" y1="151.8" x2="399.1" y2="151.8" stroke="#bcbcbc" stroke-width="0.8"/>
<line x1="645.3" y1="151.8" x2="642.8" y2="151.8" stroke="#bcbcbc" stroke-width="0.8"/>
<line x1="396.6" y1="139.5" x2="398.4" y2="139.5" stroke="#bcbcbc" stroke-width="0.8"/>
<line x1="645.3" y1="139.5" x2="643.5" y2="139.5" stroke="#bcbcbc" stroke-width="0.8"/>
<line x1="396.6" y1="127.3" x2="399.1" y2="127.3" stroke="#bcbcbc" stroke-width="0.8"/>
<line x1="645.3" y1="127.3" x2="642.8" y2="127.3" stroke="#bcbcbc" stroke-width="0.8"/>
<line x1="396.6" y1="115.1" x2="398.4" y2="115.1" stroke="#bcbcbc" stroke-width="0.8"/>
<line x1="645.3" y1="115.1" x2="643.5" y2="115.1" stroke="#bcbcbc" stroke-width="0.8"/>
<line x1="396.6" y1="102.9" x2="399.1" y2="102.9" stroke="#bcbcbc" stroke-width="0.8"/>
<line x1="645.3" y1="102.9" x2="642.8" y2="102.9" stroke="#bcbcbc" stroke-width="0.8"/>
<line x1="396.6" y1="90.7" x2="398.4" y2="90.7" stroke="#bcbcbc" stroke-width="0.8"/>
<line x1="645.3" y1="90.7" x2="643.5" y2="90.7" stroke="#bcbcbc" stroke-width="0.8"/>
<line x1="396.6" y1="78.5" x2="399.1" y2="78.5" stroke="#bcbcbc" stroke-width="0.8"/>
<line x1="645.3" y1="78.5" x2="642.8" y2="78.5" stroke="#bcbcbc" stroke-width="0.8"/>
<line x1="396.6" y1="66.3" x2="398.4" y2="66.3" stroke="#bcbcbc" stroke-width="0.8"/>
<line x1="645.3" y1="66.3" x2="643.5" y2="66.3" stroke="#bcbcbc" stroke-width="0.8"/>
<line x1="396.6" y1="54.0" x2="399.1" y2="54.0" stroke="#bcbcbc" stroke-width="0.8"/>
<line x1="645.3" y1="54.0" x2="642.8" y2="54.0" stroke="#bcbcbc" stroke-width="0.8"/>
<line x1="396.6" y1="41.8" x2="398.4" y2="41.8" stroke="#bcbcbc" stroke-width="0.8"/>
<line x1="645.3" y1="41.8" x2="643.5" y2="41.8" stroke="#bcbcbc" stroke-width="0.8"/>
<line x1="396.6" y1="29.6" x2="399.1" y2="29.6" stroke="#bcbcbc" stroke-width="0.8"/>
<line x1="645.3" y1="29.6" x2="642.8" y2="29.6" stroke="#bcbcbc" stroke-width="0.8"/>
<line x1="396.6" y1="17.4" x2="398.4" y2="17.4" stroke="#bcbcbc" stroke-width="0.8"/>
<line x1="645.3" y1="17.4" x2="643.5" y2="17.4" stroke="#bcbcbc" stroke-width="0.8"/>
<line x1="396.6" y1="5.2" x2="399.1" y2="5.2" stroke="#bcbcbc" stroke-width="0.8"/>
<line x1="645.3" y1="5.2" x2="642.8" y2="5.2" stroke="#bcbcbc" stroke-width="0.8"/>
<polyline points="396.6,200.6 396.9,200.6 397.2,200.6 397.5,200.6 397.8,200.6 398.2,200.6 398.5,200.6 398.8,200.6 399.1,200.6 399.4,200.6 399.7,200.6 400.0,200.6 400.3,200.6 400.6,200.6 401.0,200.6 401.3,200.6 401.6,200.6 401.9,200.6 402.2,200.6 402.5,200.6 402.8,200.6 403.1,200.6 403.4,200.6 403.8,200.6 404.1,200.6 404.4,200.6 404.7,200.6 405.0,200.6 405.3,200.6 405.6,200.6 405.9,200.6 406.2,200.6 406.5,200.6 406.9,200.6 407.2,200.6 407.5,200.6 407.8,200.6 408.1,200.6 408.4,200.6 408.7,200.6 409.0,200.6 409.3,200.6 409.7,200.6 410.0,200.6 410.3,200.6 410.6,200.6 410.9,200.6 411.2,200.6 411.5,200.6 411.8,200.6 412.1,200.6 412.5,200.6 412.8,200.6 413.1,200.6 413.4,200.6 413.7,200.6 414.0,200.6 414.3,200.6 414.6,200.6 414.9,200.6 415.3,200.6 415.6,200.6 415.9,200.6 416.2,200.6 416.5,200.6 416.8,200.6 417.1,200.6 417.4,200.6 417.7,200.6 418.1,200.6 418.4,200.6 418.7,200.6 419.0,200.6 419.3,200.6 419.6,200.6 419.9,200.6 420.2,200.6 420.5,200.6 420.8,200.6 421.2,200.6 421.5,200.6 421.8,200.6 422.1,200.6 422.4,200.6 422.7,200.6 423.0,200.6 423.3,200.6 423.6,200.6 424.0,200.6 424.3,200.6 424.6,200.6 424.9,200.6 425.2,200.6 425.5,200.6 425.8,200.6 426.1,200.6 426.4,200.6 426.8,200.6 427.1,200.6 427.4,200.6 427.7,200.6 428.0,200.6 428.3,200.6 428.6,200.6 428.9,200.6 429.2,200.6 429.6,200.6 429.9,200.6 430.2,200.6 430.5,200.6 430.8,200.6 431.1,200.6 431.4,200.6 431.7,200.6 432.0,200.6 432.4,200.6 432.7,200.6 433.0,200.6 433.3,200.6 433.6,200.6 433.9,200.6 434.2,200.6 434.5,200.6 434.8,200.6 435.1,200.6 435.5,200.6 435.8,200.6 436.1,200.6 436.4,200.6 436.7,200.6 437.0,200.6 437.3,200.6 437.6,200.6 437.9,200.6 438.3,200.6 438.6,200.6 438.9,200.6 439.2,200.6 439.5,200.6 439.8,200.6 440.1,200.6 440.4,200.6 440.7,200.6 441.1,200.6 441.4,200.6 441.7,200.6 442.0,200.6 442.3,200.6 442.6,200.6 442.9,200.6 443.2,200.6 443.5,200.6 443.9,200.6 444.2,200.6 444.5,200.6 444.8,200.6 445.1,200.6 445.4,200.6 445.7,200.6 446.0,200.6 446.3,200.6 446.7,200.6 447.0,200.6 447.3,200.5 447.6,200.5 447.9,200.5 448.2,200.5 448.5,200.5 448.8,200.5 449.1,200.5 449.4,200.5 449.8,200.5 450.1,200.4 450.4,200.4 450.7,200.4 451.0,200.4 451.3,200.3 451.6,200.3 451.9,200.2 452.2,200.2 452.6,200.1 452.9,200.1 453.2,200.0 453.5,199.9 453.8,199.9 454.1,199.8 454.4,199.7 454.7,199.6 455.0,199.5 455.4,199.3 455.7,199.1 456.0,198.9 456.3,198.7 456.6,198.5 456.9,198.2 457.2,197.9 457.5,197.6 457.8,197.3 458.2,197.0 458.5,196.6 458.8,196.3 459.1,195.9 459.4,195.5 459.7,195.1 460.0,194.7 460.3,194.2 460.6,193.6 461.0,193.0 461.3,192.2 461.6,191.5 461.9,190.6 462.2,189.8 462.5,188.8 462.8,187.8 463.1,186.8 463.4,185.7 463.7,184.6 464.1,183.4 464.4,182.1 464.7,180.7 465.0,179.1 465.3,177.4 465.6,175.6 465.9,173.5 466.2,171.3 466.5,168.9 466.9,166.2 467.2,162.7 467.5,158.4 467.8,153.8 468.1,148.9 468.4,144.1 468.7,139.5 469.0,135.2 469.3,130.8 469.7,126.6 470.0,122.5 470.3,118.5 470.6,114.6 470.9,110.7 471.2,106.9 471.5,103.2 471.8,99.6 472.1,96.1 472.5,92.6 472.8,89.3 473.1,86.0 473.4,82.8 473.7,79.7 474.0,76.6 474.3,73.6 474.6,70.8 474.9,68.0 475.3,65.2 475.6,62.4 475.9,59.7 476.2,57.1 476.5,54.5 476.8,52.1 477.1,49.8 477.4,47.6 477.7,45.5 478.0,43.5 478.4,41.6 478.7,39.6 479.0,37.8 479.3,36.1 479.6,34.5 479.9,33.0 480.2,31.8 480.5,30.8 480.8,30.0 481.2,29.2 481.5,28.4 481.8,27.9 482.1,27.6 482.4,27.6 482.7,27.8 483.0,28.1 483.3,28.6 483.6,29.2 484.0,29.8 484.3,30.5 484.6,31.2 484.9,32.1 485.2,33.2 485.5,34.4 485.8,35.7 486.1,37.1 486.4,38.7 486.8,40.2 487.1,41.8 487.4,43.3 487.7,44.8 488.0,46.2 488.3,47.7 488.6,49.2 488.9,50.7 489.2,52.3 489.6,53.8 489.9,55.4 490.2,57.0 490.5,58.6 490.8,60.2 491.1,61.8 491.4,63.4 491.7,64.9 492.0,66.5 492.3,67.9 492.7,69.4 493.0,70.8 493.3,72.1 493.6,73.5 493.9,74.8 494.2,76.1 494.5,77.3 494.8,78.6 495.1,79.8 495.5,81.0 495.8,82.3 496.1,83.5 496.4,84.7 496.7,85.8 497.0,87.0 497.3,88.2 497.6,89.4 497.9,90.6 498.3,91.8 498.6,93.0 498.9,94.2 499.2,95.4 499.5,96.7 499.8,97.9 500.1,99.2 500.4,100.5 500.7,101.8 501.1,103.1 501.4,104.4 501.7,105.7 502.0,107.0 502.3,108.3 502.6,109.6 502.9,110.9 503.2,112.2 503.5,113.5 503.9,114.8 504.2,116.0 504.5,117.3 504.8,118.5 505.1,119.7 505.4,120.9 505.7,122.1 506.0,123.3 506.3,124.4 506.6,125.5 507.0,126.6 507.3,127.6 507.6,128.7 507.9,129.7 508.2,130.8 508.5,131.8 508.8,132.8 509.1,133.8 509.4,134.8 509.8,135.8 510.1,136.8 510.4,137.8 510.7,138.7 511.0,139.7 511.3,140.6 511.6,141.5 511.9,142.4 512.2,143.3 512.6,144.2 512.9,145.0 513.2,145.9 513.5,146.7 513.8,147.5 514.1,148.3 514.4,149.0 514.7,149.8 515.0,150.5 515.4,151.3 515.7,152.0 516.0,152.7 516.3,153.4 516.6,154.1 516.9,154.8 517.2,155.5 517.5,156.2 517.8,156.9 518.2,157.6 518.5,158.2 518.8,158.9 519.1,159.6 519.4,160.2 519.7,160.9 520.0,161.5 520.3,162.1 520.6,162.8 521.0,163.4 521.3,164.0 521.6,164.6 521.9,165.2 522.2,165.7 522.5,166.3 522.8,166.9 523.1,167.4 523.4,167.9 523.7,168.5 524.1,169.0 524.4,169.5 524.7,170.0 525.0,170.4 525.3,170.9 525.6,171.3 525.9,171.8 526.2,172.2 526.5,172.6 526.9,173.0 527.2,173.4 527.5,173.7 527.8,174.1 528.1,174.4 528.4,174.8 528.7,175.1 529.0,175.4 529.3,175.7 529.7,176.1 530.0,176.4 530.3,176.7 530.6,177.0 530.9,177.3 531.2,177.6 531.5,177.8 531.8,178.1 532.1,178.4 532.5,178.6 532.8,178.9 533.1,179.2 533.4,179.4 533.7,179.7 534.0,179.9 534.3,180.2 534.6,180.4 534.9,180.6 535.3,180.9 535.6,181.1 535.9,181.3 536.2,181.5 536.5,181.7 536.8,182.0 537.1,182.2 537.4,182.4 537.7,182.6 538.0,182.8 538.4,183.0 538.7,183.2 539.0,183.4 539.3,183.6 539.6,183.8 539.9,184.0 540.2,184.2 540.5,184.3 540.8,184.5 541.2,184.7 541.5,184.9 541.8,185.1 542.1,185.3 542.4,185.4 542.7,185.6 543.0,185.8 543.3,185.9 543.6,186.1 544.0,186.3 544.3,186.4 544.6,186.6 544.9,186.8 545.2,186.9 545.5,187.1 545.8,187.2 546.1,187.4 546.4,187.5 546.8,187.7 547.1,187.8 547.4,188.0 547.7,188.1 548.0,188.3 548.3,188.4 548.6,188.5 548.9,188.7 549.2,188.8 549.6,188.9 549.9,189.1 550.2,189.2 550.5,189.3 550.8,189.4 551.1,189.6 551.4,189.7 551.7,189.8 552.0,189.9 552.3,190.0 552.7,190.1 553.0,190.3 553.3,190.4 553.6,190.5 553.9,190.6 554.2,190.7 554.5,190.8 554.8,190.9 555.1,191.0 555.5,191.2 555.8,191.3 556.1,191.4 556.4,191.5 556.7,191.6 557.0,191.7 557.3,191.8 557.6,191.9 557.9,192.0 558.3,192.1 558.6,192.2 558.9,192.3 559.2,192.4 559.5,192.5 559.8,192.6 560.1,192.7 560.4,192.8 560.7,192.9 561.1,193.0 561.4,193.1 561.7,193.2 562.0,193.3 562.3,193.4 562.6,193.5 562.9,193.6 563.2,193.7 563.5,193.8 563.9,193.9 564.2,194.0 564.5,194.1 564.8,194.2 565.1,194.3 565.4,194.4 565.7,194.5 566.0,194.5 566.3,194.6 566.6,194.7 567.0,194.8 567.3,194.9 567.6,195.0 567.9,195.0 568.2,195.1 568.5,195.2 568.8,195.3 569.1,195.4 569.4,195.4 569.8,195.5 570.1,195.6 570.4,195.7 570.7,195.7 571.0,195.8 571.3,195.9 571.6,195.9 571.9,196.0 572.2,196.1 572.6,196.1 572.9,196.2 573.2,196.3 573.5,196.3 573.8,196.4 574.1,196.4 574.4,196.5 574.7,196.6 575.0,196.6 575.4,196.7 575.7,196.7 576.0,196.8 576.3,196.8 576.6,196.9 576.9,196.9 577.2,197.0 577.5,197.0 577.8,197.0 578.2,197.1 578.5,197.1 578.8,197.2 579.1,197.2 579.4,197.3 579.7,197.3 580.0,197.4 580.3,197.4 580.6,197.4 580.9,197.5 581.3,197.5 581.6,197.6 581.9,197.6 582.2,197.6 582.5,197.7 582.8,197.7 583.1,197.7 583.4,197.8 583.7,197.8 584.1,197.9 584.4,197.9 584.7,197.9 585.0,198.0 585.3,198.0 585.6,198.0 585.9,198.1 586.2,198.1 586.5,198.1 586.9,198.2 587.2,198.2 587.5,198.2 587.8,198.3 588.1,198.3 588.4,198.3 588.7,198.4 589.0,198.4 589.3,198.4 589.7,198.4 590.0,198.5 590.3,198.5 590.6,198.5 590.9,198.6 591.2,198.6 591.5,198.6 591.8,198.6 592.1,198.7 592.5,198.7 592.8,198.7 593.1,198.7 593.4,198.8 593.7,198.8 594.0,198.8 594.3,198.8 594.6,198.9 594.9,198.9 595.2,198.9 595.6,198.9 595.9,199.0 596.2,199.0 596.5,199.0 596.8,199.0 597.1,199.0 597.4,199.1 597.7,199.1 598.0,199.1 598.4,199.1 598.7,199.1 599.0,199.2 599.3,199.2 599.6,199.2 599.9,199.2 600.2,199.2 600.5,199.2 600.8,199.3 601.2,199.3 601.5,199.3 601.8,199.3 602.1,199.3 602.4,199.3 602.7,199.4 603.0,199.4 603.3,199.4 603.6,199.4 604.0,199.4 604.3,199.4 604.6,199.5 604.9,199.5 605.2,199.5 605.5,199.5 605.8,199.5 606.1,199.5 606.4,199.5 606.8,199.6 607.1,199.6 607.4,199.6 607.7,199.6 608.0,199.6 608.3,199.6 608.6,199.6 608.9,199.7 609.2,199.7 609.5,199.7 609.9,199.7 610.2,199.7 610.5,199.7 610.8,199.7 611.1,199.7 611.4,199.8 611.7,199.8 612.0,199.8 612.3,199.8 612.7,199.8 613.0,199.8 613.3,199.8 613.6,199.8 613.9,199.9 614.2,199.9 614.5,199.9 614.8,199.9 615.1,199.9 615.5,199.9 615.8,199.9 616.1,199.9 616.4,199.9 616.7,200.0 617.0,200.0 617.3,200.0 617.6,200.0 617.9,200.0 618.3,200.0 618.6,200.0 618.9,200.0 619.2,200.0 619.5,200.0 619.8,200.0 620.1,200.1 620.4,200.1 620.7,200.1 621.1,200.1 621.4,200.1 621.7,200.1 622.0,200.1 622.3,200.1 622.6,200.1 622.9,200.1 623.2,200.1 623.5,200.2 623.8,200.2 624.2,200.2 624.5,200.2 624.8,200.2 625.1,200.2 625.4,200.2 625.7,200.2 626.0,200.2 626.3,200.2 626.6,200.2 627.0,200.2 627.3,200.3 627.6,200.3 627.9,200.3 628.2,200.3 628.5,200.3 628.8,200.3 629.1,200.3 629.4,200.3 629.8,200.3 630.1,200.3 630.4,200.3 630.7,200.3 631.0,200.3 631.3,200.4 631.6,200.4 631.9,200.4 632.2,200.4 632.6,200.4 632.9,200.4 633.2,200.4 633.5,200.4 633.8,200.4 634.1,200.4 634.4,200.4 634.7,200.4 635.0,200.4 635.4,200.4 635.7,200.4 636.0,200.5 636.3,200.5 636.6,200.5 636.9,200.5 637.2,200.5 637.5,200.5 637.8,200.5 638.1,200.5 638.5,200.5 638.8,200.5 639.1,200.5 639.4,200.5 639.7,200.5 640.0,200.5 640.3,200.5 640.6,200.5 640.9,200.5 641.3,200.5 641.6,200.6 641.9,200.6 642.2,200.6 642.5,200.6 642.8,200.6 643.1,200.6 643.4,200.6 643.7,200.6 644.1,200.6 644.4,200.6 644.7,200.6 645.0,200.6 645.3,200.6" fill="none" stroke="#2349a8" stroke-width="2.0" stroke-linejoin="round"/>
<polyline points="396.6,200.6 396.9,200.6 397.2,200.6 397.5,200.6 397.8,200.6 398.2,200.6 398.5,200.6 398.8,200.6 399.1,200.6 399.4,200.6 399.7,200.6 400.0,200.6 400.3,200.6 400.6,200.6 401.0,200.6 401.3,200.6 401.6,200.6 401.9,200.6 402.2,200.6 402.5,200.6 402.8,200.6 403.1,200.6 403.4,200.6 403.8,200.6 404.1,200.6 404.4,200.6 404.7,200.6 405.0,200.6 405.3,200.6 405.6,200.6 405.9,200.6 406.2,200.6 406.5,200.6 406.9,200.6 407.2,200.6 407.5,200.6 407.8,200.6 408.1,200.6 408.4,200.6 408.7,200.6 409.0,200.6 409.3,200.6 409.7,200.6 410.0,200.6 410.3,200.6 410.6,200.6 410.9,200.6 411.2,200.6 411.5,200.6 411.8,200.6 412.1,200.6 412.5,200.6 412.8,200.6 413.1,200.6 413.4,200.6 413.7,200.6 414.0,200.6 414.3,200.6 414.6,200.6 414.9,200.6 415.3,200.6 415.6,200.6 415.9,200.6 416.2,200.6 416.5,200.6 416.8,200.6 417.1,200.6 417.4,200.6 417.7,200.6 418.1,200.6 418.4,200.6 418.7,200.6 419.0,200.6 419.3,200.6 419.6,200.6 419.9,200.6 420.2,200.6 420.5,200.6 420.8,200.6 421.2,200.6 421.5,200.6 421.8,200.6 422.1,200.6 422.4,200.6 422.7,200.6 423.0,200.6 423.3,200.6 423.6,200.6 424.0,200.6 424.3,200.6 424.6,200.6 424.9,200.6 425.2,200.6 425.5,200.6 425.8,200.6 426.1,200.6 426.4,200.6 426.8,200.6 427.1,200.6 427.4,200.6 427.7,200.6 428.0,200.6 428.3,200.6 428.6,200.6 428.9,200.6 429.2,200.6 429.6,200.6 429.9,200.6 430.2,200.6 430.5,200.6 430.8,200.6 431.1,200.6 431.4,200.6 431.7,200.6 432.0,200.6 432.4,200.6 432.7,200.6 433.0,200.6 433.3,200.6 433.6,200.6 433.9,200.6 434.2,200.6 434.5,200.6 434.8,200.6 435.1,200.6 435.5,200.6 435.8,200.6 436.1,200.6 436.4,200.6 436.7,200.6 437.0,200.6 437.3,200.6 437.6,200.6 437.9,200.6 438.3,200.6 438.6,200.6 438.9,200.6 439.2,200.6 439.5,200.6 439.8,200.6 440.1,200.6 440.4,200.6 440.7,200.6 441.1,200.6 441.4,200.6 441.7,200.6 442.0,200.6 442.3,200.6 442.6,200.6 442.9,200.6 443.2,200.6 443.5,200.6 443.9,200.6 444.2,200.6 444.5,200.6 444.8,200.6 445.1,200.6 445.4,200.6 445.7,200.6 446.0,200.6 446.3,200.6 446.7,200.6 447.0,200.6 447.3,200.5 447.6,200.5 447.9,200.5 448.2,200.5 448.5,200.5 448.8,200.5 449.1,200.5 449.4,200.5 449.8,200.5 450.1,200.4 450.4,200.4 450.7,200.4 451.0,200.4 451.3,200.3 451.6,200.3 451.9,200.2 452.2,200.2 452.6,200.1 452.9,200.1 453.2,200.0 453.5,199.9 453.8,199.9 454.1,199.8 454.4,199.7 454.7,199.6 455.0,199.5 455.4,199.3 455.7,199.1 456.0,198.9 456.3,198.7 456.6,198.5 456.9,198.2 457.2,197.9 457.5,197.6 457.8,197.3 458.2,197.0 458.5,196.6 458.8,196.3 459.1,195.9 459.4,195.5 459.7,195.1 460.0,194.7 460.3,194.2 460.6,193.6 461.0,193.0 461.3,192.2 461.6,191.5 461.9,190.6 462.2,189.8 462.5,188.8 462.8,187.8 463.1,186.8 463.4,185.7 463.7,184.6 464.1,183.4 464.4,182.1 464.7,180.7 465.0,179.1 465.3,177.4 465.6,175.6 465.9,173.5 466.2,171.3 466.5,168.9 466.9,166.2 467.2,162.7 467.5,158.4 467.8,153.8 468.1,148.9 468.4,144.1 468.7,139.5 469.0,135.2 469.3,130.8 469.7,126.6 470.0,122.5 470.3,118.5 470.6,114.5 470.9,110.6 471.2,106.8 471.5,103.1 471.8,99.5 472.1,96.1 472.5,92.8 472.8,89.6 473.1,86.5 473.4,83.5 473.7,80.6 474.0,77.8 474.3,75.0 474.6,72.4 474.9,69.8 475.3,67.1 475.6,64.6 475.9,62.0 476.2,59.6 476.5,57.2 476.8,55.0 477.1,52.9 477.4,50.9 477.7,49.2 478.0,47.5 478.4,46.0 478.7,44.4 479.0,43.0 479.3,41.7 479.6,40.6 479.9,39.6 480.2,38.8 480.5,38.1 480.8,37.4 481.2,36.8 481.5,36.5 481.8,36.5 482.1,36.7 482.4,37.1 482.7,37.6 483.0,38.2 483.3,38.8 483.6,39.4 484.0,40.1 484.3,40.9 484.6,41.8 484.9,42.8 485.2,43.8 485.5,44.9 485.8,46.0 486.1,47.2 486.4,48.4 486.8,49.7 487.1,50.9 487.4,52.2 487.7,53.4 488.0,54.7 488.3,56.0 488.6,57.5 488.9,59.0 489.2,60.5 489.6,62.1 489.9,63.8 490.2,65.4 490.5,67.1 490.8,68.8 491.1,70.5 491.4,72.1 491.7,73.8 492.0,75.3 492.3,76.9 492.7,78.3 493.0,79.7 493.3,81.0 493.6,82.3 493.9,83.6 494.2,84.8 494.5,86.0 494.8,87.2 495.1,88.4 495.5,89.5 495.8,90.7 496.1,91.8 496.4,92.9 496.7,94.0 497.0,95.1 497.3,96.2 497.6,97.3 497.9,98.4 498.3,99.5 498.6,100.7 498.9,101.8 499.2,102.9 499.5,104.1 499.8,105.3 500.1,106.4 500.4,107.6 500.7,108.8 501.1,110.0 501.4,111.2 501.7,112.4 502.0,113.6 502.3,114.9 502.6,116.1 502.9,117.3 503.2,118.5 503.5,119.6 503.9,120.8 504.2,122.0 504.5,123.1 504.8,124.3 505.1,125.4 505.4,126.5 505.7,127.5 506.0,128.6 506.3,129.6 506.6,130.6 507.0,131.6 507.3,132.6 507.6,133.5 507.9,134.4 508.2,135.4 508.5,136.3 508.8,137.2 509.1,138.1 509.4,139.0 509.8,139.9 510.1,140.7 510.4,141.6 510.7,142.4 511.0,143.3 511.3,144.1 511.6,144.9 511.9,145.7 512.2,146.5 512.6,147.3 512.9,148.0 513.2,148.8 513.5,149.5 513.8,150.2 514.1,150.9 514.4,151.6 514.7,152.3 515.0,153.0 515.4,153.6 515.7,154.3 516.0,154.9 516.3,155.6 516.6,156.2 516.9,156.9 517.2,157.5 517.5,158.1 517.8,158.8 518.2,159.4 518.5,160.0 518.8,160.6 519.1,161.2 519.4,161.8 519.7,162.4 520.0,163.0 520.3,163.6 520.6,164.2 521.0,164.7 521.3,165.3 521.6,165.8 521.9,166.4 522.2,166.9 522.5,167.4 522.8,167.9 523.1,168.5 523.4,168.9 523.7,169.4 524.1,169.9 524.4,170.4 524.7,170.8 525.0,171.3 525.3,171.7 525.6,172.1 525.9,172.5 526.2,172.9 526.5,173.3 526.9,173.7 527.2,174.0 527.5,174.3 527.8,174.7 528.1,175.0 528.4,175.3 528.7,175.6 529.0,175.9 529.3,176.2 529.7,176.5 530.0,176.8 530.3,177.1 530.6,177.4 530.9,177.6 531.2,177.9 531.5,178.2 531.8,178.4 532.1,178.7 532.5,178.9 532.8,179.2 533.1,179.4 533.4,179.6 533.7,179.9 534.0,180.1 534.3,180.3 534.6,180.6 534.9,180.8 535.3,181.0 535.6,181.2 535.9,181.4 536.2,181.6 536.5,181.8 536.8,182.0 537.1,182.2 537.4,182.4 537.7,182.6 538.0,182.8 538.4,183.0 538.7,183.2 539.0,183.4 539.3,183.6 539.6,183.8 539.9,184.0 540.2,184.1 540.5,184.3 540.8,184.5 541.2,184.7 541.5,184.9 541.8,185.1 542.1,185.2 542.4,185.4 542.7,185.6 543.0,185.7 543.3,185.9 543.6,186.1 544.0,186.2 544.3,186.4 544.6,186.6 544.9,186.7 545.2,186.9 545.5,187.1 545.8,187.2 546.1,187.4 546.4,187.5 546.8,187.7 547.1,187.8 547.4,188.0 547.7,188.1 548.0,188.2 548.3,188.4 548.6,188.5 548.9,188.7 549.2,188.8 549.6,188.9 549.9,189.1 550.2,189.2 550.5,189.3 550.8,189.4 551.1,189.6 551.4,189.7 551.7,189.8 552.0,189.9 552.3,190.0 552.7,190.1 553.0,190.3 553.3,190.4 553.6,190.5 553.9,190.6 554.2,190.7 554.5,190.8 554.8,190.9 555.1,191.0 555.5,191.2 555.8,191.3 556.1,191.4 556.4,191.5 556.7,191.6 557.0,191.7 557.3,191.8 557.6,191.9 557.9,192.0 558.3,192.1 558.6,192.2 558.9,192.3 559.2,192.4 559.5,192.5 559.8,192.6 560.1,192.7 560.4,192.8 560.7,192.9 561.1,193.0 561.4,193.1 561.7,193.2 562.0,193.3 562.3,193.4 562.6,193.5 562.9,193.6 563.2,193.7 563.5,193.8 563.9,193.9 564.2,194.0 564.5,194.1 564.8,194.2 565.1,194.3 565.4,194.4 565.7,194.5 566.0,194.5 566.3,194.6 566.6,194.7 567.0,194.8 567.3,194.9 567.6,195.0 567.9,195.0 568.2,195.1 568.5,195.2 568.8,195.3 569.1,195.4 569.4,195.4 569.8,195.5 570.1,195.6 570.4,195.7 570.7,195.7 571.0,195.8 571.3,195.9 571.6,195.9 571.9,196.0 572.2,196.1 572.6,196.1 572.9,196.2 573.2,196.3 573.5,196.3 573.8,196.4 574.1,196.4 574.4,196.5 574.7,196.6 575.0,196.6 575.4,196.7 575.7,196.7 576.0,196.8 576.3,196.8 576.6,196.9 576.9,196.9 577.2,197.0 577.5,197.0 577.8,197.0 578.2,197.1 578.5,197.1 578.8,197.2 579.1,197.2 579.4,197.3 579.7,197.3 580.0,197.4 580.3,197.4 580.6,197.4 580.9,197.5 581.3,197.5 581.6,197.6 581.9,197.6 582.2,197.6 582.5,197.7 582.8,197.7 583.1,197.7 583.4,197.8 583.7,197.8 584.1,197.9 584.4,197.9 584.7,197.9 585.0,198.0 585.3,198.0 585.6,198.0 585.9,198.1 586.2,198.1 586.5,198.1 586.9,198.2 587.2,198.2 587.5,198.2 587.8,198.3 588.1,198.3 588.4,198.3 588.7,198.4 589.0,198.4 589.3,198.4 589.7,198.4 590.0,198.5 590.3,198.5 590.6,198.5 590.9,198.6 591.2,198.6 591.5,198.6 591.8,198.6 592.1,198.7 592.5,198.7 592.8,198.7 593.1,198.7 593.4,198.8 593.7,198.8 594.0,198.8 594.3,198.8 594.6,198.9 594.9,198.9 595.2,198.9 595.6,198.9 595.9,199.0 596.2,199.0 596.5,199.0 596.8,199.0 597.1,199.0 597.4,199.1 597.7,199.1 598.0,199.1 598.4,199.1 598.7,199.1 599.0,199.2 599.3,199.2 599.6,199.2 599.9,199.2 600.2,199.2 600.5,199.2 600.8,199.3 601.2,199.3 601.5,199.3 601.8,199.3 602.1,199.3 602.4,199.3 602.7,199.4 603.0,199.4 603.3,199.4 603.6,199.4 604.0,199.4 604.3,199.4 604.6,199.5 604.9,199.5 605.2,199.5 605.5,199.5 605.8,199.5 606.1,199.5 606.4,199.5 606.8,199.6 607.1,199.6 607.4,199.6 607.7,199.6 608.0,199.6 608.3,199.6 608.6,199.6 608.9,199.7 609.2,199.7 609.5,199.7 609.9,199.7 610.2,199.7 610.5,199.7 610.8,199.7 611.1,199.7 611.4,199.8 611.7,199.8 612.0,199.8 612.3,199.8 612.7,199.8 613.0,199.8 613.3,199.8 613.6,199.8 613.9,199.9 614.2,199.9 614.5,199.9 614.8,199.9 615.1,199.9 615.5,199.9 615.8,199.9 616.1,199.9 616.4,199.9 616.7,200.0 617.0,200.0 617.3,200.0 617.6,200.0 617.9,200.0 618.3,200.0 618.6,200.0 618.9,200.0 619.2,200.0 619.5,200.0 619.8,200.0 620.1,200.1 620.4,200.1 620.7,200.1 621.1,200.1 621.4,200.1 621.7,200.1 622.0,200.1 622.3,200.1 622.6,200.1 622.9,200.1 623.2,200.1 623.5,200.2 623.8,200.2 624.2,200.2 624.5,200.2 624.8,200.2 625.1,200.2 625.4,200.2 625.7,200.2 626.0,200.2 626.3,200.2 626.6,200.2 627.0,200.2 627.3,200.3 627.6,200.3 627.9,200.3 628.2,200.3 628.5,200.3 628.8,200.3 629.1,200.3 629.4,200.3 629.8,200.3 630.1,200.3 630.4,200.3 630.7,200.3 631.0,200.3 631.3,200.4 631.6,200.4 631.9,200.4 632.2,200.4 632.6,200.4 632.9,200.4 633.2,200.4 633.5,200.4 633.8,200.4 634.1,200.4 634.4,200.4 634.7,200.4 635.0,200.4 635.4,200.4 635.7,200.4 636.0,200.5 636.3,200.5 636.6,200.5 636.9,200.5 637.2,200.5 637.5,200.5 637.8,200.5 638.1,200.5 638.5,200.5 638.8,200.5 639.1,200.5 639.4,200.5 639.7,200.5 640.0,200.5 640.3,200.5 640.6,200.5 640.9,200.5 641.3,200.5 641.6,200.6 641.9,200.6 642.2,200.6 642.5,200.6 642.8,200.6 643.1,200.6 643.4,200.6 643.7,200.6 644.1,200.6 644.4,200.6 644.7,200.6 645.0,200.6 645.3,200.6" fill="none" stroke="#ec2a30" stroke-width="2.0" stroke-dasharray="5.5,2.2" stroke-linejoin="round"/>
<polyline points="422.1,200.6 422.4,200.6 422.7,200.6 423.0,200.6 423.3,200.6 423.6,200.6 424.0,200.6 424.3,200.6 424.6,200.6 424.9,200.6 425.2,200.6 425.5,200.6 425.8,200.6 426.1,200.6 426.4,200.6 426.8,200.6 427.1,200.6 427.4,200.6 427.7,200.6 428.0,200.6 428.3,200.6 428.6,200.6 428.9,200.6 429.2,200.6 429.6,200.6 429.9,200.6 430.2,200.6 430.5,200.6 430.8,200.6 431.1,200.6 431.4,200.6 431.7,200.6 432.0,200.6 432.4,200.6 432.7,200.6 433.0,200.6 433.3,200.6 433.6,200.6 433.9,200.6 434.2,200.6 434.5,200.5 434.8,200.5 435.1,200.5 435.5,200.5 435.8,200.5 436.1,200.5 436.4,200.5 436.7,200.5 437.0,200.5 437.3,200.5 437.6,200.5 437.9,200.4 438.3,200.4 438.6,200.4 438.9,200.4 439.2,200.4 439.5,200.4 439.8,200.3 440.1,200.3 440.4,200.3 440.7,200.2 441.1,200.2 441.4,200.2 441.7,200.1 442.0,200.1 442.3,200.1 442.6,200.0 442.9,200.0 443.2,199.9 443.5,199.8 443.9,199.8 444.2,199.7 444.5,199.6 444.8,199.6 445.1,199.5 445.4,199.4 445.7,199.3 446.0,199.2 446.3,199.1 446.7,199.0 447.0,198.8 447.3,198.7 447.6,198.6 447.9,198.4 448.2,198.3 448.5,198.1 448.8,197.9 449.1,197.7 449.4,197.5 449.8,197.3 450.1,197.1 450.4,196.9 450.7,196.6 451.0,196.4 451.3,196.1 451.6,195.8 451.9,195.5 452.2,195.2 452.6,194.9 452.9,194.5 453.2,194.2 453.5,193.8 453.8,193.4 454.1,193.0 454.4,192.6 454.7,192.1 455.0,191.7 455.4,191.2 455.7,190.7 456.0,190.2 456.3,189.7 456.6,189.1 456.9,188.6 457.2,188.0 457.5,187.4 457.8,186.8 458.2,186.2 458.5,185.5 458.8,184.9 459.1,184.2 459.4,183.5 459.7,182.8 460.0,182.1 460.3,181.3 460.6,180.6 461.0,179.8 461.3,179.1 461.6,178.3 461.9,177.5 462.2,176.7 462.5,175.9 462.8,175.1 463.1,174.2 463.4,173.4 463.7,172.6 464.1,171.7 464.4,170.9 464.7,170.1 465.0,169.2 465.3,168.4 465.6,167.6 465.9,166.7 466.2,165.9 466.5,165.1 466.9,164.3 467.2,163.5 467.5,162.8 467.8,162.0 468.1,161.3 468.4,160.5 468.7,159.8 469.0,159.1 469.3,158.5 469.7,157.8 470.0,157.2 470.3,156.6 470.6,156.1 470.9,155.5 471.2,155.0 471.5,154.6 471.8,154.1 472.1,153.7 472.5,153.4 472.8,153.0 473.1,152.7 473.4,152.4 473.7,152.2 474.0,152.0 474.3,151.9 474.6,151.7 474.9,151.7 475.3,151.6 475.6,151.6 475.9,151.7 476.2,151.7 476.5,151.9 476.8,152.0 477.1,152.2 477.4,152.4 477.7,152.7 478.0,153.0 478.4,153.4 478.7,153.7 479.0,154.1 479.3,154.6 479.6,155.0 479.9,155.5 480.2,156.1 480.5,156.6 480.8,157.2 481.2,157.8 481.5,158.5 481.8,159.1 482.1,159.8 482.4,160.5 482.7,161.3 483.0,162.0 483.3,162.8 483.6,163.5 484.0,164.3 484.3,165.1 484.6,165.9 484.9,166.7 485.2,167.6 485.5,168.4 485.8,169.2 486.1,170.1 486.4,170.9 486.8,171.7 487.1,172.6 487.4,173.4 487.7,174.2 488.0,175.1 488.3,175.9 488.6,176.7 488.9,177.5 489.2,178.3 489.6,179.1 489.9,179.8 490.2,180.6 490.5,181.3 490.8,182.1 491.1,182.8 491.4,183.5 491.7,184.2 492.0,184.9 492.3,185.5 492.7,186.2 493.0,186.8 493.3,187.4 493.6,188.0 493.9,188.6 494.2,189.1 494.5,189.7 494.8,190.2 495.1,190.7 495.5,191.2 495.8,191.7 496.1,192.1 496.4,192.6 496.7,193.0 497.0,193.4 497.3,193.8 497.6,194.2 497.9,194.5 498.3,194.9 498.6,195.2 498.9,195.5 499.2,195.8 499.5,196.1 499.8,196.4 500.1,196.6 500.4,196.9 500.7,197.1 501.1,197.3 501.4,197.5 501.7,197.7 502.0,197.9 502.3,198.1 502.6,198.3 502.9,198.4 503.2,198.6 503.5,198.7 503.9,198.8 504.2,199.0 504.5,199.1 504.8,199.2 505.1,199.3 505.4,199.4 505.7,199.5 506.0,199.6 506.3,199.6 506.6,199.7 507.0,199.8 507.3,199.8 507.6,199.9 507.9,200.0 508.2,200.0 508.5,200.1 508.8,200.1 509.1,200.1 509.4,200.2 509.8,200.2 510.1,200.2 510.4,200.3 510.7,200.3 511.0,200.3 511.3,200.4 511.6,200.4 511.9,200.4 512.2,200.4 512.6,200.4 512.9,200.4 513.2,200.5 513.5,200.5 513.8,200.5 514.1,200.5 514.4,200.5 514.7,200.5 515.0,200.5 515.4,200.5 515.7,200.5 516.0,200.5 516.3,200.5 516.6,200.6 516.9,200.6 517.2,200.6 517.5,200.6 517.8,200.6 518.2,200.6 518.5,200.6 518.8,200.6 519.1,200.6 519.4,200.6 519.7,200.6 520.0,200.6 520.3,200.6 520.6,200.6 521.0,200.6 521.3,200.6 521.6,200.6 521.9,200.6 522.2,200.6 522.5,200.6 522.8,200.6 523.1,200.6 523.4,200.6 523.7,200.6 524.1,200.6 524.4,200.6 524.7,200.6 525.0,200.6 525.3,200.6 525.6,200.6 525.9,200.6 526.2,200.6 526.5,200.6 526.9,200.6 527.2,200.6 527.5,200.6 527.8,200.6 528.1,200.6 528.4,200.6 528.7,200.6 529.0,200.6 529.3,200.6 529.7,200.6 530.0,200.6 530.3,200.6 530.6,200.6 530.9,200.6 531.2,200.6 531.5,200.6 531.8,200.6 532.1,200.6 532.5,200.6 532.8,200.6 533.1,200.6 533.4,200.6 533.7,200.6 534.0,200.6 534.3,200.6 534.6,200.6 534.9,200.6 535.3,200.6 535.6,200.6 535.9,200.6 536.2,200.6 536.5,200.6 536.8,200.6 537.1,200.6 537.4,200.6 537.7,200.6 538.0,200.6 538.4,200.6 538.7,200.6 539.0,200.6 539.3,200.6 539.6,200.6 539.9,200.6 540.2,200.6 540.5,200.6 540.8,200.6 541.2,200.6 541.5,200.6 541.8,200.6 542.1,200.6 542.4,200.6 542.7,200.6 543.0,200.6 543.3,200.6 543.6,200.6 544.0,200.6 544.3,200.6 544.6,200.6 544.9,200.6 545.2,200.6 545.5,200.6 545.8,200.6 546.1,200.6 546.4,200.6 546.8,200.6 547.1,200.6 547.4,200.6 547.7,200.6 548.0,200.6 548.3,200.6 548.6,200.6 548.9,200.6 549.2,200.6 549.6,200.6 549.9,200.6 550.2,200.6 550.5,200.6 550.8,200.6 551.1,200.6 551.4,200.6 551.7,200.6 552.0,200.6 552.3,200.6 552.7,200.6 553.0,200.6 553.3,200.6 553.6,200.6 553.9,200.6 554.2,200.6 554.5,200.6 554.8,200.6 555.1,200.6 555.5,200.6 555.8,200.6 556.1,200.6 556.4,200.6 556.7,200.6 557.0,200.6 557.3,200.6 557.6,200.6 557.9,200.6 558.3,200.6 558.6,200.6 558.9,200.6 559.2,200.6 559.5,200.6 559.8,200.6 560.1,200.6 560.4,200.6 560.7,200.6 561.1,200.6 561.4,200.6 561.7,200.6 562.0,200.6 562.3,200.6 562.6,200.6 562.9,200.6 563.2,200.6 563.5,200.6 563.9,200.6 564.2,200.6 564.5,200.6 564.8,200.6 565.1,200.6 565.4,200.6 565.7,200.6 566.0,200.6 566.3,200.6 566.6,200.6 567.0,200.6 567.3,200.6 567.6,200.6 567.9,200.6 568.2,200.6 568.5,200.6 568.8,200.6 569.1,200.6 569.4,200.6 569.8,200.6 570.1,200.6 570.4,200.6 570.7,200.6 571.0,200.6 571.3,200.6 571.6,200.6 571.9,200.6 572.2,200.6 572.6,200.6 572.9,200.6 573.2,200.6 573.5,200.6 573.8,200.6 574.1,200.6 574.4,200.6 574.7,200.6 575.0,200.6 575.4,200.6 575.7,200.6 576.0,200.6 576.3,200.6 576.6,200.6 576.9,200.6 577.2,200.6 577.5,200.6 577.8,200.6 578.2,200.6 578.5,200.6 578.8,200.6 579.1,200.6 579.4,200.6 579.7,200.6 580.0,200.6 580.3,200.6 580.6,200.6 580.9,200.6 581.3,200.6 581.6,200.6 581.9,200.6 582.2,200.6 582.5,200.6 582.8,200.6 583.1,200.6 583.4,200.6 583.7,200.6 584.1,200.6 584.4,200.6 584.7,200.6 585.0,200.6 585.3,200.6 585.6,200.6 585.9,200.6 586.2,200.6 586.5,200.6 586.9,200.6 587.2,200.6 587.5,200.6 587.8,200.6 588.1,200.6 588.4,200.6 588.7,200.6 589.0,200.6 589.3,200.6 589.7,200.6 590.0,200.6 590.3,200.6 590.6,200.6 590.9,200.6 591.2,200.6 591.5,200.6 591.8,200.6 592.1,200.6 592.5,200.6 592.8,200.6 593.1,200.6 593.4,200.6 593.7,200.6 594.0,200.6 594.3,200.6 594.6,200.6 594.9,200.6 595.2,200.6 595.6,200.6 595.9,200.6 596.2,200.6 596.5,200.6 596.8,200.6 597.1,200.6 597.4,200.6 597.7,200.6 598.0,200.6 598.4,200.6 598.7,200.6 599.0,200.6 599.3,200.6 599.6,200.6 599.9,200.6 600.2,200.6 600.5,200.6 600.8,200.6 601.2,200.6 601.5,200.6 601.8,200.6 602.1,200.6 602.4,200.6 602.7,200.6 603.0,200.6 603.3,200.6 603.6,200.6 604.0,200.6 604.3,200.6 604.6,200.6 604.9,200.6 605.2,200.6 605.5,200.6 605.8,200.6 606.1,200.6 606.4,200.6 606.8,200.6 607.1,200.6 607.4,200.6 607.7,200.6 608.0,200.6 608.3,200.6 608.6,200.6 608.9,200.6 609.2,200.6 609.5,200.6 609.9,200.6 610.2,200.6 610.5,200.6 610.8,200.6 611.1,200.6 611.4,200.6 611.7,200.6 612.0,200.6 612.3,200.6 612.7,200.6 613.0,200.6 613.3,200.6 613.6,200.6 613.9,200.6 614.2,200.6 614.5,200.6 614.8,200.6 615.1,200.6 615.5,200.6 615.8,200.6 616.1,200.6 616.4,200.6 616.7,200.6 617.0,200.6 617.3,200.6 617.6,200.6 617.9,200.6 618.3,200.6 618.6,200.6 618.9,200.6 619.2,200.6 619.5,200.6 619.8,200.6 620.1,200.6 620.4,200.6 620.7,200.6 621.1,200.6 621.4,200.6 621.7,200.6 622.0,200.6 622.3,200.6 622.6,200.6 622.9,200.6 623.2,200.6 623.5,200.6 623.8,200.6 624.2,200.6 624.5,200.6 624.8,200.6 625.1,200.6 625.4,200.6 625.7,200.6 626.0,200.6 626.3,200.6 626.6,200.6 627.0,200.6 627.3,200.6 627.6,200.6 627.9,200.6 628.2,200.6 628.5,200.6 628.8,200.6 629.1,200.6 629.4,200.6 629.8,200.6 630.1,200.6 630.4,200.6 630.7,200.6 631.0,200.6 631.3,200.6 631.6,200.6 631.9,200.6 632.2,200.6 632.6,200.6 632.9,200.6 633.2,200.6 633.5,200.6 633.8,200.6 634.1,200.6 634.4,200.6 634.7,200.6 635.0,200.6 635.4,200.6 635.7,200.6 636.0,200.6 636.3,200.6 636.6,200.6 636.9,200.6 637.2,200.6 637.5,200.6 637.8,200.6 638.1,200.6 638.5,200.6 638.8,200.6 639.1,200.6 639.4,200.6 639.7,200.6 640.0,200.6 640.3,200.6 640.6,200.6 640.9,200.6 641.3,200.6 641.6,200.6 641.9,200.6 642.2,200.6 642.5,200.6 642.8,200.6 643.1,200.6 643.4,200.6 643.7,200.6 644.1,200.6 644.4,200.6 644.7,200.6 645.0,200.6 645.3,200.6" fill="none" stroke="#3db54a" stroke-width="2.0" stroke-linejoin="round"/>
<polyline points="396.6,124.9 396.8,124.9 396.9,124.9 397.1,124.9 397.2,124.9 397.4,124.9 397.5,124.9 397.7,124.9 397.8,124.9 398.0,124.9 398.2,124.9 398.3,124.9 398.5,124.9 398.6,124.9 398.8,124.9 398.9,124.9 399.1,124.9 399.2,124.9 399.4,124.9 399.6,124.9 399.7,124.9 399.9,124.9 400.0,124.9 400.2,124.9 400.3,124.9 400.5,124.9 400.6,124.9 400.8,124.9 401.0,124.9 401.1,124.9 401.3,124.9 401.4,124.9 401.6,124.9 401.7,124.9 401.9,124.9 402.0,124.9 402.2,124.9 402.4,124.9 402.5,124.9 402.7,124.9 402.8,124.9 403.0,124.9 403.1,124.9 403.3,124.9 403.4,124.9 403.6,124.9 403.8,124.9 403.9,124.9 404.1,124.9 404.2,124.9 404.4,124.9 404.5,124.9 404.7,124.9 404.8,124.9 405.0,124.9 405.1,124.9 405.3,124.9 405.5,124.9 405.6,124.9 405.8,124.9 405.9,124.9 406.1,124.9 406.2,124.9 406.4,124.9 406.5,124.9 406.7,124.9 406.9,124.9 407.0,124.9 407.2,124.9 407.3,124.9 407.5,124.9 407.6,124.9 407.8,124.9 407.9,124.9 408.1,124.9 408.3,124.9 408.4,124.9 408.6,124.9 408.7,124.9 408.9,124.9 409.0,124.9 409.2,124.9 409.3,124.9 409.5,124.9 409.7,124.9 409.8,124.9 410.0,124.9 410.1,124.9 410.3,124.9 410.4,124.9 410.6,124.9 410.7,124.9 410.9,124.9 411.1,124.9 411.2,124.9 411.4,124.9 411.5,124.9 411.7,124.9 411.8,124.9 412.0,124.9 412.1,124.9 412.3,124.9 412.5,124.9 412.6,124.9 412.8,124.9 412.9,124.9 413.1,124.9 413.2,124.9 413.4,124.9 413.5,124.9 413.7,124.9 413.9,124.9 414.0,124.9 414.2,124.9 414.3,124.9 414.5,124.9 414.6,124.9 414.8,124.9 414.9,124.9 415.1,124.9 415.3,124.9 415.4,124.9 415.6,124.9 415.7,124.9 415.9,124.9 416.0,124.9 416.2,124.9 416.3,124.9 416.5,124.9 416.7,124.9 416.8,124.9 417.0,124.9 417.1,124.9 417.3,124.9 417.4,124.9 417.6,124.9 417.7,124.9 417.9,124.9 418.1,124.9 418.2,124.9 418.4,124.9 418.5,124.9 418.7,124.9 418.8,124.9 419.0,124.9 419.1,124.9 419.3,124.9 419.4,124.9 419.6,124.9 419.8,124.9 419.9,124.9 420.1,124.9 420.2,124.9 420.4,124.9 420.5,124.9 420.7,124.9 420.8,124.9 421.0,124.9 421.2,124.9 421.3,124.9 421.5,124.9 421.6,124.9 421.8,124.9 421.9,124.9 422.1,124.9 422.2,124.9 422.4,124.9 422.6,124.9 422.7,124.9 422.9,124.9 423.0,124.9 423.2,124.9 423.3,124.9 423.5,124.9 423.6,124.9 423.8,124.9 424.0,124.9 424.1,124.9 424.3,124.9 424.4,124.9 424.6,124.9 424.7,124.9 424.9,124.9 425.0,124.9 425.2,124.9 425.4,124.9 425.5,124.9 425.7,124.9 425.8,124.9 426.0,124.9 426.1,124.9 426.3,124.9 426.4,124.9 426.6,124.9 426.8,124.9 426.9,124.9 427.1,124.9 427.2,124.9 427.4,124.9 427.5,124.9 427.7,124.9 427.8,124.9 428.0,124.9 428.2,124.9 428.3,124.9 428.5,124.9 428.6,124.9 428.8,124.9 428.9,124.9 429.1,124.9 429.2,124.9 429.4,124.9 429.6,124.9 429.7,124.9 429.9,124.9 430.0,124.9 430.2,124.9 430.3,124.9 430.5,124.9 430.6,124.9 430.8,124.9 431.0,124.9 431.1,124.9 431.3,124.9 431.4,124.9 431.6,124.9 431.7,124.9 431.9,124.9 432.0,124.9 432.2,124.9 432.4,124.9 432.5,124.9 432.7,124.9 432.8,124.9 433.0,124.9 433.1,124.9 433.3,124.9 433.4,124.9 433.6,124.9 433.7,124.9 433.9,124.9 434.1,124.9 434.2,124.9 434.4,124.9 434.5,124.9 434.7,124.9 434.8,124.9 435.0,124.9 435.1,124.9 435.3,124.9 435.5,124.9 435.6,124.9 435.8,124.9 435.9,124.9 436.1,124.9 436.2,124.9 436.4,124.9 436.5,124.9 436.7,124.9 436.9,124.9 437.0,124.9 437.2,124.9 437.3,124.9 437.5,124.9 437.6,124.9 437.8,124.9 437.9,124.9 438.1,124.9 438.3,124.9 438.4,124.9 438.6,124.9 438.7,124.9 438.9,124.9 439.0,124.9 439.2,124.9 439.3,124.9 439.5,124.9 439.7,124.9 439.8,124.9 440.0,124.9 440.1,124.9 440.3,124.9 440.4,124.9 440.6,124.9 440.7,124.9 440.9,124.9 441.1,124.9 441.2,124.9 441.4,124.9 441.5,124.9 441.7,124.9 441.8,124.9 442.0,124.9 442.1,124.9 442.3,124.9 442.5,124.9 442.6,124.9 442.8,124.9 442.9,124.9 443.1,124.9 443.2,124.9 443.4,124.9 443.5,124.9 443.7,124.9 443.9,124.9 444.0,124.9 444.2,124.9 444.3,124.9 444.5,124.9 444.6,124.9 444.8,124.9 444.9,124.9 445.1,124.9 445.3,124.9 445.4,124.9 445.6,124.9 445.7,124.9 445.9,124.9 446.0,124.9 446.2,124.9 446.3,124.9 446.5,124.9 446.7,124.9 446.8,124.9 447.0,124.9 447.1,124.9 447.3,124.9 447.4,124.9 447.6,124.9 447.7,124.9 447.9,124.9 448.0,125.0 448.2,125.0 448.4,125.0 448.5,125.0 448.7,125.0 448.8,125.0 449.0,125.0 449.1,125.0 449.3,125.0 449.4,125.0 449.6,125.0 449.8,125.0 449.9,125.0 450.1,125.0 450.2,125.0 450.4,125.0 450.5,125.1 450.7,125.1 450.8,125.1 451.0,125.1 451.2,125.1 451.3,125.1 451.5,125.1 451.6,125.1 451.8,125.1 451.9,125.1 452.1,125.1 452.2,125.2 452.4,125.2 452.6,125.2 452.7,125.3 452.9,125.3 453.0,125.3 453.2,125.4 453.3,125.5 453.5,125.5 453.6,125.6 453.8,125.6 454.0,125.7 454.1,125.8 454.3,125.9 454.4,125.9 454.6,126.0 454.7,126.1 454.9,126.2 455.0,126.3 455.2,126.3 455.4,126.4 455.5,126.5 455.7,126.6 455.8,126.7 456.0,126.8 456.1,126.8 456.3,126.9 456.4,127.0 456.6,127.1 456.8,127.2 456.9,127.3 457.1,127.4 457.2,127.5 457.4,127.6 457.5,127.7 457.7,127.8 457.8,127.9 458.0,128.0 458.2,128.2 458.3,128.3 458.5,128.4 458.6,128.6 458.8,128.7 458.9,128.8 459.1,129.0 459.2,129.1 459.4,129.3 459.6,129.5 459.7,129.6 459.9,129.8 460.0,130.0 460.2,130.2 460.3,130.4 460.5,130.7 460.6,130.9 460.8,131.2 461.0,131.4 461.1,131.7 461.3,132.0 461.4,132.4 461.6,132.7 461.7,133.1 461.9,133.4 462.0,133.8 462.2,134.2 462.4,134.7 462.5,135.1 462.7,135.6 462.8,136.0 463.0,136.5 463.1,137.0 463.3,137.5 463.4,138.0 463.6,138.6 463.7,139.1 463.9,139.7 464.1,140.3 464.2,140.9 464.4,141.6 464.5,142.5 464.7,143.3 464.8,144.3 465.0,145.3 465.1,146.4 465.3,147.5 465.5,148.7 465.6,149.8 465.8,151.0 465.9,152.2 466.1,153.4 466.2,154.6 466.4,155.8 466.5,157.0 466.7,158.1 466.9,159.2 467.0,160.3 467.2,161.3 467.3,162.3 467.5,163.4 467.6,164.4 467.8,165.4 467.9,166.4 468.1,167.4 468.3,168.4 468.4,169.4 468.6,170.4 468.7,171.4 468.9,172.4 469.0,173.3 469.2,174.3 469.3,175.3 469.5,176.3 469.7,177.3 469.8,178.3 470.0,179.3 470.1,180.3 470.3,181.4 470.4,182.6 470.6,183.8 470.7,185.1 470.9,186.4 471.1,187.8 471.2,189.1 471.4,190.4 471.5,191.6 471.7,192.8 471.8,193.8 472.0,194.7 472.1,195.4 472.3,196.0 472.5,196.3 472.6,196.4 472.8,196.4 472.9,196.2 473.1,195.8 473.2,195.3 473.4,194.7 473.5,194.0 473.7,193.2 473.9,192.2 474.0,191.2 474.2,190.1 474.3,188.9 474.5,187.6 474.6,186.2 474.8,184.8 474.9,183.4 475.1,181.9 475.3,180.3 475.4,178.5 475.6,176.0 475.7,173.1 475.9,169.7 476.0,165.9 476.2,161.9 476.3,157.5 476.5,153.0 476.7,148.4 476.8,143.7 477.0,139.1 477.1,134.5 477.3,130.0 477.4,125.6 477.6,121.0 477.7,116.4 477.9,111.5 478.0,106.6 478.2,101.4 478.4,96.2 478.5,90.7 478.7,84.8 478.8,78.3 479.0,71.6 479.1,64.9 479.3,58.5 479.4,52.8 479.6,47.5 479.8,42.2 479.9,37.0 480.1,32.2 480.2,27.8 480.4,24.1 480.5,21.1 480.7,18.5 480.8,15.9 481.0,13.5 481.2,11.3 481.3,9.3 481.5,7.6 481.6,6.3 481.8,5.5 481.9,5.2 482.1,5.5 482.2,6.3 482.4,7.6 482.6,9.3 482.7,11.3 482.9,13.5 483.0,15.9 483.2,18.5 483.3,21.1 483.5,24.1 483.6,28.0 483.8,32.5 484.0,37.4 484.1,42.6 484.3,47.8 484.4,52.8 484.6,57.9 484.7,63.2 484.9,68.6 485.0,74.1 485.2,79.4 485.4,84.6 485.5,89.7 485.7,94.9 485.8,100.1 486.0,105.2 486.1,109.9 486.3,114.0 486.4,117.6 486.6,120.6 486.8,123.5 486.9,126.1 487.1,128.7 487.2,131.1 487.4,133.3 487.5,135.4 487.7,137.4 487.8,139.3 488.0,141.1 488.2,142.8 488.3,144.4 488.5,146.0 488.6,147.4 488.8,148.7 488.9,150.0 489.1,151.1 489.2,152.3 489.4,153.4 489.6,154.5 489.7,155.6 489.9,156.7 490.0,157.9 490.2,159.0 490.3,160.3 490.5,161.6 490.6,163.1 490.8,164.5 491.0,166.1 491.1,167.7 491.3,169.3 491.4,170.9 491.6,172.5 491.7,174.2 491.9,175.7 492.0,177.3 492.2,178.8 492.3,180.2 492.5,181.5 492.7,182.8 492.8,183.9 493.0,184.9 493.1,185.7 493.3,186.4 493.4,187.0 493.6,187.7 493.7,188.3 493.9,188.8 494.1,189.4 494.2,190.0 494.4,190.5 494.5,191.1 494.7,191.6 494.8,192.1 495.0,192.6 495.1,193.0 495.3,193.5 495.5,193.9 495.6,194.3 495.8,194.6 495.9,194.9 496.1,195.2 496.2,195.5 496.4,195.8 496.5,196.0 496.7,196.1 496.9,196.3 497.0,196.4 497.2,196.4 497.3,196.4 497.5,196.4 497.6,196.4 497.8,196.4 497.9,196.3 498.1,196.2 498.3,196.1 498.4,196.0 498.6,195.8 498.7,195.7 498.9,195.5 499.0,195.3 499.2,195.1 499.3,194.9 499.5,194.7 499.7,194.5 499.8,194.3 500.0,194.0 500.1,193.8 500.3,193.6 500.4,193.3 500.6,193.1 500.7,192.8 500.9,192.5 501.1,192.3 501.2,192.0 501.4,191.8 501.5,191.5 501.7,191.3 501.8,191.0 502.0,190.8 502.1,190.6 502.3,190.3 502.5,190.1 502.6,189.9 502.8,189.7 502.9,189.4 503.1,189.2 503.2,188.9 503.4,188.7 503.5,188.4 503.7,188.2 503.9,187.9 504.0,187.6 504.2,187.4 504.3,187.1 504.5,186.8 504.6,186.5 504.8,186.3 504.9,186.0 505.1,185.7 505.3,185.4 505.4,185.1 505.6,184.8 505.7,184.5 505.9,184.2 506.0,183.9 506.2,183.7 506.3,183.4 506.5,183.1 506.6,182.8 506.8,182.5 507.0,182.2 507.1,181.9 507.3,181.6 507.4,181.3 507.6,181.0 507.7,180.7 507.9,180.4 508.0,180.2 508.2,179.9 508.4,179.6 508.5,179.3 508.7,179.0 508.8,178.7 509.0,178.5 509.1,178.2 509.3,177.9 509.4,177.7 509.6,177.4 509.8,177.2 509.9,176.9 510.1,176.7 510.2,176.4 510.4,176.2 510.5,175.9 510.7,175.7 510.8,175.5 511.0,175.2 511.2,175.0 511.3,174.8 511.5,174.5 511.6,174.3 511.8,174.1 511.9,173.9 512.1,173.6 512.2,173.4 512.4,173.2 512.6,173.0 512.7,172.7 512.9,172.5 513.0,172.3 513.2,172.1 513.3,171.9 513.5,171.6 513.6,171.4 513.8,171.2 514.0,171.0 514.1,170.8 514.3,170.6 514.4,170.3 514.6,170.1 514.7,169.9 514.9,169.7 515.0,169.5 515.2,169.3 515.4,169.1 515.5,168.9 515.7,168.7 515.8,168.5 516.0,168.3 516.1,168.1 516.3,167.9 516.4,167.7 516.6,167.5 516.8,167.3 516.9,167.1 517.1,166.9 517.2,166.7 517.4,166.5 517.5,166.3 517.7,166.1 517.8,165.9 518.0,165.7 518.2,165.5 518.3,165.3 518.5,165.1 518.6,164.9 518.8,164.7 518.9,164.5 519.1,164.4 519.2,164.2 519.4,164.0 519.6,163.8 519.7,163.6 519.9,163.4 520.0,163.2 520.2,163.0 520.3,162.9 520.5,162.7 520.6,162.5 520.8,162.3 521.0,162.1 521.1,161.9 521.3,161.8 521.4,161.6 521.6,161.4 521.7,161.2 521.9,161.0 522.0,160.9 522.2,160.7 522.3,160.5 522.5,160.3 522.7,160.2 522.8,160.0 523.0,159.8 523.1,159.6 523.3,159.5 523.4,159.3 523.6,159.1 523.7,158.9 523.9,158.8 524.1,158.6 524.2,158.4 524.4,158.3 524.5,158.1 524.7,157.9 524.8,157.8 525.0,157.6 525.1,157.5 525.3,157.3 525.5,157.1 525.6,157.0 525.8,156.8 525.9,156.7 526.1,156.5 526.2,156.4 526.4,156.2 526.5,156.0 526.7,155.9 526.9,155.7 527.0,155.6 527.2,155.5 527.3,155.3 527.5,155.2 527.6,155.0 527.8,154.9 527.9,154.7 528.1,154.6 528.3,154.5 528.4,154.3 528.6,154.2 528.7,154.0 528.9,153.9 529.0,153.7 529.2,153.6 529.3,153.5 529.5,153.3 529.7,153.2 529.8,153.0 530.0,152.9 530.1,152.8 530.3,152.6 530.4,152.5 530.6,152.3 530.7,152.2 530.9,152.0 531.1,151.9 531.2,151.8 531.4,151.6 531.5,151.5 531.7,151.3 531.8,151.2 532.0,151.1 532.1,150.9 532.3,150.8 532.5,150.6 532.6,150.5 532.8,150.4 532.9,150.2 533.1,150.1 533.2,150.0 533.4,149.8 533.5,149.7 533.7,149.5 533.9,149.4 534.0,149.3 534.2,149.1 534.3,149.0 534.5,148.9 534.6,148.7 534.8,148.6 534.9,148.5 535.1,148.3 535.3,148.2 535.4,148.0 535.6,147.9 535.7,147.8 535.9,147.6 536.0,147.5 536.2,147.4 536.3,147.2 536.5,147.1 536.6,147.0 536.8,146.9 537.0,146.7 537.1,146.6 537.3,146.5 537.4,146.3 537.6,146.2 537.7,146.1 537.9,145.9 538.0,145.8 538.2,145.7 538.4,145.6 538.5,145.4 538.7,145.3 538.8,145.2 539.0,145.1 539.1,144.9 539.3,144.8 539.4,144.7 539.6,144.6 539.8,144.4 539.9,144.3 540.1,144.2 540.2,144.1 540.4,143.9 540.5,143.8 540.7,143.7 540.8,143.6 541.0,143.5 541.2,143.3 541.3,143.2 541.5,143.1 541.6,143.0 541.8,142.9 541.9,142.8 542.1,142.6 542.2,142.5 542.4,142.4 542.6,142.3 542.7,142.2 542.9,142.1 543.0,142.0 543.2,141.8 543.3,141.7 543.5,141.6 543.6,141.5 543.8,141.4 544.0,141.3 544.1,141.2 544.3,141.1 544.4,141.0 544.6,140.9 544.7,140.8 544.9,140.7 545.0,140.6 545.2,140.4 545.4,140.3 545.5,140.2 545.7,140.1 545.8,140.0 546.0,139.9 546.1,139.8 546.3,139.7 546.4,139.6 546.6,139.6 546.8,139.5 546.9,139.4 547.1,139.3 547.2,139.2 547.4,139.1 547.5,139.0 547.7,138.9 547.8,138.8 548.0,138.7 548.2,138.6 548.3,138.5 548.5,138.4 548.6,138.4 548.8,138.3 548.9,138.2 549.1,138.1 549.2,138.0 549.4,137.9 549.6,137.9 549.7,137.8 549.9,137.7 550.0,137.6 550.2,137.5 550.3,137.5 550.5,137.4 550.6,137.3 550.8,137.2 550.9,137.2 551.1,137.1 551.3,137.0 551.4,136.9 551.6,136.9 551.7,136.8 551.9,136.7 552.0,136.7 552.2,136.6 552.3,136.5 552.5,136.5 552.7,136.4 552.8,136.3 553.0,136.3 553.1,136.2 553.3,136.2 553.4,136.1 553.6,136.0 553.7,136.0 553.9,135.9 554.1,135.8 554.2,135.8 554.4,135.7 554.5,135.6 554.7,135.6 554.8,135.5 555.0,135.5 555.1,135.4 555.3,135.3 555.5,135.3 555.6,135.2 555.8,135.2 555.9,135.1 556.1,135.0 556.2,135.0 556.4,134.9 556.5,134.9 556.7,134.8 556.9,134.7 557.0,134.7 557.2,134.6 557.3,134.6 557.5,134.5 557.6,134.5 557.8,134.4 557.9,134.4 558.1,134.3 558.3,134.2 558.4,134.2 558.6,134.1 558.7,134.1 558.9,134.0 559.0,134.0 559.2,133.9 559.3,133.9 559.5,133.8 559.7,133.7 559.8,133.7 560.0,133.6 560.1,133.6 560.3,133.5 560.4,133.5 560.6,133.4 560.7,133.4 560.9,133.3 561.1,133.3 561.2,133.2 561.4,133.2 561.5,133.1 561.7,133.1 561.8,133.0 562.0,133.0 562.1,132.9 562.3,132.9 562.5,132.8 562.6,132.8 562.8,132.7 562.9,132.7 563.1,132.6 563.2,132.6 563.4,132.5 563.5,132.5 563.7,132.4 563.9,132.4 564.0,132.3 564.2,132.3 564.3,132.3 564.5,132.2 564.6,132.2 564.8,132.1 564.9,132.1 565.1,132.0 565.2,132.0 565.4,131.9 565.6,131.9 565.7,131.9 565.9,131.8 566.0,131.8 566.2,131.7 566.3,131.7 566.5,131.6 566.6,131.6 566.8,131.6 567.0,131.5 567.1,131.5 567.3,131.4 567.4,131.4 567.6,131.3 567.7,131.3 567.9,131.3 568.0,131.2 568.2,131.2 568.4,131.1 568.5,131.1 568.7,131.1 568.8,131.0 569.0,131.0 569.1,130.9 569.3,130.9 569.4,130.9 569.6,130.8 569.8,130.8 569.9,130.8 570.1,130.7 570.2,130.7 570.4,130.6 570.5,130.6 570.7,130.6 570.8,130.5 571.0,130.5 571.2,130.5 571.3,130.4 571.5,130.4 571.6,130.4 571.8,130.3 571.9,130.3 572.1,130.3 572.2,130.2 572.4,130.2 572.6,130.2 572.7,130.1 572.9,130.1 573.0,130.1 573.2,130.0 573.3,130.0 573.5,130.0 573.6,129.9 573.8,129.9 574.0,129.9 574.1,129.8 574.3,129.8 574.4,129.8 574.6,129.7 574.7,129.7 574.9,129.7 575.0,129.6 575.2,129.6 575.4,129.6 575.5,129.6 575.7,129.5 575.8,129.5 576.0,129.5 576.1,129.4 576.3,129.4 576.4,129.4 576.6,129.4 576.8,129.3 576.9,129.3 577.1,129.3 577.2,129.3 577.4,129.2 577.5,129.2 577.7,129.2 577.8,129.1 578.0,129.1 578.2,129.1 578.3,129.1 578.5,129.0 578.6,129.0 578.8,129.0 578.9,129.0 579.1,128.9 579.2,128.9 579.4,128.9 579.5,128.9 579.7,128.8 579.9,128.8 580.0,128.8 580.2,128.8 580.3,128.7 580.5,128.7 580.6,128.7 580.8,128.7 580.9,128.6 581.1,128.6 581.3,128.6 581.4,128.6 581.6,128.5 581.7,128.5 581.9,128.5 582.0,128.5 582.2,128.4 582.3,128.4 582.5,128.4 582.7,128.4 582.8,128.4 583.0,128.3 583.1,128.3 583.3,128.3 583.4,128.3 583.6,128.2 583.7,128.2 583.9,128.2 584.1,128.2 584.2,128.1 584.4,128.1 584.5,128.1 584.7,128.1 584.8,128.1 585.0,128.0 585.1,128.0 585.3,128.0 585.5,128.0 585.6,128.0 585.8,127.9 585.9,127.9 586.1,127.9 586.2,127.9 586.4,127.8 586.5,127.8 586.7,127.8 586.9,127.8 587.0,127.8 587.2,127.7 587.3,127.7 587.5,127.7 587.6,127.7 587.8,127.7 587.9,127.6 588.1,127.6 588.3,127.6 588.4,127.6 588.6,127.6 588.7,127.6 588.9,127.5 589.0,127.5 589.2,127.5 589.3,127.5 589.5,127.5 589.7,127.4 589.8,127.4 590.0,127.4 590.1,127.4 590.3,127.4 590.4,127.3 590.6,127.3 590.7,127.3 590.9,127.3 591.1,127.3 591.2,127.3 591.4,127.2 591.5,127.2 591.7,127.2 591.8,127.2 592.0,127.2 592.1,127.2 592.3,127.1 592.5,127.1 592.6,127.1 592.8,127.1 592.9,127.1 593.1,127.1 593.2,127.1 593.4,127.0 593.5,127.0 593.7,127.0 593.9,127.0 594.0,127.0 594.2,127.0 594.3,126.9 594.5,126.9 594.6,126.9 594.8,126.9 594.9,126.9 595.1,126.9 595.2,126.9 595.4,126.8 595.6,126.8 595.7,126.8 595.9,126.8 596.0,126.8 596.2,126.8 596.3,126.8 596.5,126.8 596.6,126.7 596.8,126.7 597.0,126.7 597.1,126.7 597.3,126.7 597.4,126.7 597.6,126.7 597.7,126.7 597.9,126.6 598.0,126.6 598.2,126.6 598.4,126.6 598.5,126.6 598.7,126.6 598.8,126.6 599.0,126.6 599.1,126.6 599.3,126.5 599.4,126.5 599.6,126.5 599.8,126.5 599.9,126.5 600.1,126.5 600.2,126.5 600.4,126.5 600.5,126.5 600.7,126.5 600.8,126.4 601.0,126.4 601.2,126.4 601.3,126.4 601.5,126.4 601.6,126.4 601.8,126.4 601.9,126.4 602.1,126.4 602.2,126.3 602.4,126.3 602.6,126.3 602.7,126.3 602.9,126.3 603.0,126.3 603.2,126.3 603.3,126.3 603.5,126.3 603.6,126.2 603.8,126.2 604.0,126.2 604.1,126.2 604.3,126.2 604.4,126.2 604.6,126.2 604.7,126.2 604.9,126.2 605.0,126.2 605.2,126.1 605.4,126.1 605.5,126.1 605.7,126.1 605.8,126.1 606.0,126.1 606.1,126.1 606.3,126.1 606.4,126.1 606.6,126.1 606.8,126.0 606.9,126.0 607.1,126.0 607.2,126.0 607.4,126.0 607.5,126.0 607.7,126.0 607.8,126.0 608.0,126.0 608.2,125.9 608.3,125.9 608.5,125.9 608.6,125.9 608.8,125.9 608.9,125.9 609.1,125.9 609.2,125.9 609.4,125.9 609.5,125.9 609.7,125.8 609.9,125.8 610.0,125.8 610.2,125.8 610.3,125.8 610.5,125.8 610.6,125.8 610.8,125.8 610.9,125.8 611.1,125.8 611.3,125.8 611.4,125.7 611.6,125.7 611.7,125.7 611.9,125.7 612.0,125.7 612.2,125.7 612.3,125.7 612.5,125.7 612.7,125.7 612.8,125.7 613.0,125.7 613.1,125.6 613.3,125.6 613.4,125.6 613.6,125.6 613.7,125.6 613.9,125.6 614.1,125.6 614.2,125.6 614.4,125.6 614.5,125.6 614.7,125.6 614.8,125.5 615.0,125.5 615.1,125.5 615.3,125.5 615.5,125.5 615.6,125.5 615.8,125.5 615.9,125.5 616.1,125.5 616.2,125.5 616.4,125.5 616.5,125.5 616.7,125.4 616.9,125.4 617.0,125.4 617.2,125.4 617.3,125.4 617.5,125.4 617.6,125.4 617.8,125.4 617.9,125.4 618.1,125.4 618.3,125.4 618.4,125.4 618.6,125.3 618.7,125.3 618.9,125.3 619.0,125.3 619.2,125.3 619.3,125.3 619.5,125.3 619.7,125.3 619.8,125.3 620.0,125.3 620.1,125.3 620.3,125.3 620.4,125.3 620.6,125.3 620.7,125.2 620.9,125.2 621.1,125.2 621.2,125.2 621.4,125.2 621.5,125.2 621.7,125.2 621.8,125.2 622.0,125.2 622.1,125.2 622.3,125.2 622.5,125.2 622.6,125.2 622.8,125.2 622.9,125.2 623.1,125.2 623.2,125.1 623.4,125.1 623.5,125.1 623.7,125.1 623.8,125.1 624.0,125.1 624.2,125.1 624.3,125.1 624.5,125.1 624.6,125.1 624.8,125.1 624.9,125.1 625.1,125.1 625.2,125.1 625.4,125.1 625.6,125.1 625.7,125.1 625.9,125.1 626.0,125.0 626.2,125.0 626.3,125.0 626.5,125.0 626.6,125.0 626.8,125.0 627.0,125.0 627.1,125.0 627.3,125.0 627.4,125.0 627.6,125.0 627.7,125.0 627.9,125.0 628.0,125.0 628.2,125.0 628.4,125.0 628.5,125.0 628.7,125.0 628.8,125.0 629.0,125.0 629.1,125.0 629.3,125.0 629.4,125.0 629.6,125.0 629.8,124.9 629.9,124.9 630.1,124.9 630.2,124.9 630.4,124.9 630.5,124.9 630.7,124.9 630.8,124.9 631.0,124.9 631.2,124.9 631.3,124.9 631.5,124.9 631.6,124.9 631.8,124.9 631.9,124.9 632.1,124.9 632.2,124.9 632.4,124.9 632.6,124.9 632.7,124.9 632.9,124.9 633.0,124.9 633.2,124.9 633.3,124.9 633.5,124.9 633.6,124.9 633.8,124.9 634.0,124.9 634.1,124.9 634.3,124.9 634.4,124.9 634.6,124.9 634.7,124.9 634.9,124.9 635.0,124.9 635.2,124.9 635.4,124.9 635.5,124.9 635.7,124.9 635.8,124.9 636.0,124.9" fill="none" stroke="#141414" stroke-width="0.85" stroke-linejoin="round"/>
<text x="394.2" y="205.4" font-size="13.9" text-anchor="end" fill="#141414">0</text>
<text x="394.2" y="181.0" font-size="13.9" text-anchor="end" fill="#141414">0.2</text>
<text x="394.2" y="156.6" font-size="13.9" text-anchor="end" fill="#141414">0.4</text>
<text x="394.2" y="132.1" font-size="13.9" text-anchor="end" fill="#141414">0.6</text>
<text x="394.2" y="107.7" font-size="13.9" text-anchor="end" fill="#141414">0.8</text>
<text x="394.2" y="83.3" font-size="13.9" text-anchor="end" fill="#141414">1</text>
<text x="394.2" y="58.8" font-size="13.9" text-anchor="end" fill="#141414">1.2</text>
<text x="394.2" y="34.4" font-size="13.9" text-anchor="end" fill="#141414">1.4</text>
<text x="394.2" y="10.0" font-size="13.9" text-anchor="end" fill="#141414">1.6</text>
<text x="647.0" y="205.2" font-size="13.9" text-anchor="start" fill="#141414">0</text>
<text x="647.0" y="180.8" font-size="13.9" text-anchor="start" fill="#141414">1</text>
<text x="647.0" y="156.3" font-size="13.9" text-anchor="start" fill="#141414">2</text>
<text x="647.0" y="131.9" font-size="13.9" text-anchor="start" fill="#141414">3</text>
<text x="647.0" y="107.5" font-size="13.9" text-anchor="start" fill="#141414">4</text>
<text x="647.0" y="83.1" font-size="13.9" text-anchor="start" fill="#141414">5</text>
<text x="647.0" y="58.6" font-size="13.9" text-anchor="start" fill="#141414">6</text>
<text x="647.0" y="34.2" font-size="13.9" text-anchor="start" fill="#141414">7</text>
<text x="647.0" y="9.8" font-size="13.9" text-anchor="start" fill="#141414">8</text>
<text x="396.6" y="214.8" font-size="13.9" text-anchor="middle" fill="#141414">0</text>
<text x="474.3" y="214.8" font-size="13.9" text-anchor="middle" fill="#141414">500</text>
<text x="552.0" y="214.8" font-size="13.9" text-anchor="middle" fill="#141414">1000</text>
<text x="629.8" y="214.8" font-size="13.9" text-anchor="middle" fill="#141414">1500</text>
<text x="495.3" y="228.5" font-size="13.3" text-anchor="start" fill="#141414" textLength="50.4" lengthAdjust="spacingAndGlyphs">Time [fs]</text>
<text transform="translate(371.6,148.8) rotate(-90)" font-size="14.2" fill="#141414" textLength="88.8" lengthAdjust="spacingAndGlyphs">Ne [10<tspan font-size="11.0" dy="-6.0">20</tspan><tspan dy="6.0"> cm</tspan><tspan font-size="11.0" dy="-6.0">-3</tspan><tspan dy="6.0">]</tspan></text>
<text transform="translate(668.0,162.6) rotate(-90)" font-size="13.6" fill="#141414" textLength="119.5" lengthAdjust="spacingAndGlyphs">Reflectivity [x 0.01]</text>
<line x1="540.0" y1="35.5" x2="556.0" y2="35.5" stroke="#2349a8" stroke-width="2.0"/>
<line x1="540.0" y1="52.6" x2="556.0" y2="52.6" stroke="#ec2a30" stroke-width="2"  stroke-dasharray="4,2"/>
<line x1="540.0" y1="67.9" x2="556.0" y2="67.9" stroke="#3db54a" stroke-width="2"/>
<line x1="540.0" y1="78.6" x2="556.0" y2="78.6" stroke="#141414" stroke-width="0.9"/>
<text x="558.4" y="37.8" font-size="10" fill="#141414">N<tspan font-size="7.5" dy="3">e</tspan><tspan dy="-3"> (n</tspan><tspan font-size="7.5" dy="3">2</tspan><tspan dy="-3">=0)</tspan></text>
<text x="558.4" y="55.0" font-size="10" fill="#141414">N<tspan font-size="7.5" dy="3">e</tspan><tspan dy="-3"> (n</tspan><tspan font-size="7.5" dy="3">2</tspan><tspan dy="-3">&#8800;0)</tspan></text>
<text x="558.4" y="71.4" font-size="9.9" text-anchor="start" fill="#141414">Laser Intensity</text>
<text x="558.4" y="84.0" font-size="9.9" text-anchor="start" fill="#141414">Reflectivity</text>
<text x="607.2" y="34.6" font-family="Liberation Serif, serif" font-size="22.5" fill="#1a1a1a">(b)</text>
<rect x="41.5" y="251.3" width="246.1" height="187.9" fill="none" stroke="#bcbcbc" stroke-width="1"/>
<line x1="41.5" y1="439.2" x2="41.5" y2="436.7" stroke="#bcbcbc" stroke-width="0.7"/>
<line x1="41.5" y1="251.3" x2="41.5" y2="253.8" stroke="#bcbcbc" stroke-width="0.7"/>
<line x1="51.3" y1="439.2" x2="51.3" y2="437.6" stroke="#bcbcbc" stroke-width="0.7"/>
<line x1="51.3" y1="251.3" x2="51.3" y2="252.9" stroke="#bcbcbc" stroke-width="0.7"/>
<line x1="61.1" y1="439.2" x2="61.1" y2="437.6" stroke="#bcbcbc" stroke-width="0.7"/>
<line x1="61.1" y1="251.3" x2="61.1" y2="252.9" stroke="#bcbcbc" stroke-width="0.7"/>
<line x1="71.0" y1="439.2" x2="71.0" y2="437.6" stroke="#bcbcbc" stroke-width="0.7"/>
<line x1="71.0" y1="251.3" x2="71.0" y2="252.9" stroke="#bcbcbc" stroke-width="0.7"/>
<line x1="80.8" y1="439.2" x2="80.8" y2="437.6" stroke="#bcbcbc" stroke-width="0.7"/>
<line x1="80.8" y1="251.3" x2="80.8" y2="252.9" stroke="#bcbcbc" stroke-width="0.7"/>
<line x1="90.6" y1="439.2" x2="90.6" y2="436.7" stroke="#bcbcbc" stroke-width="0.7"/>
<line x1="90.6" y1="251.3" x2="90.6" y2="253.8" stroke="#bcbcbc" stroke-width="0.7"/>
<line x1="100.4" y1="439.2" x2="100.4" y2="437.6" stroke="#bcbcbc" stroke-width="0.7"/>
<line x1="100.4" y1="251.3" x2="100.4" y2="252.9" stroke="#bcbcbc" stroke-width="0.7"/>
<line x1="110.2" y1="439.2" x2="110.2" y2="437.6" stroke="#bcbcbc" stroke-width="0.7"/>
<line x1="110.2" y1="251.3" x2="110.2" y2="252.9" stroke="#bcbcbc" stroke-width="0.7"/>
<line x1="120.1" y1="439.2" x2="120.1" y2="437.6" stroke="#bcbcbc" stroke-width="0.7"/>
<line x1="120.1" y1="251.3" x2="120.1" y2="252.9" stroke="#bcbcbc" stroke-width="0.7"/>
<line x1="129.9" y1="439.2" x2="129.9" y2="437.6" stroke="#bcbcbc" stroke-width="0.7"/>
<line x1="129.9" y1="251.3" x2="129.9" y2="252.9" stroke="#bcbcbc" stroke-width="0.7"/>
<line x1="139.7" y1="439.2" x2="139.7" y2="436.7" stroke="#bcbcbc" stroke-width="0.7"/>
<line x1="139.7" y1="251.3" x2="139.7" y2="253.8" stroke="#bcbcbc" stroke-width="0.7"/>
<line x1="149.5" y1="439.2" x2="149.5" y2="437.6" stroke="#bcbcbc" stroke-width="0.7"/>
<line x1="149.5" y1="251.3" x2="149.5" y2="252.9" stroke="#bcbcbc" stroke-width="0.7"/>
<line x1="159.3" y1="439.2" x2="159.3" y2="437.6" stroke="#bcbcbc" stroke-width="0.7"/>
<line x1="159.3" y1="251.3" x2="159.3" y2="252.9" stroke="#bcbcbc" stroke-width="0.7"/>
<line x1="169.2" y1="439.2" x2="169.2" y2="437.6" stroke="#bcbcbc" stroke-width="0.7"/>
<line x1="169.2" y1="251.3" x2="169.2" y2="252.9" stroke="#bcbcbc" stroke-width="0.7"/>
<line x1="179.0" y1="439.2" x2="179.0" y2="437.6" stroke="#bcbcbc" stroke-width="0.7"/>
<line x1="179.0" y1="251.3" x2="179.0" y2="252.9" stroke="#bcbcbc" stroke-width="0.7"/>
<line x1="188.8" y1="439.2" x2="188.8" y2="436.7" stroke="#bcbcbc" stroke-width="0.7"/>
<line x1="188.8" y1="251.3" x2="188.8" y2="253.8" stroke="#bcbcbc" stroke-width="0.7"/>
<line x1="198.6" y1="439.2" x2="198.6" y2="437.6" stroke="#bcbcbc" stroke-width="0.7"/>
<line x1="198.6" y1="251.3" x2="198.6" y2="252.9" stroke="#bcbcbc" stroke-width="0.7"/>
<line x1="208.4" y1="439.2" x2="208.4" y2="437.6" stroke="#bcbcbc" stroke-width="0.7"/>
<line x1="208.4" y1="251.3" x2="208.4" y2="252.9" stroke="#bcbcbc" stroke-width="0.7"/>
<line x1="218.3" y1="439.2" x2="218.3" y2="437.6" stroke="#bcbcbc" stroke-width="0.7"/>
<line x1="218.3" y1="251.3" x2="218.3" y2="252.9" stroke="#bcbcbc" stroke-width="0.7"/>
<line x1="228.1" y1="439.2" x2="228.1" y2="437.6" stroke="#bcbcbc" stroke-width="0.7"/>
<line x1="228.1" y1="251.3" x2="228.1" y2="252.9" stroke="#bcbcbc" stroke-width="0.7"/>
<line x1="237.9" y1="439.2" x2="237.9" y2="436.7" stroke="#bcbcbc" stroke-width="0.7"/>
<line x1="237.9" y1="251.3" x2="237.9" y2="253.8" stroke="#bcbcbc" stroke-width="0.7"/>
<line x1="247.7" y1="439.2" x2="247.7" y2="437.6" stroke="#bcbcbc" stroke-width="0.7"/>
<line x1="247.7" y1="251.3" x2="247.7" y2="252.9" stroke="#bcbcbc" stroke-width="0.7"/>
<line x1="257.5" y1="439.2" x2="257.5" y2="437.6" stroke="#bcbcbc" stroke-width="0.7"/>
<line x1="257.5" y1="251.3" x2="257.5" y2="252.9" stroke="#bcbcbc" stroke-width="0.7"/>
<line x1="267.4" y1="439.2" x2="267.4" y2="437.6" stroke="#bcbcbc" stroke-width="0.7"/>
<line x1="267.4" y1="251.3" x2="267.4" y2="252.9" stroke="#bcbcbc" stroke-width="0.7"/>
<line x1="277.2" y1="439.2" x2="277.2" y2="437.6" stroke="#bcbcbc" stroke-width="0.7"/>
<line x1="277.2" y1="251.3" x2="277.2" y2="252.9" stroke="#bcbcbc" stroke-width="0.7"/>
<line x1="287.0" y1="439.2" x2="287.0" y2="436.7" stroke="#bcbcbc" stroke-width="0.7"/>
<line x1="287.0" y1="251.3" x2="287.0" y2="253.8" stroke="#bcbcbc" stroke-width="0.7"/>
<line x1="41.5" y1="439.2" x2="44.0" y2="439.2" stroke="#bcbcbc" stroke-width="0.7"/>
<line x1="287.6" y1="439.2" x2="285.1" y2="439.2" stroke="#bcbcbc" stroke-width="0.7"/>
<line x1="41.5" y1="423.5" x2="43.1" y2="423.5" stroke="#bcbcbc" stroke-width="0.7"/>
<line x1="287.6" y1="423.5" x2="286.0" y2="423.5" stroke="#bcbcbc" stroke-width="0.7"/>
<line x1="41.5" y1="407.9" x2="44.0" y2="407.9" stroke="#bcbcbc" stroke-width="0.7"/>
<line x1="287.6" y1="407.9" x2="285.1" y2="407.9" stroke="#bcbcbc" stroke-width="0.7"/>
<line x1="41.5" y1="392.2" x2="43.1" y2="392.2" stroke="#bcbcbc" stroke-width="0.7"/>
<line x1="287.6" y1="392.2" x2="286.0" y2="392.2" stroke="#bcbcbc" stroke-width="0.7"/>
<line x1="41.5" y1="376.6" x2="44.0" y2="376.6" stroke="#bcbcbc" stroke-width="0.7"/>
<line x1="287.6" y1="376.6" x2="285.1" y2="376.6" stroke="#bcbcbc" stroke-width="0.7"/>
<line x1="41.5" y1="360.9" x2="43.1" y2="360.9" stroke="#bcbcbc" stroke-width="0.7"/>
<line x1="287.6" y1="360.9" x2="286.0" y2="360.9" stroke="#bcbcbc" stroke-width="0.7"/>
<line x1="41.5" y1="345.2" x2="44.0" y2="345.2" stroke="#bcbcbc" stroke-width="0.7"/>
<line x1="287.6" y1="345.2" x2="285.1" y2="345.2" stroke="#bcbcbc" stroke-width="0.7"/>
<line x1="41.5" y1="329.6" x2="43.1" y2="329.6" stroke="#bcbcbc" stroke-width="0.7"/>
<line x1="287.6" y1="329.6" x2="286.0" y2="329.6" stroke="#bcbcbc" stroke-width="0.7"/>
<line x1="41.5" y1="313.9" x2="44.0" y2="313.9" stroke="#bcbcbc" stroke-width="0.7"/>
<line x1="287.6" y1="313.9" x2="285.1" y2="313.9" stroke="#bcbcbc" stroke-width="0.7"/>
<line x1="41.5" y1="298.3" x2="43.1" y2="298.3" stroke="#bcbcbc" stroke-width="0.7"/>
<line x1="287.6" y1="298.3" x2="286.0" y2="298.3" stroke="#bcbcbc" stroke-width="0.7"/>
<line x1="41.5" y1="282.6" x2="44.0" y2="282.6" stroke="#bcbcbc" stroke-width="0.7"/>
<line x1="287.6" y1="282.6" x2="285.1" y2="282.6" stroke="#bcbcbc" stroke-width="0.7"/>
<line x1="41.5" y1="267.0" x2="43.1" y2="267.0" stroke="#bcbcbc" stroke-width="0.7"/>
<line x1="287.6" y1="267.0" x2="286.0" y2="267.0" stroke="#bcbcbc" stroke-width="0.7"/>
<line x1="41.5" y1="251.3" x2="44.0" y2="251.3" stroke="#bcbcbc" stroke-width="0.7"/>
<line x1="287.6" y1="251.3" x2="285.1" y2="251.3" stroke="#bcbcbc" stroke-width="0.7"/>
<polyline points="88.1,439.2 89.1,439.0 90.1,438.8 91.1,438.7 92.1,438.7 93.1,438.6 94.0,438.6 95.0,438.6 96.0,438.6 97.0,438.6 98.0,438.6 98.9,438.6 99.9,438.6 100.9,438.6 101.9,438.6 102.9,438.5 103.9,438.5 104.8,438.5 105.8,438.4 106.8,438.3 107.8,437.6 108.8,436.7 109.7,433.2 110.7,429.2 111.7,426.6 112.7,424.6 113.7,422.8 114.7,421.1 115.6,419.6 116.6,418.3 117.6,417.0 118.6,415.7 119.6,414.5 120.6,413.3 121.5,412.1 122.5,410.9 123.5,409.6 124.5,408.3 125.5,406.9 126.4,405.6 127.4,404.3 128.4,403.0 129.4,401.7 130.4,400.4 131.4,399.1 132.3,397.8 133.3,396.5 134.3,395.3 135.3,394.0 136.3,392.7 137.2,391.4 138.2,390.2 139.2,388.9 140.2,387.6 141.2,386.3 142.2,385.1 143.1,383.8 144.1,382.5 145.1,381.2 146.1,379.9 147.1,378.6 148.0,377.3 149.0,376.0 150.0,374.7 151.0,373.4 152.0,372.1 153.0,370.8 153.9,369.5 154.9,368.2 155.9,366.9 156.9,365.6 157.9,364.3 158.8,363.0 159.8,361.7 160.8,360.4 161.8,359.1 162.8,357.8 163.8,356.5 164.7,355.2 165.7,353.9 166.7,352.6 167.7,351.3 168.7,350.0 169.7,348.7 170.6,347.4 171.6,346.2 172.6,344.9 173.6,343.6 174.6,342.3 175.5,341.1 176.5,339.8 177.5,338.5 178.5,337.2 179.5,336.0 180.5,334.7 181.4,333.4 182.4,332.2 183.4,330.9 184.4,329.7 185.4,328.4 186.3,327.2 187.3,326.0 188.3,324.7 189.3,323.5 190.3,322.3 191.3,321.2 192.2,320.0 193.2,318.8 194.2,317.6 195.2,316.5 196.2,315.3 197.1,314.2 198.1,313.0 199.1,311.9 200.1,310.7 201.1,309.6 202.1,308.5 203.0,307.4 204.0,306.3 205.0,305.2 206.0,304.1 207.0,303.0 207.9,301.9 208.9,300.8 209.9,299.7 210.9,298.7 211.9,297.6 212.9,296.6 213.8,295.5 214.8,294.5 215.8,293.4 216.8,292.4 217.8,291.4 218.8,290.4 219.7,289.4 220.7,288.4 221.7,287.3 222.7,286.4 223.7,285.4 224.6,284.4 225.6,283.4 226.6,282.4 227.6,281.5 228.6,280.5 229.6,279.5 230.5,278.6 231.5,277.6 232.5,276.7 233.5,275.8 234.5,274.8 235.4,273.9 236.4,273.0 237.4,272.1" fill="none" stroke="#ec2a30" stroke-width="2.2" stroke-linejoin="round"/>
<polyline points="85.7,439.2 86.7,439.2 87.7,439.2 88.6,439.2 89.6,439.2 90.6,439.2 91.6,439.2 92.6,439.2 93.5,439.2 94.5,439.2 95.5,439.0 96.5,437.9 97.5,436.3 98.5,434.3 99.4,432.6 100.4,430.8 101.4,429.1 102.4,427.4 103.4,425.9 104.3,424.6 105.3,423.3 106.3,422.0 107.3,420.8 108.3,419.6 109.3,418.4 110.2,417.1 111.2,415.9 112.2,414.6 113.2,413.4 114.2,412.1 115.2,410.9 116.1,409.6 117.1,408.4 118.1,407.2 119.1,406.0 120.1,404.7 121.0,403.5 122.0,402.3 123.0,401.0 124.0,399.8 125.0,398.6 126.0,397.4 126.9,396.2 127.9,394.9 128.9,393.7 129.9,392.5 130.9,391.3 131.8,390.0 132.8,388.8 133.8,387.6 134.8,386.4 135.8,385.1 136.8,383.9 137.7,382.7 138.7,381.4 139.7,380.2 140.7,378.9 141.7,377.7 142.6,376.5 143.6,375.2 144.6,374.0 145.6,372.7 146.6,371.5 147.6,370.2 148.5,369.0 149.5,367.7 150.5,366.5 151.5,365.2 152.5,364.0 153.4,362.7 154.4,361.5 155.4,360.2 156.4,359.0 157.4,357.8 158.4,356.5 159.3,355.3 160.3,354.1 161.3,352.8 162.3,351.6 163.3,350.4 164.3,349.2 165.2,348.0 166.2,346.7 167.2,345.5 168.2,344.3 169.2,343.1 170.1,341.9 171.1,340.7 172.1,339.5 173.1,338.3 174.1,337.1 175.1,335.9 176.0,334.7 177.0,333.5 178.0,332.3 179.0,331.2 180.0,330.0 180.9,328.8 181.9,327.6 182.9,326.4 183.9,325.3 184.9,324.1 185.9,322.9 186.8,321.7 187.8,320.6 188.8,319.4 189.8,318.2 190.8,317.1 191.7,315.9 192.7,314.7 193.7,313.5 194.7,312.3 195.7,311.2 196.7,310.0 197.6,308.8 198.6,307.7 199.6,306.5 200.6,305.4 201.6,304.3 202.5,303.2 203.5,302.2 204.5,301.1 205.5,300.1 206.5,299.2 207.5,298.2 208.4,297.3 209.4,296.4 210.4,295.5 211.4,294.6 212.4,293.8 213.4,292.9 214.3,292.0 215.3,291.2 216.3,290.4 217.3,289.5 218.3,288.7 219.2,287.8 220.2,286.9 221.2,286.0 222.2,285.1 223.2,284.2 224.2,283.2 225.1,282.3 226.1,281.3 227.1,280.4 228.1,279.4 229.1,278.4 230.0,277.4 231.0,276.4 232.0,275.4 233.0,274.4 234.0,273.4 235.0,272.4 235.9,271.4 236.9,270.3 237.9,269.3" fill="none" stroke="#2d5ec4" stroke-width="1.0" stroke-linejoin="round"/>
<polyline points="80.8,439.2 81.8,439.2 82.7,439.2 83.7,439.2 84.7,439.2 85.7,439.2 86.7,438.8 87.7,437.9 88.6,436.9 89.6,435.9 90.6,434.9 91.6,433.8 92.6,432.7 93.5,431.6 94.5,430.5 95.5,429.3 96.5,428.2 97.5,427.0 98.5,425.8 99.4,424.6 100.4,423.4 101.4,422.2 102.4,421.0 103.4,419.7 104.3,418.5 105.3,417.3 106.3,416.1 107.3,414.8 108.3,413.6 109.3,412.4 110.2,411.2 111.2,410.0 112.2,408.8 113.2,407.6 114.2,406.4 115.2,405.2 116.1,404.0 117.1,402.8 118.1,401.6 119.1,400.4 120.1,399.2 121.0,398.0 122.0,396.8 123.0,395.6 124.0,394.4 125.0,393.2 126.0,392.0 126.9,390.8 127.9,389.6 128.9,388.4 129.9,387.2 130.9,386.0 131.8,384.8 132.8,383.6 133.8,382.5 134.8,381.3 135.8,380.1 136.8,378.9 137.7,377.7 138.7,376.5 139.7,375.3 140.7,374.2 141.7,373.0 142.6,371.8 143.6,370.6 144.6,369.4 145.6,368.3 146.6,367.1 147.6,365.9 148.5,364.7 149.5,363.6 150.5,362.4 151.5,361.2 152.5,360.1 153.4,358.9 154.4,357.7 155.4,356.5 156.4,355.4 157.4,354.2 158.4,353.0 159.3,351.9 160.3,350.7 161.3,349.5 162.3,348.4 163.3,347.2 164.3,346.0 165.2,344.9 166.2,343.7 167.2,342.5 168.2,341.4 169.2,340.2 170.1,339.1 171.1,337.9 172.1,336.8 173.1,335.6 174.1,334.4 175.1,333.3 176.0,332.1 177.0,331.0 178.0,329.8 179.0,328.7 180.0,327.5 180.9,326.4 181.9,325.2 182.9,324.0 183.9,322.9 184.9,321.7 185.9,320.6 186.8,319.4 187.8,318.2 188.8,317.1 189.8,315.9 190.8,314.7 191.7,313.5 192.7,312.3 193.7,311.1 194.7,309.9 195.7,308.7 196.7,307.5 197.6,306.3 198.6,305.1 199.6,304.0 200.6,302.8 201.6,301.7 202.5,300.6 203.5,299.6 204.5,298.5 205.5,297.5 206.5,296.4 207.5,295.4 208.4,294.4 209.4,293.4 210.4,292.4 211.4,291.5 212.4,290.5 213.4,289.6 214.3,288.6 215.3,287.7 216.3,286.8 217.3,285.9 218.3,285.0 219.2,284.1 220.2,283.2 221.2,282.3 222.2,281.4 223.2,280.6 224.2,279.7 225.1,278.9 226.1,278.0 227.1,277.2 228.1,276.3 229.1,275.5 230.0,274.7 231.0,273.9 232.0,273.1 233.0,272.3 234.0,271.5 235.0,270.8 235.9,270.0 236.9,269.3 237.9,268.5" fill="none" stroke="#3db54a" stroke-width="1.6" stroke-dasharray="4,2.6" stroke-linejoin="round"/>
<polyline points="74.9,439.2 75.9,439.2 76.9,439.2 77.8,439.2 78.8,439.2 79.8,439.2 80.8,439.2 81.8,438.9 82.7,438.0 83.7,436.9 84.7,435.6 85.7,434.5 86.7,433.5 87.7,432.5 88.6,431.5 89.6,430.5 90.6,429.5 91.6,428.4 92.6,427.4 93.5,426.3 94.5,425.2 95.5,424.1 96.5,423.1 97.5,422.0 98.5,420.8 99.4,419.7 100.4,418.6 101.4,417.5 102.4,416.4 103.4,415.2 104.3,414.1 105.3,413.0 106.3,411.8 107.3,410.7 108.3,409.6 109.3,408.5 110.2,407.4 111.2,406.2 112.2,405.1 113.2,404.0 114.2,402.9 115.2,401.7 116.1,400.6 117.1,399.5 118.1,398.4 119.1,397.2 120.1,396.1 121.0,395.0 122.0,393.8 123.0,392.7 124.0,391.6 125.0,390.4 126.0,389.3 126.9,388.1 127.9,387.0 128.9,385.9 129.9,384.7 130.9,383.6 131.8,382.5 132.8,381.3 133.8,380.2 134.8,379.0 135.8,377.9 136.8,376.7 137.7,375.6 138.7,374.4 139.7,373.3 140.7,372.1 141.7,371.0 142.6,369.8 143.6,368.7 144.6,367.5 145.6,366.4 146.6,365.2 147.6,364.0 148.5,362.9 149.5,361.7 150.5,360.6 151.5,359.4 152.5,358.3 153.4,357.1 154.4,355.9 155.4,354.8 156.4,353.6 157.4,352.5 158.4,351.3 159.3,350.2 160.3,349.0 161.3,347.9 162.3,346.7 163.3,345.6 164.3,344.5 165.2,343.3 166.2,342.2 167.2,341.1 168.2,339.9 169.2,338.8 170.1,337.7 171.1,336.6 172.1,335.5 173.1,334.4 174.1,333.3 175.1,332.1 176.0,331.0 177.0,329.9 178.0,328.8 179.0,327.7 180.0,326.6 180.9,325.4 181.9,324.3 182.9,323.2 183.9,322.0 184.9,320.9 185.9,319.8 186.8,318.6 187.8,317.4 188.8,316.3 189.8,315.1 190.8,313.9 191.7,312.7 192.7,311.4 193.7,310.2 194.7,308.9 195.7,307.7 196.7,306.4 197.6,305.2 198.6,304.0 199.6,302.9 200.6,301.7 201.6,300.6 202.5,299.6 203.5,298.5 204.5,297.5 205.5,296.4 206.5,295.4 207.5,294.4 208.4,293.4 209.4,292.5 210.4,291.5 211.4,290.6 212.4,289.6 213.4,288.7 214.3,287.8 215.3,286.9 216.3,286.0 217.3,285.1 218.3,284.2 219.2,283.3 220.2,282.4 221.2,281.6 222.2,280.7 223.2,279.9 224.2,279.0 225.1,278.2 226.1,277.3 227.1,276.5 228.1,275.7 229.1,274.9 230.0,274.1 231.0,273.3 232.0,272.5 233.0,271.8 234.0,271.0 235.0,270.3 235.9,269.5 236.9,268.8 237.9,268.1" fill="none" stroke="#c050c0" stroke-width="0.8" stroke-dasharray="1,1" stroke-linejoin="round"/>
<polyline points="70.5,439.2 71.5,439.2 72.4,439.2 73.4,439.2 74.4,439.2 75.4,439.2 76.4,439.2 77.3,438.9 78.3,438.0 79.3,436.8 80.3,435.5 81.3,434.5 82.3,433.5 83.2,432.5 84.2,431.4 85.2,430.4 86.2,429.4 87.2,428.4 88.1,427.4 89.1,426.3 90.1,425.3 91.1,424.3 92.1,423.3 93.1,422.3 94.0,421.3 95.0,420.2 96.0,419.2 97.0,418.2 98.0,417.2 98.9,416.2 99.9,415.2 100.9,414.2 101.9,413.2 102.9,412.2 103.9,411.2 104.8,410.1 105.8,409.1 106.8,408.1 107.8,407.1 108.8,406.0 109.7,405.0 110.7,403.9 111.7,402.8 112.7,401.8 113.7,400.7 114.7,399.6 115.6,398.5 116.6,397.5 117.6,396.4 118.6,395.3 119.6,394.2 120.6,393.1 121.5,392.0 122.5,390.9 123.5,389.8 124.5,388.7 125.5,387.6 126.4,386.5 127.4,385.4 128.4,384.2 129.4,383.1 130.4,382.0 131.4,380.9 132.3,379.8 133.3,378.7 134.3,377.5 135.3,376.4 136.3,375.3 137.2,374.2 138.2,373.1 139.2,372.0 140.2,370.8 141.2,369.7 142.2,368.6 143.1,367.5 144.1,366.4 145.1,365.3 146.1,364.1 147.1,363.0 148.0,361.9 149.0,360.8 150.0,359.6 151.0,358.5 152.0,357.4 153.0,356.3 153.9,355.1 154.9,354.0 155.9,352.9 156.9,351.7 157.9,350.6 158.8,349.5 159.8,348.3 160.8,347.2 161.8,346.1 162.8,344.9 163.8,343.8 164.7,342.7 165.7,341.5 166.7,340.4 167.7,339.3 168.7,338.1 169.7,337.0 170.6,335.9 171.6,334.7 172.6,333.6 173.6,332.4 174.6,331.3 175.5,330.1 176.5,329.0 177.5,327.8 178.5,326.7 179.5,325.5 180.5,324.4 181.4,323.2 182.4,322.1 183.4,320.9 184.4,319.8 185.4,318.6 186.3,317.5 187.3,316.4 188.3,315.3 189.3,314.2 190.3,313.1 191.3,312.0 192.2,310.8 193.2,309.7 194.2,308.6 195.2,307.5 196.2,306.4 197.1,305.3 198.1,304.2 199.1,303.1 200.1,302.0 201.1,301.0 202.1,299.9 203.0,298.8 204.0,297.8 205.0,296.7 206.0,295.7 207.0,294.7 207.9,293.7 208.9,292.7 209.9,291.7 210.9,290.8 211.9,289.8 212.9,288.9 213.8,288.0 214.8,287.0 215.8,286.1 216.8,285.2 217.8,284.3 218.8,283.4 219.7,282.5 220.7,281.7 221.7,280.8 222.7,279.9 223.7,279.1 224.6,278.2 225.6,277.4 226.6,276.5 227.6,275.7 228.6,274.9 229.6,274.1 230.5,273.3 231.5,272.5 232.5,271.7 233.5,270.9 234.5,270.2 235.4,269.4 236.4,268.7 237.4,267.9" fill="none" stroke="#141414" stroke-width="1.8" stroke-dasharray="5,2,1.5,2" stroke-linejoin="round"/>
<text x="39.0" y="443.0" font-size="10.6" text-anchor="end" fill="#141414">0</text>
<text x="39.0" y="411.7" font-size="10.6" text-anchor="end" fill="#141414">2</text>
<text x="39.0" y="380.4" font-size="10.6" text-anchor="end" fill="#141414">4</text>
<text x="39.0" y="349.1" font-size="10.6" text-anchor="end" fill="#141414">6</text>
<text x="39.0" y="317.7" font-size="10.6" text-anchor="end" fill="#141414">8</text>
<text x="39.0" y="286.4" font-size="10.6" text-anchor="end" fill="#141414">10</text>
<text x="39.0" y="255.1" font-size="10.6" text-anchor="end" fill="#141414">12</text>
<text x="41.5" y="451.5" font-size="10.6" text-anchor="middle" fill="#141414">0</text>
<text x="90.6" y="451.5" font-size="10.6" text-anchor="middle" fill="#141414">1</text>
<text x="139.7" y="451.5" font-size="10.6" text-anchor="middle" fill="#141414">2</text>
<text x="188.8" y="451.5" font-size="10.6" text-anchor="middle" fill="#141414">3</text>
<text x="237.9" y="451.5" font-size="10.6" text-anchor="middle" fill="#141414">4</text>
<text x="287.0" y="451.5" font-size="10.6" text-anchor="middle" fill="#141414">5</text>
<text transform="translate(14.6,390.4) rotate(-90)" font-size="14.2" fill="#141414" textLength="87.5" lengthAdjust="spacingAndGlyphs">N<tspan font-size="10.5" dy="6.2">e</tspan><tspan dy="-6.2"> [10</tspan><tspan font-size="11.0" dy="-6.0">21</tspan><tspan dy="6.0"> cm</tspan><tspan font-size="11.0" dy="-6.0">-3</tspan><tspan dy="6.0">]</tspan></text>
<text x="95.9" y="469.2" font-size="14.0" fill="#141414" textLength="136.5" lengthAdjust="spacingAndGlyphs">Intensity [10<tspan font-size="11.2" dy="-6.8">13</tspan><tspan dy="6.8"> W/cm</tspan><tspan font-size="11.2" dy="-6.8">2</tspan><tspan dy="6.8">]</tspan></text>
<text x="239.5" y="275.8" font-family="Liberation Serif, serif" font-size="22.5" fill="#1a1a1a">(c)</text>
<line x1="190.1" y1="348.3" x2="212.2" y2="348.3" stroke="#ec2a30" stroke-width="2.2"/>
<text x="214.7" y="352.1" font-size="10.6" fill="#141414">&#955;<tspan font-size="8" dy="3.5">L</tspan><tspan dy="-3.5">=2 &#181;m</tspan></text>
<line x1="190.1" y1="365.9" x2="212.2" y2="365.9" stroke="#2d5ec4" stroke-width="1.0"/>
<text x="214.7" y="369.7" font-size="10.6" fill="#141414">&#955;<tspan font-size="8" dy="3.5">L</tspan><tspan dy="-3.5">=2.5 &#181;m</tspan></text>
<line x1="190.1" y1="384.0" x2="212.2" y2="384.0" stroke="#3db54a" stroke-width="1.6"  stroke-dasharray="4,2.6"/>
<text x="214.7" y="387.8" font-size="10.6" fill="#141414">&#955;<tspan font-size="8" dy="3.5">L</tspan><tspan dy="-3.5">=3 &#181;m</tspan></text>
<line x1="190.1" y1="401.0" x2="212.2" y2="401.0" stroke="#c050c0" stroke-width="0.8"  stroke-dasharray="1,1"/>
<text x="214.7" y="404.8" font-size="10.6" fill="#141414">&#955;<tspan font-size="8" dy="3.5">L</tspan><tspan dy="-3.5">=3.5 &#181;m</tspan></text>
<line x1="190.1" y1="419.0" x2="212.2" y2="419.0" stroke="#141414" stroke-width="1.8"  stroke-dasharray="5,2,1.5,2"/>
<text x="214.7" y="422.8" font-size="10.6" fill="#141414">&#955;<tspan font-size="8" dy="3.5">L</tspan><tspan dy="-3.5">=4 &#181;m</tspan></text>
<rect x="84.0" y="257.6" width="73.9" height="50.4" fill="#fff" stroke="#bcbcbc" stroke-width="0.8"/>
<line x1="84.0" y1="308.0" x2="84.0" y2="306.2" stroke="#bcbcbc" stroke-width="0.6"/>
<line x1="84.0" y1="257.6" x2="84.0" y2="259.4" stroke="#bcbcbc" stroke-width="0.6"/>
<line x1="93.0" y1="308.0" x2="93.0" y2="306.8" stroke="#bcbcbc" stroke-width="0.6"/>
<line x1="93.0" y1="257.6" x2="93.0" y2="258.8" stroke="#bcbcbc" stroke-width="0.6"/>
<line x1="102.0" y1="308.0" x2="102.0" y2="306.8" stroke="#bcbcbc" stroke-width="0.6"/>
<line x1="102.0" y1="257.6" x2="102.0" y2="258.8" stroke="#bcbcbc" stroke-width="0.6"/>
<line x1="111.0" y1="308.0" x2="111.0" y2="306.8" stroke="#bcbcbc" stroke-width="0.6"/>
<line x1="111.0" y1="257.6" x2="111.0" y2="258.8" stroke="#bcbcbc" stroke-width="0.6"/>
<line x1="120.0" y1="308.0" x2="120.0" y2="306.2" stroke="#bcbcbc" stroke-width="0.6"/>
<line x1="120.0" y1="257.6" x2="120.0" y2="259.4" stroke="#bcbcbc" stroke-width="0.6"/>
<line x1="129.0" y1="308.0" x2="129.0" y2="306.8" stroke="#bcbcbc" stroke-width="0.6"/>
<line x1="129.0" y1="257.6" x2="129.0" y2="258.8" stroke="#bcbcbc" stroke-width="0.6"/>
<line x1="138.0" y1="308.0" x2="138.0" y2="306.8" stroke="#bcbcbc" stroke-width="0.6"/>
<line x1="138.0" y1="257.6" x2="138.0" y2="258.8" stroke="#bcbcbc" stroke-width="0.6"/>
<line x1="147.0" y1="308.0" x2="147.0" y2="306.8" stroke="#bcbcbc" stroke-width="0.6"/>
<line x1="147.0" y1="257.6" x2="147.0" y2="258.8" stroke="#bcbcbc" stroke-width="0.6"/>
<line x1="156.0" y1="308.0" x2="156.0" y2="306.2" stroke="#bcbcbc" stroke-width="0.6"/>
<line x1="156.0" y1="257.6" x2="156.0" y2="259.4" stroke="#bcbcbc" stroke-width="0.6"/>
<polyline points="94.8,302.6 94.8,301.4 95.7,300.3 96.6,299.4 97.5,298.5 98.4,297.7 99.3,296.9 100.2,296.2 101.1,295.5 102.0,294.8 102.9,294.2 103.8,293.6 104.7,293.0 105.6,292.5 106.5,292.0 107.4,291.5 108.3,291.0 109.2,290.5 110.1,290.1 111.0,289.6 111.9,289.2 112.8,288.8 113.7,288.4 114.6,288.0 115.5,287.7 116.4,287.3 117.3,286.9 118.2,286.6 119.1,286.3 120.0,286.0 120.9,285.6 121.8,285.3 122.7,285.0 123.6,284.7 124.5,284.4 125.4,284.2 126.3,283.9 127.2,283.6 128.1,283.4 129.0,283.1 129.9,282.8 130.8,282.6 131.7,282.3 132.6,282.1 133.5,281.9 134.4,281.6 135.3,281.4 136.2,281.2 137.1,281.0 138.0,280.8 138.9,280.6 139.8,280.3 140.7,280.1 141.6,279.9 142.5,279.7 143.4,279.5 144.3,279.4 145.2,279.2 146.1,279.0 147.0,278.8 147.9,278.6 148.8,278.4 149.7,278.3 150.6,278.1 151.5,277.9 152.4,277.7 153.3,277.6 154.2,277.4 155.1,277.2 156.0,277.1" fill="none" stroke="#ec2a30" stroke-width="2.0" stroke-linejoin="round"/>
<polyline points="94.8,296.8 94.8,295.6 95.7,294.6 96.6,293.7 97.5,292.9 98.4,292.1 99.3,291.4 100.2,290.7 101.1,290.0 102.0,289.4 102.9,288.8 103.8,288.2 104.7,287.7 105.6,287.2 106.5,286.7 107.4,286.2 108.3,285.7 109.2,285.3 110.1,284.9 111.0,284.5 111.9,284.1 112.8,283.7 113.7,283.3 114.6,282.9 115.5,282.6 116.4,282.2 117.3,281.9 118.2,281.6 119.1,281.3 120.0,281.0 120.9,280.7 121.8,280.4 122.7,280.1 123.6,279.8 124.5,279.5 125.4,279.3 126.3,279.0 127.2,278.7 128.1,278.5 129.0,278.2 129.9,278.0 130.8,277.8 131.7,277.5 132.6,277.3 133.5,277.1 134.4,276.9 135.3,276.6 136.2,276.4 137.1,276.2 138.0,276.0 138.9,275.8 139.8,275.6 140.7,275.4 141.6,275.2 142.5,275.0 143.4,274.9 144.3,274.7 145.2,274.5 146.1,274.3 147.0,274.1 147.9,274.0 148.8,273.8 149.7,273.6 150.6,273.5 151.5,273.3 152.4,273.1 153.3,273.0 154.2,272.8 155.1,272.7 156.0,272.5" fill="none" stroke="#2d5ec4" stroke-width="1.0" stroke-linejoin="round"/>
<polyline points="94.8,291.3 94.8,290.1 95.7,289.3 96.6,288.5 97.5,287.7 98.4,287.0 99.3,286.4 100.2,285.8 101.1,285.2 102.0,284.6 102.9,284.1 103.8,283.6 104.7,283.1 105.6,282.6 106.5,282.2 107.4,281.8 108.3,281.4 109.2,281.0 110.1,280.6 111.0,280.2 111.9,279.9 112.8,279.5 113.7,279.2 114.6,278.9 115.5,278.6 116.4,278.3 117.3,278.0 118.2,277.7 119.1,277.4 120.0,277.1 120.9,276.9 121.8,276.6 122.7,276.3 123.6,276.1 124.5,275.8 125.4,275.6 126.3,275.4 127.2,275.2 128.1,274.9 129.0,274.7 129.9,274.5 130.8,274.3 131.7,274.1 132.6,273.9 133.5,273.7 134.4,273.5 135.3,273.3 136.2,273.1 137.1,272.9 138.0,272.7 138.9,272.6 139.8,272.4 140.7,272.2 141.6,272.0 142.5,271.9 143.4,271.7 144.3,271.5 145.2,271.4 146.1,271.2 147.0,271.1 147.9,270.9 148.8,270.8 149.7,270.6 150.6,270.5 151.5,270.3 152.4,270.2 153.3,270.0 154.2,269.9 155.1,269.8 156.0,269.6" fill="none" stroke="#3db54a" stroke-width="1.5" stroke-dasharray="3,2" stroke-linejoin="round"/>
<polyline points="94.8,287.5 94.8,286.3 95.7,285.5 96.6,284.8 97.5,284.1 98.4,283.5 99.3,282.9 100.2,282.4 101.1,281.9 102.0,281.4 102.9,280.9 103.8,280.4 104.7,280.0 105.6,279.6 106.5,279.2 107.4,278.8 108.3,278.5 109.2,278.1 110.1,277.8 111.0,277.5 111.9,277.2 112.8,276.8 113.7,276.6 114.6,276.3 115.5,276.0 116.4,275.7 117.3,275.5 118.2,275.2 119.1,274.9 120.0,274.7 120.9,274.5 121.8,274.2 122.7,274.0 123.6,273.8 124.5,273.6 125.4,273.4 126.3,273.1 127.2,272.9 128.1,272.7 129.0,272.6 129.9,272.4 130.8,272.2 131.7,272.0 132.6,271.8 133.5,271.6 134.4,271.5 135.3,271.3 136.2,271.1 137.1,271.0 138.0,270.8 138.9,270.6 139.8,270.5 140.7,270.3 141.6,270.2 142.5,270.0 143.4,269.9 144.3,269.7 145.2,269.6 146.1,269.5 147.0,269.3 147.9,269.2 148.8,269.0 149.7,268.9 150.6,268.8 151.5,268.7 152.4,268.5 153.3,268.4 154.2,268.3 155.1,268.2 156.0,268.0" fill="none" stroke="#c050c0" stroke-width="0.8" stroke-dasharray="1,1" stroke-linejoin="round"/>
<polyline points="94.8,284.5 94.8,283.3 95.7,282.6 96.6,282.0 97.5,281.4 98.4,280.9 99.3,280.4 100.2,279.9 101.1,279.4 102.0,279.0 102.9,278.6 103.8,278.2 104.7,277.8 105.6,277.5 106.5,277.1 107.4,276.8 108.3,276.5 109.2,276.2 110.1,275.9 111.0,275.6 111.9,275.3 112.8,275.0 113.7,274.8 114.6,274.5 115.5,274.3 116.4,274.0 117.3,273.8 118.2,273.6 119.1,273.4 120.0,273.1 120.9,272.9 121.8,272.7 122.7,272.5 123.6,272.3 124.5,272.1 125.4,272.0 126.3,271.8 127.2,271.6 128.1,271.4 129.0,271.3 129.9,271.1 130.8,270.9 131.7,270.8 132.6,270.6 133.5,270.5 134.4,270.3 135.3,270.1 136.2,270.0 137.1,269.9 138.0,269.7 138.9,269.6 139.8,269.4 140.7,269.3 141.6,269.2 142.5,269.0 143.4,268.9 144.3,268.8 145.2,268.7 146.1,268.5 147.0,268.4 147.9,268.3 148.8,268.2 149.7,268.1 150.6,267.9 151.5,267.8 152.4,267.7 153.3,267.6 154.2,267.5 155.1,267.4 156.0,267.3" fill="none" stroke="#141414" stroke-width="1.6" stroke-dasharray="4,1.5,1.2,1.5" stroke-linejoin="round"/>
<text x="82.3" y="262.5" font-size="10.4" text-anchor="end" fill="#141414">0.15</text>
<text x="82.3" y="281.9" font-size="10.4" text-anchor="end" fill="#141414">0.1</text>
<text x="82.3" y="301.3" font-size="10.4" text-anchor="end" fill="#141414">0.05</text>
<text x="84.0" y="319.5" font-size="10.4" text-anchor="middle" fill="#141414">0</text>
<text x="120.0" y="319.5" font-size="10.4" text-anchor="middle" fill="#141414">2</text>
<text x="156.0" y="319.5" font-size="10.4" text-anchor="middle" fill="#141414">4</text>
<text x="70.7" y="332.8" font-size="10.5" fill="#141414" textLength="99.5" lengthAdjust="spacingAndGlyphs">Intensity [10<tspan font-size="8.4" dy="-5.5">13</tspan><tspan dy="5.5"> W/cm</tspan><tspan font-size="8.4" dy="-5.5">2</tspan><tspan dy="5.5">]</tspan></text>
<text transform="translate(55.0,304.6) rotate(-90)" font-size="10.6" fill="#141414" textLength="41.5" lengthAdjust="spacingAndGlyphs">AI<tspan font-size="8.0" dy="4.6">r</tspan><tspan font-size="8.0" dy="-10.2" dx="-4.4">(1)</tspan><tspan dy="5.6"> [fs</tspan><tspan font-size="8.0" dy="-5.6">-1</tspan><tspan dy="5.6">]</tspan></text>
<g shape-rendering="crispEdges">
<rect x="399.3" y="252.00" width="12.4" height="31.13" fill="#c8cae4"/>
<rect x="399.3" y="282.83" width="12.4" height="3.13" fill="#a9add6"/>
<rect x="399.3" y="285.66" width="12.4" height="5.96" fill="#c8cae4"/>
<rect x="399.3" y="291.32" width="12.4" height="28.61" fill="#a9add6"/>
<rect x="399.3" y="319.63" width="12.4" height="22.95" fill="#8c92c8"/>
<rect x="399.3" y="342.28" width="12.4" height="14.46" fill="#6c76ba"/>
<rect x="399.3" y="356.43" width="12.4" height="3.13" fill="#4c5cae"/>
<rect x="399.3" y="359.27" width="12.4" height="11.62" fill="#2a4cab"/>
<rect x="399.3" y="370.59" width="12.4" height="11.62" fill="#265bb5"/>
<rect x="399.3" y="381.91" width="12.4" height="8.79" fill="#2a4cab"/>
<rect x="399.3" y="390.41" width="12.4" height="3.13" fill="#2a73c2"/>
<rect x="399.3" y="393.24" width="12.4" height="3.13" fill="#2764ba"/>
<rect x="399.3" y="396.07" width="12.4" height="3.13" fill="#52bba0"/>
<rect x="399.3" y="398.90" width="12.4" height="3.13" fill="#f09025"/>
<rect x="399.3" y="401.73" width="12.4" height="3.13" fill="#60be8e"/>
<rect x="399.3" y="404.56" width="12.4" height="3.13" fill="#4dbaab"/>
<rect x="399.3" y="407.39" width="12.4" height="3.13" fill="#34b5dc"/>
<rect x="399.3" y="410.22" width="12.4" height="3.13" fill="#2dafe0"/>
<rect x="399.3" y="413.06" width="12.4" height="3.13" fill="#2a85cd"/>
<rect x="399.3" y="415.89" width="12.4" height="3.13" fill="#2babde"/>
<rect x="399.3" y="418.72" width="12.4" height="3.13" fill="#2764ba"/>
<rect x="399.3" y="421.55" width="12.4" height="3.13" fill="#2997d6"/>
<rect x="399.3" y="424.38" width="12.4" height="3.13" fill="#265ab4"/>
<rect x="399.3" y="427.21" width="12.4" height="3.13" fill="#2a71c0"/>
<rect x="399.3" y="430.04" width="12.4" height="3.13" fill="#265fb8"/>
<rect x="399.3" y="432.87" width="12.4" height="3.13" fill="#2a78c5"/>
<rect x="399.3" y="435.70" width="12.4" height="3.13" fill="#2652b0"/>
<rect x="399.3" y="438.53" width="12.4" height="3.13" fill="#2a70c0"/>
<rect x="399.3" y="441.37" width="12.4" height="3.13" fill="#2661b9"/>
<rect x="399.3" y="444.20" width="12.4" height="0.60" fill="#2866bb"/>
<rect x="411.2" y="252.00" width="12.4" height="2.89" fill="#c8cae4"/>
<rect x="411.2" y="254.59" width="12.4" height="3.13" fill="#eeeef7"/>
<rect x="411.2" y="257.42" width="12.4" height="34.27" fill="#c8cae4"/>
<rect x="411.2" y="291.39" width="12.4" height="3.13" fill="#a9add6"/>
<rect x="411.2" y="294.22" width="12.4" height="3.13" fill="#dfe0f0"/>
<rect x="411.2" y="297.05" width="12.4" height="5.96" fill="#a9add6"/>
<rect x="411.2" y="302.71" width="12.4" height="3.13" fill="#d6d7eb"/>
<rect x="411.2" y="305.55" width="12.4" height="20.12" fill="#a9add6"/>
<rect x="411.2" y="325.36" width="12.4" height="25.78" fill="#8c92c8"/>
<rect x="411.2" y="350.84" width="12.4" height="8.79" fill="#6c76ba"/>
<rect x="411.2" y="359.33" width="12.4" height="8.79" fill="#4c5cae"/>
<rect x="411.2" y="367.83" width="12.4" height="31.44" fill="#2a4cab"/>
<rect x="411.2" y="398.97" width="12.4" height="3.13" fill="#2babde"/>
<rect x="411.2" y="401.80" width="12.4" height="3.13" fill="#f0e028"/>
<rect x="411.2" y="404.63" width="12.4" height="3.13" fill="#60be8e"/>
<rect x="411.2" y="407.46" width="12.4" height="3.13" fill="#4dbaab"/>
<rect x="411.2" y="410.29" width="12.4" height="3.13" fill="#34b5dc"/>
<rect x="411.2" y="413.12" width="12.4" height="3.13" fill="#2eb1e1"/>
<rect x="411.2" y="415.96" width="12.4" height="3.13" fill="#2a6fc0"/>
<rect x="411.2" y="418.79" width="12.4" height="3.13" fill="#28a2da"/>
<rect x="411.2" y="421.62" width="12.4" height="3.13" fill="#294eac"/>
<rect x="411.2" y="424.45" width="12.4" height="3.13" fill="#2992d4"/>
<rect x="411.2" y="427.28" width="12.4" height="3.13" fill="#2764ba"/>
<rect x="411.2" y="430.11" width="12.4" height="3.13" fill="#2a7ec9"/>
<rect x="411.2" y="432.94" width="12.4" height="3.13" fill="#265bb5"/>
<rect x="411.2" y="435.77" width="12.4" height="3.13" fill="#2a77c4"/>
<rect x="411.2" y="438.60" width="12.4" height="3.13" fill="#2656b3"/>
<rect x="411.2" y="441.43" width="12.4" height="3.13" fill="#2765bb"/>
<rect x="411.2" y="444.27" width="12.4" height="0.53" fill="#2662b9"/>
<rect x="423.1" y="252.00" width="12.4" height="3.56" fill="#a9add6"/>
<rect x="423.1" y="255.26" width="12.4" height="3.13" fill="#eeeef7"/>
<rect x="423.1" y="258.09" width="12.4" height="48.43" fill="#c8cae4"/>
<rect x="423.1" y="306.21" width="12.4" height="31.44" fill="#a9add6"/>
<rect x="423.1" y="337.36" width="12.4" height="22.95" fill="#8c92c8"/>
<rect x="423.1" y="360.00" width="12.4" height="8.79" fill="#6c76ba"/>
<rect x="423.1" y="368.50" width="12.4" height="5.96" fill="#4c5cae"/>
<rect x="423.1" y="374.16" width="12.4" height="28.61" fill="#2a4cab"/>
<rect x="423.1" y="402.47" width="12.4" height="3.13" fill="#2babde"/>
<rect x="423.1" y="405.30" width="12.4" height="3.13" fill="#da252d"/>
<rect x="423.1" y="408.13" width="12.4" height="3.13" fill="#60be8e"/>
<rect x="423.1" y="410.96" width="12.4" height="3.13" fill="#4dbaab"/>
<rect x="423.1" y="413.79" width="12.4" height="3.13" fill="#34b5dc"/>
<rect x="423.1" y="416.62" width="12.4" height="3.13" fill="#32b5df"/>
<rect x="423.1" y="419.46" width="12.4" height="3.13" fill="#2a80ca"/>
<rect x="423.1" y="422.29" width="12.4" height="3.13" fill="#28a7dc"/>
<rect x="423.1" y="425.12" width="12.4" height="3.13" fill="#2662b9"/>
<rect x="423.1" y="427.95" width="12.4" height="3.13" fill="#2a90d3"/>
<rect x="423.1" y="430.78" width="12.4" height="3.13" fill="#265eb7"/>
<rect x="423.1" y="433.61" width="12.4" height="3.13" fill="#2a83cc"/>
<rect x="423.1" y="436.44" width="12.4" height="3.13" fill="#2654b1"/>
<rect x="423.1" y="439.27" width="12.4" height="3.13" fill="#296ebf"/>
<rect x="423.1" y="442.10" width="12.4" height="2.70" fill="#265cb6"/>
<rect x="435.0" y="252.00" width="12.4" height="12.12" fill="#fbfbfd"/>
<rect x="435.0" y="263.82" width="12.4" height="48.43" fill="#c8cae4"/>
<rect x="435.0" y="311.95" width="12.4" height="31.44" fill="#a9add6"/>
<rect x="435.0" y="343.09" width="12.4" height="25.78" fill="#8c92c8"/>
<rect x="435.0" y="368.57" width="12.4" height="11.62" fill="#6c76ba"/>
<rect x="435.0" y="379.89" width="12.4" height="3.13" fill="#4c5cae"/>
<rect x="435.0" y="382.72" width="12.4" height="22.95" fill="#2a4cab"/>
<rect x="435.0" y="405.37" width="12.4" height="3.13" fill="#2babde"/>
<rect x="435.0" y="408.20" width="12.4" height="3.13" fill="#f0e028"/>
<rect x="435.0" y="411.03" width="12.4" height="3.13" fill="#60be8e"/>
<rect x="435.0" y="413.86" width="12.4" height="3.13" fill="#4dbaab"/>
<rect x="435.0" y="416.69" width="12.4" height="3.13" fill="#34b5dc"/>
<rect x="435.0" y="419.52" width="12.4" height="3.13" fill="#2dafe0"/>
<rect x="435.0" y="422.36" width="12.4" height="3.13" fill="#294eac"/>
<rect x="435.0" y="425.19" width="12.4" height="3.13" fill="#2caddf"/>
<rect x="435.0" y="428.02" width="12.4" height="3.13" fill="#294eac"/>
<rect x="435.0" y="430.85" width="12.4" height="3.13" fill="#2a8ed2"/>
<rect x="435.0" y="433.68" width="12.4" height="3.13" fill="#294eac"/>
<rect x="435.0" y="436.51" width="12.4" height="3.13" fill="#2a74c3"/>
<rect x="435.0" y="439.34" width="12.4" height="3.13" fill="#2656b2"/>
<rect x="435.0" y="442.17" width="12.4" height="2.63" fill="#296bbe"/>
<rect x="446.9" y="252.00" width="12.4" height="2.89" fill="#fbfbfd"/>
<rect x="446.9" y="254.59" width="12.4" height="3.13" fill="#c8cae4"/>
<rect x="446.9" y="257.43" width="12.4" height="8.79" fill="#fbfbfd"/>
<rect x="446.9" y="265.92" width="12.4" height="3.13" fill="#c8cae4"/>
<rect x="446.9" y="268.75" width="12.4" height="3.13" fill="#fbfbfd"/>
<rect x="446.9" y="271.58" width="12.4" height="3.13" fill="#b8bcdd"/>
<rect x="446.9" y="274.41" width="12.4" height="3.13" fill="#a9add6"/>
<rect x="446.9" y="277.24" width="12.4" height="31.44" fill="#c8cae4"/>
<rect x="446.9" y="308.38" width="12.4" height="11.62" fill="#a9add6"/>
<rect x="446.9" y="319.71" width="12.4" height="3.13" fill="#dfe0f0"/>
<rect x="446.9" y="322.54" width="12.4" height="22.95" fill="#a9add6"/>
<rect x="446.9" y="345.19" width="12.4" height="5.96" fill="#6c76ba"/>
<rect x="446.9" y="350.85" width="12.4" height="20.12" fill="#8c92c8"/>
<rect x="446.9" y="370.67" width="12.4" height="14.46" fill="#6c76ba"/>
<rect x="446.9" y="384.82" width="12.4" height="5.96" fill="#4c5cae"/>
<rect x="446.9" y="390.48" width="12.4" height="17.29" fill="#2a4cab"/>
<rect x="446.9" y="407.47" width="12.4" height="3.13" fill="#2babde"/>
<rect x="446.9" y="410.30" width="12.4" height="3.13" fill="#e02830"/>
<rect x="446.9" y="413.13" width="12.4" height="3.13" fill="#60be8e"/>
<rect x="446.9" y="415.96" width="12.4" height="3.13" fill="#4dbaab"/>
<rect x="446.9" y="418.79" width="12.4" height="3.13" fill="#34b5dc"/>
<rect x="446.9" y="421.62" width="12.4" height="3.13" fill="#30b4e2"/>
<rect x="446.9" y="424.46" width="12.4" height="3.13" fill="#2a7cc7"/>
<rect x="446.9" y="427.29" width="12.4" height="3.13" fill="#28a6dc"/>
<rect x="446.9" y="430.12" width="12.4" height="3.13" fill="#2763b9"/>
<rect x="446.9" y="432.95" width="12.4" height="3.13" fill="#2a88cf"/>
<rect x="446.9" y="435.78" width="12.4" height="3.13" fill="#265bb5"/>
<rect x="446.9" y="438.61" width="12.4" height="3.13" fill="#2a86ce"/>
<rect x="446.9" y="441.44" width="12.4" height="3.13" fill="#265fb7"/>
<rect x="446.9" y="444.27" width="12.4" height="0.53" fill="#2a6fbf"/>
<rect x="458.8" y="252.00" width="12.4" height="19.85" fill="#fbfbfd"/>
<rect x="458.8" y="271.55" width="12.4" height="3.13" fill="#a9add6"/>
<rect x="458.8" y="274.38" width="12.4" height="3.13" fill="#fbfbfd"/>
<rect x="458.8" y="277.21" width="12.4" height="8.79" fill="#c8cae4"/>
<rect x="458.8" y="285.70" width="12.4" height="3.13" fill="#eeeef7"/>
<rect x="458.8" y="288.54" width="12.4" height="28.61" fill="#c8cae4"/>
<rect x="458.8" y="316.85" width="12.4" height="17.29" fill="#a9add6"/>
<rect x="458.8" y="333.83" width="12.4" height="3.13" fill="#dfe0f0"/>
<rect x="458.8" y="336.66" width="12.4" height="20.12" fill="#a9add6"/>
<rect x="458.8" y="356.48" width="12.4" height="20.12" fill="#8c92c8"/>
<rect x="458.8" y="376.30" width="12.4" height="11.62" fill="#6c76ba"/>
<rect x="458.8" y="387.62" width="12.4" height="8.79" fill="#4c5cae"/>
<rect x="458.8" y="396.11" width="12.4" height="14.46" fill="#2a4cab"/>
<rect x="458.8" y="410.27" width="12.4" height="3.13" fill="#2babde"/>
<rect x="458.8" y="413.10" width="12.4" height="3.13" fill="#f0e028"/>
<rect x="458.8" y="415.93" width="12.4" height="3.13" fill="#60be8e"/>
<rect x="458.8" y="418.76" width="12.4" height="3.13" fill="#4dbaab"/>
<rect x="458.8" y="421.59" width="12.4" height="3.13" fill="#34b5dc"/>
<rect x="458.8" y="424.42" width="12.4" height="3.13" fill="#31b4e1"/>
<rect x="458.8" y="427.26" width="12.4" height="3.13" fill="#2a78c5"/>
<rect x="458.8" y="430.09" width="12.4" height="3.13" fill="#294eac"/>
<rect x="458.8" y="432.92" width="12.4" height="3.13" fill="#2a70c0"/>
<rect x="458.8" y="435.75" width="12.4" height="3.13" fill="#2a8cd1"/>
<rect x="458.8" y="438.58" width="12.4" height="3.13" fill="#265db6"/>
<rect x="458.8" y="441.41" width="12.4" height="3.13" fill="#2a70c0"/>
<rect x="458.8" y="444.24" width="12.4" height="0.56" fill="#2656b2"/>
<rect x="470.7" y="252.00" width="12.4" height="27.01" fill="#fbfbfd"/>
<rect x="470.7" y="278.71" width="12.4" height="3.13" fill="#c8cae4"/>
<rect x="470.7" y="281.54" width="12.4" height="3.13" fill="#fbfbfd"/>
<rect x="470.7" y="284.37" width="12.4" height="54.09" fill="#c8cae4"/>
<rect x="470.7" y="338.16" width="12.4" height="5.96" fill="#a9add6"/>
<rect x="470.7" y="343.82" width="12.4" height="3.13" fill="#eeeef7"/>
<rect x="470.7" y="346.66" width="12.4" height="20.12" fill="#a9add6"/>
<rect x="470.7" y="366.47" width="12.4" height="17.29" fill="#8c92c8"/>
<rect x="470.7" y="383.46" width="12.4" height="8.79" fill="#6c76ba"/>
<rect x="470.7" y="391.95" width="12.4" height="5.96" fill="#4c5cae"/>
<rect x="470.7" y="397.61" width="12.4" height="14.46" fill="#2a4cab"/>
<rect x="470.7" y="411.77" width="12.4" height="3.13" fill="#2babde"/>
<rect x="470.7" y="414.60" width="12.4" height="3.13" fill="#a01818"/>
<rect x="470.7" y="417.43" width="12.4" height="3.13" fill="#60be8e"/>
<rect x="470.7" y="420.26" width="12.4" height="3.13" fill="#4dbaab"/>
<rect x="470.7" y="423.09" width="12.4" height="3.13" fill="#34b5dc"/>
<rect x="470.7" y="425.92" width="12.4" height="3.13" fill="#2eb1e1"/>
<rect x="470.7" y="428.76" width="12.4" height="3.13" fill="#2a7dc8"/>
<rect x="470.7" y="431.59" width="12.4" height="3.13" fill="#2aaade"/>
<rect x="470.7" y="434.42" width="12.4" height="3.13" fill="#2868bc"/>
<rect x="470.7" y="437.25" width="12.4" height="3.13" fill="#299ed9"/>
<rect x="470.7" y="440.08" width="12.4" height="3.13" fill="#265bb5"/>
<rect x="470.7" y="442.91" width="12.4" height="1.89" fill="#2a82cb"/>
<rect x="482.6" y="252.00" width="12.4" height="26.98" fill="#fbfbfd"/>
<rect x="482.6" y="278.68" width="12.4" height="3.13" fill="#b8bcdd"/>
<rect x="482.6" y="281.51" width="12.4" height="3.13" fill="#fbfbfd"/>
<rect x="482.6" y="284.34" width="12.4" height="54.09" fill="#c8cae4"/>
<rect x="482.6" y="338.13" width="12.4" height="8.79" fill="#a9add6"/>
<rect x="482.6" y="346.62" width="12.4" height="3.13" fill="#eeeef7"/>
<rect x="482.6" y="349.46" width="12.4" height="22.95" fill="#a9add6"/>
<rect x="482.6" y="372.10" width="12.4" height="20.12" fill="#8c92c8"/>
<rect x="482.6" y="391.92" width="12.4" height="8.79" fill="#6c76ba"/>
<rect x="482.6" y="400.41" width="12.4" height="3.13" fill="#4c5cae"/>
<rect x="482.6" y="403.24" width="12.4" height="11.62" fill="#2a4cab"/>
<rect x="482.6" y="414.57" width="12.4" height="3.13" fill="#2babde"/>
<rect x="482.6" y="417.40" width="12.4" height="3.13" fill="#e02830"/>
<rect x="482.6" y="420.23" width="12.4" height="3.13" fill="#60be8e"/>
<rect x="482.6" y="423.06" width="12.4" height="3.13" fill="#4dbaab"/>
<rect x="482.6" y="425.89" width="12.4" height="3.13" fill="#34b5dc"/>
<rect x="482.6" y="428.72" width="12.4" height="3.13" fill="#2bacde"/>
<rect x="482.6" y="431.56" width="12.4" height="3.13" fill="#2a81ca"/>
<rect x="482.6" y="434.39" width="12.4" height="3.13" fill="#28a6dc"/>
<rect x="482.6" y="437.22" width="12.4" height="3.13" fill="#2a6ebf"/>
<rect x="482.6" y="440.05" width="12.4" height="3.13" fill="#294eac"/>
<rect x="482.6" y="442.88" width="12.4" height="1.92" fill="#2659b4"/>
<rect x="494.5" y="252.00" width="12.4" height="25.95" fill="#fbfbfd"/>
<rect x="494.5" y="277.65" width="12.4" height="3.13" fill="#c8cae4"/>
<rect x="494.5" y="280.48" width="12.4" height="3.13" fill="#fbfbfd"/>
<rect x="494.5" y="283.31" width="12.4" height="3.13" fill="#c8cae4"/>
<rect x="494.5" y="286.14" width="12.4" height="5.96" fill="#fbfbfd"/>
<rect x="494.5" y="291.80" width="12.4" height="11.62" fill="#c8cae4"/>
<rect x="494.5" y="303.13" width="12.4" height="3.13" fill="#eeeef7"/>
<rect x="494.5" y="305.96" width="12.4" height="42.77" fill="#c8cae4"/>
<rect x="494.5" y="348.42" width="12.4" height="31.44" fill="#a9add6"/>
<rect x="494.5" y="379.57" width="12.4" height="17.29" fill="#8c92c8"/>
<rect x="494.5" y="396.55" width="12.4" height="8.79" fill="#6c76ba"/>
<rect x="494.5" y="405.04" width="12.4" height="11.62" fill="#2a4cab"/>
<rect x="494.5" y="416.37" width="12.4" height="3.13" fill="#2babde"/>
<rect x="494.5" y="419.20" width="12.4" height="3.13" fill="#f09025"/>
<rect x="494.5" y="422.03" width="12.4" height="3.13" fill="#60be8e"/>
<rect x="494.5" y="424.86" width="12.4" height="3.13" fill="#4dbaab"/>
<rect x="494.5" y="427.69" width="12.4" height="3.13" fill="#34b5dc"/>
<rect x="494.5" y="430.52" width="12.4" height="3.13" fill="#2babde"/>
<rect x="494.5" y="433.36" width="12.4" height="3.13" fill="#2a75c3"/>
<rect x="494.5" y="436.19" width="12.4" height="3.13" fill="#2bacdf"/>
<rect x="494.5" y="439.02" width="12.4" height="3.13" fill="#2764ba"/>
<rect x="494.5" y="441.85" width="12.4" height="2.95" fill="#2a87ce"/>
<rect x="506.4" y="252.00" width="12.4" height="33.51" fill="#fbfbfd"/>
<rect x="506.4" y="285.21" width="12.4" height="5.96" fill="#c8cae4"/>
<rect x="506.4" y="290.87" width="12.4" height="3.13" fill="#f4f4fa"/>
<rect x="506.4" y="293.70" width="12.4" height="51.26" fill="#c8cae4"/>
<rect x="506.4" y="344.66" width="12.4" height="3.13" fill="#a9add6"/>
<rect x="506.4" y="347.49" width="12.4" height="3.13" fill="#c8cae4"/>
<rect x="506.4" y="350.32" width="12.4" height="3.13" fill="#dfe0f0"/>
<rect x="506.4" y="353.16" width="12.4" height="31.44" fill="#a9add6"/>
<rect x="506.4" y="384.30" width="12.4" height="14.46" fill="#8c92c8"/>
<rect x="506.4" y="398.45" width="12.4" height="8.79" fill="#6c76ba"/>
<rect x="506.4" y="406.94" width="12.4" height="14.46" fill="#2a4cab"/>
<rect x="506.4" y="421.10" width="12.4" height="3.13" fill="#8ac86d"/>
<rect x="506.4" y="423.93" width="12.4" height="3.13" fill="#52bba0"/>
<rect x="506.4" y="426.76" width="12.4" height="3.13" fill="#30b4e2"/>
<rect x="506.4" y="429.59" width="12.4" height="3.13" fill="#2a7bc7"/>
<rect x="506.4" y="432.42" width="12.4" height="3.13" fill="#2bacde"/>
<rect x="506.4" y="435.26" width="12.4" height="3.13" fill="#2a76c4"/>
<rect x="506.4" y="438.09" width="12.4" height="3.13" fill="#296abd"/>
<rect x="506.4" y="440.92" width="12.4" height="3.13" fill="#2659b4"/>
<rect x="506.4" y="443.75" width="12.4" height="1.05" fill="#294eac"/>
<rect x="518.3" y="252.00" width="12.4" height="46.44" fill="#fbfbfd"/>
<rect x="518.3" y="298.14" width="12.4" height="3.13" fill="#c8cae4"/>
<rect x="518.3" y="300.97" width="12.4" height="11.62" fill="#fbfbfd"/>
<rect x="518.3" y="312.29" width="12.4" height="39.93" fill="#c8cae4"/>
<rect x="518.3" y="351.92" width="12.4" height="3.13" fill="#a9add6"/>
<rect x="518.3" y="354.76" width="12.4" height="3.13" fill="#dfe0f0"/>
<rect x="518.3" y="357.59" width="12.4" height="3.13" fill="#c8cae4"/>
<rect x="518.3" y="360.42" width="12.4" height="3.13" fill="#a9add6"/>
<rect x="518.3" y="363.25" width="12.4" height="3.13" fill="#dfe0f0"/>
<rect x="518.3" y="366.08" width="12.4" height="5.96" fill="#a9add6"/>
<rect x="518.3" y="371.74" width="12.4" height="3.13" fill="#eeeef7"/>
<rect x="518.3" y="374.57" width="12.4" height="14.46" fill="#a9add6"/>
<rect x="518.3" y="388.73" width="12.4" height="11.62" fill="#8c92c8"/>
<rect x="518.3" y="400.05" width="12.4" height="11.62" fill="#6c76ba"/>
<rect x="518.3" y="411.38" width="12.4" height="11.62" fill="#2a4cab"/>
<rect x="518.3" y="422.70" width="12.4" height="3.13" fill="#97cb65"/>
<rect x="518.3" y="425.53" width="12.4" height="3.13" fill="#52bba0"/>
<rect x="518.3" y="428.36" width="12.4" height="3.13" fill="#30b4e2"/>
<rect x="518.3" y="431.19" width="12.4" height="3.13" fill="#2a7bc7"/>
<rect x="518.3" y="434.02" width="12.4" height="3.13" fill="#28a6dc"/>
<rect x="518.3" y="436.86" width="12.4" height="3.13" fill="#2a75c3"/>
<rect x="518.3" y="439.69" width="12.4" height="3.13" fill="#2662b9"/>
<rect x="518.3" y="442.52" width="12.4" height="2.28" fill="#2866bb"/>
<rect x="530.2" y="252.00" width="12.4" height="54.00" fill="#fbfbfd"/>
<rect x="530.2" y="305.70" width="12.4" height="3.13" fill="#c8cae4"/>
<rect x="530.2" y="308.53" width="12.4" height="11.62" fill="#fbfbfd"/>
<rect x="530.2" y="319.85" width="12.4" height="34.27" fill="#c8cae4"/>
<rect x="530.2" y="353.82" width="12.4" height="3.13" fill="#a9add6"/>
<rect x="530.2" y="356.66" width="12.4" height="3.13" fill="#c8cae4"/>
<rect x="530.2" y="359.49" width="12.4" height="3.13" fill="#a9add6"/>
<rect x="530.2" y="362.32" width="12.4" height="3.13" fill="#c8cae4"/>
<rect x="530.2" y="365.15" width="12.4" height="28.61" fill="#a9add6"/>
<rect x="530.2" y="393.46" width="12.4" height="11.62" fill="#8c92c8"/>
<rect x="530.2" y="404.78" width="12.4" height="8.79" fill="#6c76ba"/>
<rect x="530.2" y="413.28" width="12.4" height="11.62" fill="#2a4cab"/>
<rect x="530.2" y="424.60" width="12.4" height="3.13" fill="#97cb65"/>
<rect x="530.2" y="427.43" width="12.4" height="3.13" fill="#52bba0"/>
<rect x="530.2" y="430.26" width="12.4" height="3.13" fill="#30b4e2"/>
<rect x="530.2" y="433.09" width="12.4" height="3.13" fill="#2a7bc7"/>
<rect x="530.2" y="435.92" width="12.4" height="3.13" fill="#2caedf"/>
<rect x="530.2" y="438.76" width="12.4" height="3.13" fill="#294eac"/>
<rect x="530.2" y="441.59" width="12.4" height="3.13" fill="#265db6"/>
<rect x="530.2" y="444.42" width="12.4" height="0.38" fill="#2762b9"/>
<rect x="542.1" y="252.00" width="12.4" height="49.84" fill="#fbfbfd"/>
<rect x="542.1" y="301.54" width="12.4" height="3.13" fill="#c8cae4"/>
<rect x="542.1" y="304.37" width="12.4" height="11.62" fill="#fbfbfd"/>
<rect x="542.1" y="315.69" width="12.4" height="54.09" fill="#c8cae4"/>
<rect x="542.1" y="369.48" width="12.4" height="5.96" fill="#a9add6"/>
<rect x="542.1" y="375.14" width="12.4" height="3.13" fill="#8c92c8"/>
<rect x="542.1" y="377.97" width="12.4" height="20.12" fill="#a9add6"/>
<rect x="542.1" y="397.79" width="12.4" height="8.79" fill="#8c92c8"/>
<rect x="542.1" y="406.28" width="12.4" height="8.79" fill="#6c76ba"/>
<rect x="542.1" y="414.78" width="12.4" height="11.62" fill="#2a4cab"/>
<rect x="542.1" y="426.10" width="12.4" height="3.13" fill="#8ac86d"/>
<rect x="542.1" y="428.93" width="12.4" height="3.13" fill="#52bba0"/>
<rect x="542.1" y="431.76" width="12.4" height="3.13" fill="#30b4e2"/>
<rect x="542.1" y="434.59" width="12.4" height="3.13" fill="#2a7bc7"/>
<rect x="542.1" y="437.42" width="12.4" height="3.13" fill="#28a1da"/>
<rect x="542.1" y="440.26" width="12.4" height="3.13" fill="#2a73c2"/>
<rect x="542.1" y="443.09" width="12.4" height="1.71" fill="#2661b9"/>
<rect x="554.0" y="252.00" width="12.4" height="68.42" fill="#fbfbfd"/>
<rect x="554.0" y="320.12" width="12.4" height="3.13" fill="#eeeef7"/>
<rect x="554.0" y="322.95" width="12.4" height="3.13" fill="#fbfbfd"/>
<rect x="554.0" y="325.78" width="12.4" height="3.13" fill="#eeeef7"/>
<rect x="554.0" y="328.61" width="12.4" height="42.77" fill="#c8cae4"/>
<rect x="554.0" y="371.08" width="12.4" height="25.78" fill="#a9add6"/>
<rect x="554.0" y="396.56" width="12.4" height="8.79" fill="#8c92c8"/>
<rect x="554.0" y="405.05" width="12.4" height="8.79" fill="#6c76ba"/>
<rect x="554.0" y="413.54" width="12.4" height="3.13" fill="#4c5cae"/>
<rect x="554.0" y="416.38" width="12.4" height="11.62" fill="#2a4cab"/>
<rect x="554.0" y="427.70" width="12.4" height="3.13" fill="#7cc476"/>
<rect x="554.0" y="430.53" width="12.4" height="3.13" fill="#52bba0"/>
<rect x="554.0" y="433.36" width="12.4" height="3.13" fill="#30b4e2"/>
<rect x="554.0" y="436.19" width="12.4" height="3.13" fill="#2a7bc7"/>
<rect x="554.0" y="439.02" width="12.4" height="3.13" fill="#28a3db"/>
<rect x="554.0" y="441.86" width="12.4" height="2.94" fill="#2a79c5"/>
<rect x="565.9" y="252.00" width="12.4" height="58.80" fill="#fbfbfd"/>
<rect x="565.9" y="310.50" width="12.4" height="3.13" fill="#eeeef7"/>
<rect x="565.9" y="313.33" width="12.4" height="3.13" fill="#c8cae4"/>
<rect x="565.9" y="316.16" width="12.4" height="5.96" fill="#fbfbfd"/>
<rect x="565.9" y="321.82" width="12.4" height="56.92" fill="#c8cae4"/>
<rect x="565.9" y="378.44" width="12.4" height="25.78" fill="#a9add6"/>
<rect x="565.9" y="403.92" width="12.4" height="11.62" fill="#8c92c8"/>
<rect x="565.9" y="415.24" width="12.4" height="14.46" fill="#2a4cab"/>
<rect x="565.9" y="429.40" width="12.4" height="3.13" fill="#a5cf5c"/>
<rect x="565.9" y="432.23" width="12.4" height="3.13" fill="#52bba0"/>
<rect x="565.9" y="435.06" width="12.4" height="3.13" fill="#30b4e2"/>
<rect x="565.9" y="437.89" width="12.4" height="3.13" fill="#2a7bc7"/>
<rect x="565.9" y="440.72" width="12.4" height="3.13" fill="#2daee0"/>
<rect x="565.9" y="443.56" width="12.4" height="1.24" fill="#2a7ac6"/>
<rect x="577.8" y="252.00" width="12.4" height="60.20" fill="#fbfbfd"/>
<rect x="577.8" y="311.90" width="12.4" height="3.13" fill="#c8cae4"/>
<rect x="577.8" y="314.73" width="12.4" height="5.96" fill="#fbfbfd"/>
<rect x="577.8" y="320.39" width="12.4" height="3.13" fill="#c8cae4"/>
<rect x="577.8" y="323.22" width="12.4" height="3.13" fill="#fbfbfd"/>
<rect x="577.8" y="326.05" width="12.4" height="3.13" fill="#f4f4fa"/>
<rect x="577.8" y="328.88" width="12.4" height="3.13" fill="#fbfbfd"/>
<rect x="577.8" y="331.71" width="12.4" height="5.96" fill="#f4f4fa"/>
<rect x="577.8" y="337.38" width="12.4" height="3.13" fill="#fbfbfd"/>
<rect x="577.8" y="340.21" width="12.4" height="37.10" fill="#c8cae4"/>
<rect x="577.8" y="377.01" width="12.4" height="34.27" fill="#a9add6"/>
<rect x="577.8" y="410.98" width="12.4" height="5.96" fill="#8c92c8"/>
<rect x="577.8" y="416.64" width="12.4" height="3.13" fill="#4c5cae"/>
<rect x="577.8" y="419.48" width="12.4" height="11.62" fill="#2a4cab"/>
<rect x="577.8" y="430.80" width="12.4" height="3.13" fill="#eb6728"/>
<rect x="577.8" y="433.63" width="12.4" height="3.13" fill="#52bba0"/>
<rect x="577.8" y="436.46" width="12.4" height="3.13" fill="#30b4e2"/>
<rect x="577.8" y="439.29" width="12.4" height="3.13" fill="#2a7bc7"/>
<rect x="577.8" y="442.12" width="12.4" height="2.68" fill="#29a8dd"/>
<rect x="589.7" y="252.00" width="12.4" height="60.20" fill="#fbfbfd"/>
<rect x="589.7" y="311.90" width="12.4" height="3.13" fill="#c8cae4"/>
<rect x="589.7" y="314.73" width="12.4" height="8.79" fill="#fbfbfd"/>
<rect x="589.7" y="323.22" width="12.4" height="3.13" fill="#c8cae4"/>
<rect x="589.7" y="326.05" width="12.4" height="5.96" fill="#fbfbfd"/>
<rect x="589.7" y="331.71" width="12.4" height="3.13" fill="#c8cae4"/>
<rect x="589.7" y="334.55" width="12.4" height="11.62" fill="#fbfbfd"/>
<rect x="589.7" y="345.87" width="12.4" height="45.60" fill="#c8cae4"/>
<rect x="589.7" y="391.17" width="12.4" height="22.95" fill="#a9add6"/>
<rect x="589.7" y="413.81" width="12.4" height="5.96" fill="#8c92c8"/>
<rect x="589.7" y="419.48" width="12.4" height="3.13" fill="#6c76ba"/>
<rect x="589.7" y="422.31" width="12.4" height="8.79" fill="#2a4cab"/>
<rect x="589.7" y="430.80" width="12.4" height="3.13" fill="#63bf8a"/>
<rect x="589.7" y="433.63" width="12.4" height="3.13" fill="#52bba0"/>
<rect x="589.7" y="436.46" width="12.4" height="3.13" fill="#30b4e2"/>
<rect x="589.7" y="439.29" width="12.4" height="3.13" fill="#2a7bc7"/>
<rect x="589.7" y="442.12" width="12.4" height="2.68" fill="#2eb1e1"/>
<rect x="601.6" y="252.00" width="12.4" height="64.73" fill="#fbfbfd"/>
<rect x="601.6" y="316.43" width="12.4" height="5.96" fill="#c8cae4"/>
<rect x="601.6" y="322.09" width="12.4" height="3.13" fill="#fbfbfd"/>
<rect x="601.6" y="324.92" width="12.4" height="3.13" fill="#c8cae4"/>
<rect x="601.6" y="327.75" width="12.4" height="5.96" fill="#fbfbfd"/>
<rect x="601.6" y="333.41" width="12.4" height="3.13" fill="#c8cae4"/>
<rect x="601.6" y="336.25" width="12.4" height="17.29" fill="#fbfbfd"/>
<rect x="601.6" y="353.23" width="12.4" height="28.61" fill="#c8cae4"/>
<rect x="601.6" y="381.54" width="12.4" height="3.13" fill="#a9add6"/>
<rect x="601.6" y="384.37" width="12.4" height="5.96" fill="#c8cae4"/>
<rect x="601.6" y="390.03" width="12.4" height="3.13" fill="#a9add6"/>
<rect x="601.6" y="392.87" width="12.4" height="5.96" fill="#c8cae4"/>
<rect x="601.6" y="398.53" width="12.4" height="17.29" fill="#a9add6"/>
<rect x="601.6" y="415.51" width="12.4" height="5.96" fill="#8c92c8"/>
<rect x="601.6" y="421.18" width="12.4" height="3.13" fill="#4c5cae"/>
<rect x="601.6" y="424.01" width="12.4" height="8.79" fill="#2a4cab"/>
<rect x="601.6" y="432.50" width="12.4" height="3.13" fill="#63bf8a"/>
<rect x="601.6" y="435.33" width="12.4" height="3.13" fill="#52bba0"/>
<rect x="601.6" y="438.16" width="12.4" height="3.13" fill="#30b4e2"/>
<rect x="601.6" y="440.99" width="12.4" height="3.13" fill="#2a7bc7"/>
<rect x="601.6" y="443.82" width="12.4" height="0.98" fill="#2aa9dd"/>
<rect x="613.5" y="252.00" width="12.4" height="83.31" fill="#fbfbfd"/>
<rect x="613.5" y="335.01" width="12.4" height="3.13" fill="#c8cae4"/>
<rect x="613.5" y="337.85" width="12.4" height="5.96" fill="#fbfbfd"/>
<rect x="613.5" y="343.51" width="12.4" height="3.13" fill="#c8cae4"/>
<rect x="613.5" y="346.34" width="12.4" height="8.79" fill="#fbfbfd"/>
<rect x="613.5" y="354.83" width="12.4" height="45.60" fill="#c8cae4"/>
<rect x="613.5" y="400.13" width="12.4" height="20.12" fill="#a9add6"/>
<rect x="613.5" y="419.94" width="12.4" height="5.96" fill="#8c92c8"/>
<rect x="613.5" y="425.61" width="12.4" height="8.79" fill="#2a4cab"/>
<rect x="613.5" y="434.10" width="12.4" height="3.13" fill="#f09f20"/>
<rect x="613.5" y="436.93" width="12.4" height="3.13" fill="#52bba0"/>
<rect x="613.5" y="439.76" width="12.4" height="3.13" fill="#30b4e2"/>
<rect x="613.5" y="442.59" width="12.4" height="2.21" fill="#2a7bc7"/>
<rect x="625.4" y="252.00" width="11.9" height="74.82" fill="#fbfbfd"/>
<rect x="625.4" y="326.52" width="11.9" height="3.13" fill="#c8cae4"/>
<rect x="625.4" y="329.35" width="11.9" height="3.13" fill="#fbfbfd"/>
<rect x="625.4" y="332.18" width="11.9" height="5.96" fill="#c8cae4"/>
<rect x="625.4" y="337.85" width="11.9" height="3.13" fill="#fbfbfd"/>
<rect x="625.4" y="340.68" width="11.9" height="3.13" fill="#c8cae4"/>
<rect x="625.4" y="343.51" width="11.9" height="8.79" fill="#fbfbfd"/>
<rect x="625.4" y="352.00" width="11.9" height="51.26" fill="#c8cae4"/>
<rect x="625.4" y="402.96" width="11.9" height="3.13" fill="#a9add6"/>
<rect x="625.4" y="405.79" width="11.9" height="3.13" fill="#eeeef7"/>
<rect x="625.4" y="408.62" width="11.9" height="11.62" fill="#a9add6"/>
<rect x="625.4" y="419.94" width="11.9" height="5.96" fill="#8c92c8"/>
<rect x="625.4" y="425.61" width="11.9" height="3.13" fill="#4c5cae"/>
<rect x="625.4" y="428.44" width="11.9" height="5.96" fill="#2a4cab"/>
<rect x="625.4" y="434.10" width="11.9" height="3.13" fill="#69c083"/>
<rect x="625.4" y="436.93" width="11.9" height="3.13" fill="#52bba0"/>
<rect x="625.4" y="439.76" width="11.9" height="3.13" fill="#30b4e2"/>
<rect x="625.4" y="442.59" width="11.9" height="2.21" fill="#2a7bc7"/>
</g>
<rect x="399.3" y="252.0" width="238.0" height="192.5" fill="none" stroke="#bcbcbc" stroke-width="0.8"/>
<path d="M637.3 252.0h-2.4M399.3 252.0h2.4M637.3 257.6h-1.4M399.3 257.6h1.4M637.3 263.2h-1.4M399.3 263.2h1.4M637.3 268.9h-1.4M399.3 268.9h1.4M637.3 274.5h-1.4M399.3 274.5h1.4M637.3 280.1h-2.4M399.3 280.1h2.4M637.3 285.7h-1.4M399.3 285.7h1.4M637.3 291.3h-1.4M399.3 291.3h1.4M637.3 297.0h-1.4M399.3 297.0h1.4M637.3 302.6h-1.4M399.3 302.6h1.4M637.3 308.2h-2.4M399.3 308.2h2.4M637.3 313.8h-1.4M399.3 313.8h1.4M637.3 319.4h-1.4M399.3 319.4h1.4M637.3 325.1h-1.4M399.3 325.1h1.4M637.3 330.7h-1.4M399.3 330.7h1.4M637.3 336.3h-2.4M399.3 336.3h2.4M637.3 341.9h-1.4M399.3 341.9h1.4M637.3 347.5h-1.4M399.3 347.5h1.4M637.3 353.2h-1.4M399.3 353.2h1.4M637.3 358.8h-1.4M399.3 358.8h1.4M637.3 364.4h-2.4M399.3 364.4h2.4M637.3 370.0h-1.4M399.3 370.0h1.4M637.3 375.6h-1.4M399.3 375.6h1.4M637.3 381.3h-1.4M399.3 381.3h1.4M637.3 386.9h-1.4M399.3 386.9h1.4M637.3 392.5h-2.4M399.3 392.5h2.4M637.3 398.1h-1.4M399.3 398.1h1.4M637.3 403.7h-1.4M399.3 403.7h1.4M637.3 409.4h-1.4M399.3 409.4h1.4M637.3 415.0h-1.4M399.3 415.0h1.4M637.3 420.6h-2.4M399.3 420.6h2.4M637.3 426.2h-1.4M399.3 426.2h1.4M637.3 431.8h-1.4M399.3 431.8h1.4M637.3 437.5h-1.4M399.3 437.5h1.4M637.3 443.1h-1.4M399.3 443.1h1.4M399.8 444.5v-1.4M399.8 252.0v1.4M405.4 444.5v-2.4M405.4 252.0v2.4M411.0 444.5v-1.4M411.0 252.0v1.4M416.7 444.5v-1.4M416.7 252.0v1.4M422.3 444.5v-1.4M422.3 252.0v1.4M428.0 444.5v-1.4M428.0 252.0v1.4M433.6 444.5v-1.4M433.6 252.0v1.4M439.3 444.5v-1.4M439.3 252.0v1.4M444.9 444.5v-1.4M444.9 252.0v1.4M450.6 444.5v-1.4M450.6 252.0v1.4M456.2 444.5v-1.4M456.2 252.0v1.4M461.8 444.5v-2.4M461.8 252.0v2.4M467.5 444.5v-1.4M467.5 252.0v1.4M473.1 444.5v-1.4M473.1 252.0v1.4M478.8 444.5v-1.4M478.8 252.0v1.4M484.4 444.5v-1.4M484.4 252.0v1.4M490.1 444.5v-1.4M490.1 252.0v1.4M495.7 444.5v-1.4M495.7 252.0v1.4M501.4 444.5v-1.4M501.4 252.0v1.4M507.0 444.5v-1.4M507.0 252.0v1.4M512.7 444.5v-1.4M512.7 252.0v1.4M518.3 444.5v-2.4M518.3 252.0v2.4M523.9 444.5v-1.4M523.9 252.0v1.4M529.6 444.5v-1.4M529.6 252.0v1.4M535.2 444.5v-1.4M535.2 252.0v1.4M540.9 444.5v-1.4M540.9 252.0v1.4M546.5 444.5v-1.4M546.5 252.0v1.4M552.2 444.5v-1.4M552.2 252.0v1.4M557.8 444.5v-1.4M557.8 252.0v1.4M563.5 444.5v-1.4M563.5 252.0v1.4M569.1 444.5v-1.4M569.1 252.0v1.4M574.8 444.5v-2.4M574.8 252.0v2.4M580.4 444.5v-1.4M580.4 252.0v1.4M586.0 444.5v-1.4M586.0 252.0v1.4M591.7 444.5v-1.4M591.7 252.0v1.4M597.3 444.5v-1.4M597.3 252.0v1.4M603.0 444.5v-1.4M603.0 252.0v1.4M608.6 444.5v-1.4M608.6 252.0v1.4M614.3 444.5v-1.4M614.3 252.0v1.4M619.9 444.5v-1.4M619.9 252.0v1.4M625.6 444.5v-1.4M625.6 252.0v1.4M631.2 444.5v-2.4M631.2 252.0v2.4M636.8 444.5v-1.4M636.8 252.0v1.4" stroke="#666" stroke-width="0.6" fill="none"/>
<rect x="645.9" y="251.7" width="11.1" height="192.8" fill="url(#g22)" stroke="#c8c8c8" stroke-width="0.8"/>
<line x1="645.9" y1="413.2" x2="647.7" y2="413.2" stroke="#555" stroke-width="0.6"/>
<line x1="657.0" y1="413.2" x2="655.2" y2="413.2" stroke="#555" stroke-width="0.6"/>
<text x="658.3" y="417.6" font-size="11.2" text-anchor="start" fill="#141414">1</text>
<line x1="645.9" y1="376.9" x2="647.7" y2="376.9" stroke="#555" stroke-width="0.6"/>
<line x1="657.0" y1="376.9" x2="655.2" y2="376.9" stroke="#555" stroke-width="0.6"/>
<text x="658.3" y="381.3" font-size="11.2" text-anchor="start" fill="#141414">2</text>
<line x1="645.9" y1="340.6" x2="647.7" y2="340.6" stroke="#555" stroke-width="0.6"/>
<line x1="657.0" y1="340.6" x2="655.2" y2="340.6" stroke="#555" stroke-width="0.6"/>
<text x="658.3" y="345.0" font-size="11.2" text-anchor="start" fill="#141414">3</text>
<line x1="645.9" y1="304.3" x2="647.7" y2="304.3" stroke="#555" stroke-width="0.6"/>
<line x1="657.0" y1="304.3" x2="655.2" y2="304.3" stroke="#555" stroke-width="0.6"/>
<text x="658.3" y="308.7" font-size="11.2" text-anchor="start" fill="#141414">4</text>
<line x1="645.9" y1="268.0" x2="647.7" y2="268.0" stroke="#555" stroke-width="0.6"/>
<line x1="657.0" y1="268.0" x2="655.2" y2="268.0" stroke="#555" stroke-width="0.6"/>
<text x="658.3" y="272.4" font-size="11.2" text-anchor="start" fill="#141414">5</text>
<text x="397.0" y="256.4" font-size="11.2" text-anchor="end" fill="#141414">4</text>
<text x="397.0" y="284.5" font-size="11.2" text-anchor="end" fill="#141414">3.5</text>
<text x="397.0" y="312.6" font-size="11.2" text-anchor="end" fill="#141414">3</text>
<text x="397.0" y="340.7" font-size="11.2" text-anchor="end" fill="#141414">2.5</text>
<text x="397.0" y="368.8" font-size="11.2" text-anchor="end" fill="#141414">2</text>
<text x="397.0" y="396.9" font-size="11.2" text-anchor="end" fill="#141414">1.5</text>
<text x="397.0" y="425.0" font-size="11.2" text-anchor="end" fill="#141414">1</text>
<text x="405.4" y="456.0" font-size="11.2" text-anchor="middle" fill="#141414">2</text>
<text x="461.8" y="456.0" font-size="11.2" text-anchor="middle" fill="#141414">2.5</text>
<text x="518.3" y="456.0" font-size="11.2" text-anchor="middle" fill="#141414">3</text>
<text x="574.8" y="456.0" font-size="11.2" text-anchor="middle" fill="#141414">3.5</text>
<text x="631.2" y="456.0" font-size="11.2" text-anchor="middle" fill="#141414">4</text>
<text transform="translate(377.4,415.0) rotate(-90)" font-size="13.8" fill="#141414" textLength="132.5" lengthAdjust="spacingAndGlyphs">Intensity [10<tspan font-size="11.0" dy="-5.6">13</tspan><tspan dy="5.6"> W/cm</tspan><tspan font-size="11.0" dy="-5.6">2</tspan><tspan dy="5.6">]</tspan></text>
<text x="467.7" y="469.3" font-size="13.4" text-anchor="start" fill="#141414" textLength="99.8" lengthAdjust="spacingAndGlyphs">Wavelength [&#181;m]</text>
<text transform="translate(680.4,382.2) rotate(-90)" font-size="11.3" fill="#141414" textLength="69.5" lengthAdjust="spacingAndGlyphs" xml:space="preserve">&#916;N<tspan font-size="8.8" dy="3.8">e</tspan><tspan dy="-3.8">/N</tspan><tspan font-size="8.8" dy="3.8">e</tspan><tspan dy="-3.8">  [x100]</tspan></text>
<text x="602.6" y="275.7" font-family="Liberation Serif, serif" font-size="22.5" fill="#1a1a1a">(d)</text>
</svg>
</body></html>
